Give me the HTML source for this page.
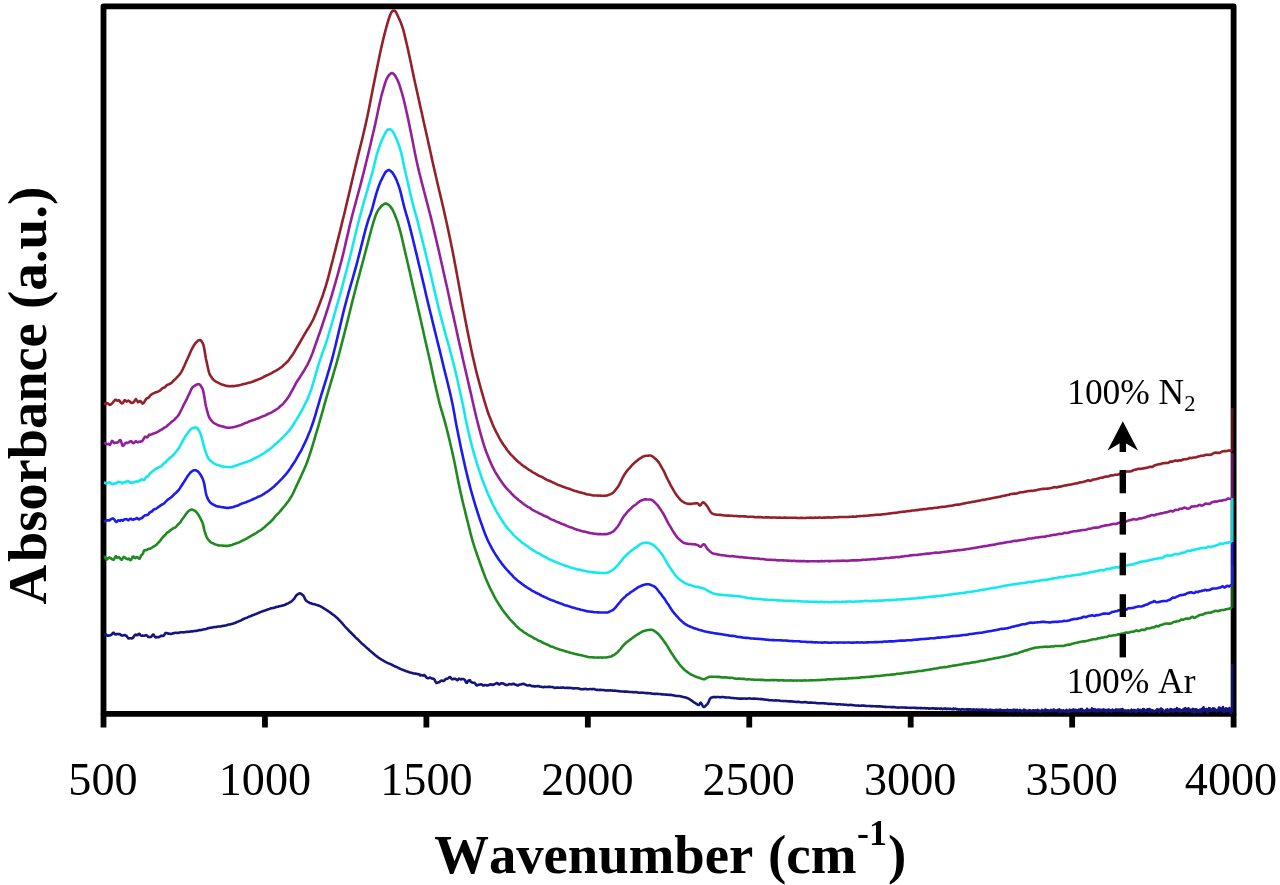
<!DOCTYPE html>
<html><head><meta charset="utf-8"><title>FTIR spectra</title>
<style>
html,body{margin:0;padding:0;background:#fff;}
body{width:1280px;height:885px;overflow:hidden;font-family:"Liberation Serif",serif;}
svg{display:block;will-change:transform;}
text{font-family:"Liberation Serif",serif;fill:#000;font-kerning:none;}
.tk{font-size:46.2px;}
.ax{font-size:55px;font-weight:bold;}
.an{font-size:35.4px;}
</style></head><body>
<svg width="1280" height="885" viewBox="0 0 1280 885">
<rect x="0" y="0" width="1280" height="885" fill="#fff"/>
<g id="frame">
<rect x="103.5" y="6.4" width="1130.10" height="707.40" fill="none" stroke="#000" stroke-width="5.8" stroke-linejoin="round"/>
<line x1="103.50" y1="713.80" x2="103.50" y2="727.5" stroke="#000" stroke-width="5.8"/>
<line x1="264.94" y1="713.80" x2="264.94" y2="727.5" stroke="#000" stroke-width="5.8"/>
<line x1="426.39" y1="713.80" x2="426.39" y2="727.5" stroke="#000" stroke-width="5.8"/>
<line x1="587.83" y1="713.80" x2="587.83" y2="727.5" stroke="#000" stroke-width="5.8"/>
<line x1="749.27" y1="713.80" x2="749.27" y2="727.5" stroke="#000" stroke-width="5.8"/>
<line x1="910.71" y1="713.80" x2="910.71" y2="727.5" stroke="#000" stroke-width="5.8"/>
<line x1="1072.16" y1="713.80" x2="1072.16" y2="727.5" stroke="#000" stroke-width="5.8"/>
<line x1="1233.60" y1="713.80" x2="1233.60" y2="727.5" stroke="#000" stroke-width="5.8"/>
</g>
<g id="curves">
<path d="M104.0,635.43 L104.5,635.24 L105.0,634.84 L105.5,634.53 L106.0,634.64 L106.5,634.81 L107.0,635.21 L107.5,635.62 L108.0,635.59 L108.5,635.65 L109.0,635.61 L109.5,635.44 L110.0,635.46 L110.5,635.19 L111.0,635.03 L111.5,634.69 L112.0,634.02 L112.5,633.49 L113.0,632.92 L113.5,632.70 L114.0,632.96 L114.5,633.57 L115.0,634.15 L115.5,634.48 L116.0,634.47 L116.5,634.17 L117.0,633.90 L117.5,633.94 L118.0,634.09 L118.5,634.15 L119.0,634.04 L119.5,634.15 L120.0,634.21 L120.5,634.52 L121.0,635.19 L121.5,635.29 L122.0,635.52 L122.5,635.64 L123.0,635.42 L123.5,635.33 L124.0,635.18 L124.5,635.17 L125.0,635.06 L125.5,635.39 L126.0,635.83 L126.5,635.90 L127.0,636.75 L127.5,637.32 L128.0,637.71 L128.5,638.44 L129.0,638.43 L129.5,638.21 L130.0,638.31 L130.5,638.19 L131.0,638.20 L131.5,638.51 L132.0,638.32 L132.5,638.16 L133.0,637.80 L133.5,637.02 L134.0,636.35 L134.5,635.54 L135.0,634.94 L135.5,634.66 L136.0,634.80 L136.5,634.99 L137.0,635.13 L137.5,635.19 L138.0,634.54 L138.5,634.13 L139.0,633.89 L139.5,633.78 L140.0,634.48 L140.5,635.08 L141.0,635.56 L141.5,635.74 L142.0,635.68 L142.5,635.59 L143.0,635.55 L143.5,635.81 L144.0,635.73 L144.5,635.69 L145.0,635.54 L145.5,635.25 L146.0,635.15 L146.5,635.21 L147.0,635.62 L147.5,636.08 L148.0,636.73 L148.5,636.99 L149.0,637.07 L149.5,637.14 L150.0,637.05 L150.5,637.04 L151.0,636.87 L151.5,636.46 L152.0,635.70 L152.5,635.21 L153.0,634.63 L153.5,634.54 L154.0,635.40 L154.5,636.04 L155.0,636.88 L155.5,637.47 L156.0,637.22 L156.5,637.14 L157.0,637.06 L157.5,637.04 L158.0,637.24 L158.5,637.22 L159.0,637.13 L159.5,636.87 L160.0,636.36 L160.5,636.14 L161.0,635.78 L161.5,635.62 L162.0,635.84 L162.5,635.85 L163.0,636.00 L163.5,635.86 L164.0,635.25 L164.5,634.49 L165.0,633.82 L165.5,633.03 L166.0,632.93 L166.5,633.00 L167.0,632.98 L167.5,633.37 L168.0,633.38 L168.5,633.67 L169.0,633.66 L169.5,633.73 L170.0,633.87 L170.5,633.81 L171.0,634.04 L171.5,633.96 L172.0,633.64 L172.5,633.50 L173.0,633.28 L173.5,633.15 L174.0,633.15 L174.5,633.01 L175.0,632.85 L175.5,632.75 L176.0,632.68 L176.5,632.78 L177.0,632.98 L177.5,633.02 L178.0,633.01 L178.5,632.85 L179.0,632.63 L179.5,632.53 L180.0,632.43 L180.5,632.37 L181.0,632.28 L181.5,632.26 L182.0,632.22 L182.5,632.24 L183.0,632.34 L183.5,632.34 L184.0,632.32 L184.5,632.32 L185.0,632.22 L185.5,632.00 L186.0,631.91 L186.5,631.79 L187.0,631.74 L187.5,631.86 L188.0,631.87 L188.5,631.86 L189.0,631.80 L189.5,631.68 L190.0,631.52 L190.5,631.44 L191.0,631.35 L191.5,631.33 L192.0,631.41 L192.5,631.35 L193.0,631.29 L193.5,631.20 L194.0,631.06 L194.5,630.99 L195.0,630.93 L195.5,630.88 L196.0,630.86 L196.5,630.85 L197.0,630.80 L197.5,630.65 L198.0,630.48 L198.5,630.31 L199.0,630.17 L199.5,630.16 L200.0,630.14 L200.5,630.10 L201.0,630.07 L201.5,629.95 L202.0,629.87 L202.5,629.72 L203.0,629.55 L203.5,629.43 L204.0,629.28 L204.5,629.26 L205.0,629.26 L205.5,629.18 L206.0,629.07 L206.5,628.85 L207.0,628.57 L207.5,628.36 L208.0,628.27 L208.5,628.15 L209.0,628.06 L209.5,627.95 L210.0,627.78 L210.5,627.69 L211.0,627.67 L211.5,627.62 L212.0,627.55 L212.5,627.46 L213.0,627.32 L213.5,627.19 L214.0,627.12 L214.5,627.06 L215.0,627.03 L215.5,627.02 L216.0,626.96 L216.5,626.88 L217.0,626.77 L217.5,626.66 L218.0,626.57 L218.5,626.51 L219.0,626.49 L219.5,626.47 L220.0,626.44 L220.5,626.41 L221.0,626.34 L221.5,626.23 L222.0,626.12 L222.5,625.98 L223.0,625.86 L223.5,625.77 L224.0,625.69 L224.5,625.64 L225.0,625.57 L225.5,625.51 L226.0,625.39 L226.5,625.26 L227.0,625.08 L227.5,624.85 L228.0,624.67 L228.5,624.52 L229.0,624.44 L229.5,624.43 L230.0,624.39 L230.5,624.31 L231.0,624.20 L231.5,624.06 L232.0,623.94 L232.5,623.80 L233.0,623.65 L233.5,623.49 L234.0,623.32 L234.5,623.14 L235.0,622.94 L235.5,622.71 L236.0,622.49 L236.5,622.27 L237.0,622.04 L237.5,621.84 L238.0,621.58 L238.5,621.37 L239.0,621.18 L239.5,620.98 L240.0,620.84 L240.5,620.63 L241.0,620.35 L241.5,620.08 L242.0,619.77 L242.5,619.48 L243.0,619.26 L243.5,619.02 L244.0,618.80 L244.5,618.59 L245.0,618.39 L245.5,618.19 L246.0,618.03 L246.5,617.82 L247.0,617.59 L247.5,617.34 L248.0,617.07 L248.5,616.84 L249.0,616.65 L249.5,616.52 L250.0,616.37 L250.5,616.20 L251.0,615.99 L251.5,615.73 L252.0,615.49 L252.5,615.29 L253.0,615.10 L253.5,614.94 L254.0,614.76 L254.5,614.54 L255.0,614.32 L255.5,614.11 L256.0,613.91 L256.5,613.75 L257.0,613.54 L257.5,613.31 L258.0,613.08 L258.5,612.85 L259.0,612.68 L259.5,612.50 L260.0,612.31 L260.5,612.10 L261.0,611.88 L261.5,611.66 L262.0,611.45 L262.5,611.28 L263.0,611.12 L263.5,611.00 L264.0,610.85 L264.5,610.70 L265.0,610.53 L265.5,610.32 L266.0,610.10 L266.5,609.91 L267.0,609.74 L267.5,609.60 L268.0,609.47 L268.5,609.32 L269.0,609.11 L269.5,608.90 L270.0,608.67 L270.5,608.49 L271.0,608.33 L271.5,608.22 L272.0,608.16 L272.5,608.05 L273.0,607.99 L273.5,607.92 L274.0,607.78 L274.5,607.65 L275.0,607.48 L275.5,607.27 L276.0,607.11 L276.5,606.98 L277.0,606.89 L277.5,606.81 L278.0,606.68 L278.5,606.52 L279.0,606.36 L279.5,606.22 L280.0,606.12 L280.5,606.02 L281.0,605.91 L281.5,605.79 L282.0,605.64 L282.5,605.50 L283.0,605.39 L283.5,605.28 L284.0,605.16 L284.5,605.00 L285.0,604.79 L285.5,604.53 L286.0,604.24 L286.5,604.01 L287.0,603.80 L287.5,603.63 L288.0,603.46 L288.5,603.20 L289.0,602.89 L289.5,602.55 L290.0,602.24 L290.5,601.94 L291.0,601.66 L291.5,601.34 L292.0,600.91 L292.5,600.45 L293.0,599.95 L293.5,599.45 L294.0,598.89 L294.5,598.19 L295.0,597.41 L295.5,596.60 L296.0,595.88 L296.5,595.27 L297.0,594.84 L297.5,594.48 L298.0,594.13 L298.5,593.80 L299.0,593.55 L299.5,593.41 L300.0,593.37 L300.5,593.50 L301.0,593.79 L301.5,594.10 L302.0,594.47 L302.5,594.87 L303.0,595.24 L303.5,595.80 L304.0,596.70 L304.5,597.77 L305.0,598.87 L305.5,599.84 L306.0,600.55 L306.5,600.94 L307.0,601.26 L307.5,601.60 L308.0,601.92 L308.5,602.22 L309.0,602.53 L309.5,602.77 L310.0,602.97 L310.5,603.15 L311.0,603.31 L311.5,603.50 L312.0,603.72 L312.5,603.87 L313.0,604.00 L313.5,604.07 L314.0,604.15 L314.5,604.24 L315.0,604.39 L315.5,604.58 L316.0,604.73 L316.5,604.91 L317.0,605.03 L317.5,605.16 L318.0,605.32 L318.5,605.49 L319.0,605.69 L319.5,605.90 L320.0,606.12 L320.5,606.36 L321.0,606.62 L321.5,606.89 L322.0,607.20 L322.5,607.49 L323.0,607.75 L323.5,608.06 L324.0,608.34 L324.5,608.67 L325.0,609.04 L325.5,609.37 L326.0,609.72 L326.5,610.01 L327.0,610.32 L327.5,610.64 L328.0,610.97 L328.5,611.35 L329.0,611.69 L329.5,612.04 L330.0,612.38 L330.5,612.73 L331.0,613.11 L331.5,613.49 L332.0,613.86 L332.5,614.22 L333.0,614.58 L333.5,614.91 L334.0,615.30 L334.5,615.70 L335.0,616.11 L335.5,616.55 L336.0,616.99 L336.5,617.39 L337.0,617.85 L337.5,618.31 L338.0,618.80 L338.5,619.34 L339.0,619.86 L339.5,620.40 L340.0,620.95 L340.5,621.45 L341.0,621.97 L341.5,622.49 L342.0,623.02 L342.5,623.61 L343.0,624.24 L343.5,624.83 L344.0,625.41 L344.5,626.00 L345.0,626.55 L345.5,627.10 L346.0,627.63 L346.5,628.08 L347.0,628.57 L347.5,629.11 L348.0,629.66 L348.5,630.25 L349.0,630.79 L349.5,631.30 L350.0,631.77 L350.5,632.26 L351.0,632.76 L351.5,633.24 L352.0,633.78 L352.5,634.27 L353.0,634.77 L353.5,635.24 L354.0,635.73 L354.5,636.23 L355.0,636.76 L355.5,637.32 L356.0,637.80 L356.5,638.24 L357.0,638.67 L357.5,639.11 L358.0,639.61 L358.5,640.12 L359.0,640.63 L359.5,641.12 L360.0,641.60 L360.5,642.13 L361.0,642.66 L361.5,643.18 L362.0,643.65 L362.5,644.05 L363.0,644.44 L363.5,644.84 L364.0,645.25 L364.5,645.70 L365.0,646.17 L365.5,646.63 L366.0,647.12 L366.5,647.58 L367.0,648.01 L367.5,648.44 L368.0,648.85 L368.5,649.29 L369.0,649.75 L369.5,650.20 L370.0,650.67 L370.5,651.10 L371.0,651.51 L371.5,651.94 L372.0,652.33 L372.5,652.76 L373.0,653.20 L373.5,653.63 L374.0,654.10 L374.5,654.54 L375.0,654.95 L375.5,655.35 L376.0,655.72 L376.5,656.09 L377.0,656.47 L377.5,656.84 L378.0,657.23 L378.5,657.59 L379.0,657.95 L379.5,658.30 L380.0,658.61 L380.5,658.92 L381.0,659.23 L381.5,659.52 L382.0,659.85 L382.5,660.16 L383.0,660.45 L383.5,660.74 L384.0,661.00 L384.5,661.28 L385.0,661.54 L385.5,661.80 L386.0,662.06 L386.5,662.32 L387.0,662.61 L387.5,662.88 L388.0,663.12 L388.5,663.34 L389.0,663.50 L389.5,663.70 L390.0,663.88 L390.5,664.05 L391.0,664.29 L391.5,664.51 L392.0,664.78 L392.5,665.08 L393.0,665.39 L393.5,665.69 L394.0,665.98 L394.5,666.25 L395.0,666.43 L395.5,666.59 L396.0,666.75 L396.5,666.92 L397.0,667.16 L397.5,667.45 L398.0,667.72 L398.5,667.97 L399.0,668.22 L399.5,668.43 L400.0,668.68 L400.5,668.95 L401.0,669.19 L401.5,669.43 L402.0,669.62 L402.5,669.76 L403.0,669.93 L403.5,670.10 L404.0,670.31 L404.5,670.54 L405.0,670.74 L405.5,670.93 L406.0,671.09 L406.5,671.23 L407.0,671.38 L407.5,671.55 L408.0,671.74 L408.5,671.96 L409.0,672.18 L409.5,672.37 L410.0,672.48 L410.5,672.58 L411.0,672.66 L411.5,672.75 L412.0,672.92 L412.5,673.11 L413.0,673.27 L413.5,673.43 L414.0,673.51 L414.5,673.55 L415.0,673.59 L415.5,673.64 L416.0,673.72 L416.5,673.84 L417.0,673.96 L417.5,674.06 L418.0,674.15 L418.5,674.24 L419.0,674.35 L419.5,674.47 L420.0,675.40 L420.5,675.36 L421.0,675.04 L421.5,675.17 L422.0,675.35 L422.5,675.46 L423.0,675.61 L423.5,675.26 L424.0,675.09 L424.5,675.28 L425.0,675.56 L425.5,676.23 L426.0,677.03 L426.5,677.55 L427.0,677.94 L427.5,678.23 L428.0,678.30 L428.5,678.11 L429.0,678.06 L429.5,677.68 L430.0,677.57 L430.5,677.87 L431.0,677.95 L431.5,678.39 L432.0,678.46 L432.5,678.49 L433.0,678.71 L433.5,678.77 L434.0,679.19 L434.5,679.72 L435.0,680.59 L435.5,681.66 L436.0,682.45 L436.5,683.02 L437.0,682.97 L437.5,682.70 L438.0,682.55 L438.5,682.30 L439.0,682.17 L439.5,682.00 L440.0,681.52 L440.5,681.09 L441.0,680.68 L441.5,680.50 L442.0,680.70 L442.5,680.82 L443.0,680.98 L443.5,681.01 L444.0,680.68 L444.5,680.26 L445.0,679.73 L445.5,679.23 L446.0,678.98 L446.5,678.82 L447.0,678.84 L447.5,678.59 L448.0,678.32 L448.5,678.00 L449.0,677.51 L449.5,677.19 L450.0,677.04 L450.5,677.39 L451.0,677.98 L451.5,678.77 L452.0,679.28 L452.5,679.30 L453.0,679.20 L453.5,679.03 L454.0,678.73 L454.5,678.73 L455.0,678.77 L455.5,678.84 L456.0,679.31 L456.5,679.66 L457.0,680.20 L457.5,680.11 L458.0,679.71 L458.5,679.23 L459.0,678.57 L459.5,678.82 L460.0,679.10 L460.5,679.27 L461.0,679.48 L461.5,679.13 L462.0,678.91 L462.5,679.05 L463.0,679.10 L463.5,679.13 L464.0,679.37 L464.5,679.57 L465.0,680.08 L465.5,681.38 L466.0,682.30 L466.5,682.82 L467.0,682.85 L467.5,681.85 L468.0,680.94 L468.5,680.55 L469.0,680.28 L469.5,680.65 L470.0,680.16 L470.5,681.64 L471.0,681.97 L471.5,682.12 L472.0,682.47 L472.5,682.73 L473.0,682.80 L473.5,682.81 L474.0,682.70 L474.5,682.86 L475.0,683.27 L475.5,684.04 L476.0,684.87 L476.5,685.29 L477.0,685.45 L477.5,685.25 L478.0,684.91 L478.5,684.82 L479.0,684.65 L479.5,684.56 L480.0,684.52 L480.5,684.39 L481.0,684.32 L481.5,684.50 L482.0,684.68 L482.5,684.98 L483.0,685.39 L483.5,685.44 L484.0,685.39 L484.5,685.26 L485.0,685.09 L485.5,685.00 L486.0,685.09 L486.5,685.32 L487.0,685.38 L487.5,685.47 L488.0,685.39 L488.5,685.16 L489.0,684.95 L489.5,684.69 L490.0,684.49 L490.5,684.22 L491.0,684.26 L491.5,684.54 L492.0,684.73 L492.5,684.99 L493.0,684.97 L493.5,684.61 L494.0,684.51 L494.5,684.27 L495.0,683.96 L495.5,683.84 L496.0,683.38 L496.5,683.08 L497.0,683.14 L497.5,683.23 L498.0,683.74 L498.5,684.28 L499.0,684.46 L499.5,684.50 L500.0,684.08 L500.5,683.54 L501.0,683.33 L501.5,683.21 L502.0,683.22 L502.5,683.47 L503.0,683.51 L503.5,683.63 L504.0,684.01 L504.5,684.22 L505.0,684.50 L505.5,684.76 L506.0,684.88 L506.5,684.99 L507.0,685.12 L507.5,684.95 L508.0,684.71 L508.5,684.44 L509.0,684.12 L509.5,684.03 L510.0,684.13 L510.5,684.33 L511.0,684.42 L511.5,684.47 L512.0,684.22 L512.5,683.93 L513.0,683.79 L513.5,683.83 L514.0,684.00 L514.5,684.24 L515.0,684.43 L515.5,684.47 L516.0,684.67 L516.5,684.99 L517.0,685.28 L517.5,685.55 L518.0,685.53 L518.5,685.20 L519.0,684.88 L519.5,684.59 L520.0,684.52 L520.5,684.46 L521.0,684.42 L521.5,684.38 L522.0,684.11 L522.5,683.95 L523.0,683.81 L523.5,683.73 L524.0,683.98 L524.5,684.24 L525.0,684.45 L525.5,684.66 L526.0,684.78 L526.5,685.06 L527.0,685.32 L527.5,685.51 L528.0,685.54 L528.5,685.35 L529.0,685.19 L529.5,685.12 L530.0,685.06 L530.5,685.63 L531.0,685.85 L531.5,686.01 L532.0,686.10 L532.5,686.05 L533.0,686.10 L533.5,686.16 L534.0,686.27 L534.5,686.43 L535.0,686.38 L535.5,686.36 L536.0,686.33 L536.5,686.23 L537.0,686.19 L537.5,686.09 L538.0,686.01 L538.5,686.12 L539.0,686.29 L539.5,686.53 L540.0,686.70 L540.5,686.73 L541.0,686.80 L541.5,686.84 L542.0,686.98 L542.5,687.11 L543.0,687.16 L543.5,687.13 L544.0,687.04 L544.5,686.98 L545.0,686.90 L545.5,686.90 L546.0,686.94 L546.5,686.93 L547.0,686.94 L547.5,686.94 L548.0,686.86 L548.5,686.83 L549.0,686.85 L549.5,686.82 L550.0,686.89 L550.5,686.98 L551.0,686.95 L551.5,687.01 L552.0,687.00 L552.5,686.98 L553.0,687.17 L553.5,687.40 L554.0,687.69 L554.5,687.95 L555.0,687.98 L555.5,687.85 L556.0,687.76 L556.5,687.60 L557.0,687.57 L557.5,687.62 L558.0,687.58 L558.5,687.69 L559.0,687.70 L559.5,687.72 L560.0,687.72 L560.5,687.65 L561.0,687.70 L561.5,687.71 L562.0,687.62 L562.5,687.58 L563.0,687.49 L563.5,687.47 L564.0,687.66 L564.5,687.81 L565.0,687.91 L565.5,687.95 L566.0,687.89 L566.5,687.83 L567.0,687.77 L567.5,687.84 L568.0,687.89 L568.5,687.84 L569.0,687.94 L569.5,687.91 L570.0,687.87 L570.5,687.96 L571.0,687.93 L571.5,688.00 L572.0,688.13 L572.5,688.26 L573.0,688.40 L573.5,688.42 L574.0,688.42 L574.5,688.38 L575.0,688.30 L575.5,688.29 L576.0,688.25 L576.5,688.22 L577.0,688.25 L577.5,688.27 L578.0,688.34 L578.5,688.42 L579.0,688.57 L579.5,688.77 L580.0,688.92 L580.5,689.14 L581.0,689.23 L581.5,689.23 L582.0,689.22 L582.5,689.11 L583.0,689.18 L583.5,689.14 L584.0,689.12 L584.5,689.06 L585.0,688.87 L585.5,688.89 L586.0,688.99 L586.5,689.12 L587.0,689.28 L587.5,689.30 L588.0,689.33 L588.5,689.26 L589.0,689.19 L589.5,689.11 L590.0,688.99 L590.5,689.06 L591.0,689.07 L591.5,689.18 L592.0,689.21 L592.5,689.13 L593.0,689.09 L593.5,688.97 L594.0,688.99 L594.5,689.12 L595.0,689.33 L595.5,689.60 L596.0,689.80 L596.5,689.87 L597.0,689.91 L597.5,689.91 L598.0,689.91 L598.5,689.95 L599.0,689.93 L599.5,689.88 L600.0,689.81 L600.5,689.85 L601.0,689.87 L601.5,689.92 L602.0,689.97 L602.5,690.00 L603.0,690.05 L603.5,690.07 L604.0,690.14 L604.5,690.21 L605.0,690.29 L605.5,690.40 L606.0,690.44 L606.5,690.47 L607.0,690.45 L607.5,690.41 L608.0,690.42 L608.5,690.43 L609.0,690.44 L609.5,690.45 L610.0,690.42 L610.5,690.40 L611.0,690.42 L611.5,690.45 L612.0,690.53 L612.5,690.60 L613.0,690.64 L613.5,690.68 L614.0,690.68 L614.5,690.65 L615.0,690.63 L615.5,690.68 L616.0,690.73 L616.5,690.86 L617.0,690.97 L617.5,691.02 L618.0,691.08 L618.5,691.09 L619.0,691.14 L619.5,691.22 L620.0,691.30 L620.5,691.39 L621.0,691.43 L621.5,691.44 L622.0,691.43 L622.5,691.43 L623.0,691.47 L623.5,691.54 L624.0,691.58 L624.5,691.61 L625.0,691.63 L625.5,691.61 L626.0,691.63 L626.5,691.66 L627.0,691.66 L627.5,691.68 L628.0,691.74 L628.5,691.81 L629.0,691.92 L629.5,692.01 L630.0,692.01 L630.5,691.99 L631.0,691.98 L631.5,691.98 L632.0,692.03 L632.5,692.09 L633.0,692.15 L633.5,692.20 L634.0,692.20 L634.5,692.18 L635.0,692.13 L635.5,692.11 L636.0,692.13 L636.5,692.20 L637.0,692.34 L637.5,692.47 L638.0,692.58 L638.5,692.67 L639.0,692.70 L639.5,692.70 L640.0,692.71 L640.5,692.70 L641.0,692.66 L641.5,692.68 L642.0,692.67 L642.5,692.67 L643.0,692.72 L643.5,692.72 L644.0,692.77 L644.5,692.86 L645.0,692.92 L645.5,693.04 L646.0,693.08 L646.5,693.10 L647.0,693.11 L647.5,693.09 L648.0,693.14 L648.5,693.17 L649.0,693.22 L649.5,693.28 L650.0,693.32 L650.5,693.37 L651.0,693.46 L651.5,693.56 L652.0,693.63 L652.5,693.71 L653.0,693.76 L653.5,693.77 L654.0,693.83 L654.5,693.87 L655.0,693.86 L655.5,693.86 L656.0,693.82 L656.5,693.81 L657.0,693.84 L657.5,693.88 L658.0,693.92 L658.5,693.93 L659.0,693.94 L659.5,693.96 L660.0,694.02 L660.5,694.09 L661.0,694.19 L661.5,694.29 L662.0,694.35 L662.5,694.40 L663.0,694.42 L663.5,694.43 L664.0,694.45 L664.5,694.49 L665.0,694.55 L665.5,694.58 L666.0,694.64 L666.5,694.65 L667.0,694.66 L667.5,694.69 L668.0,694.73 L668.5,694.80 L669.0,694.84 L669.5,694.87 L670.0,694.85 L670.5,694.83 L671.0,694.89 L671.5,694.97 L672.0,695.11 L672.5,695.23 L673.0,695.31 L673.5,695.37 L674.0,695.44 L674.5,695.54 L675.0,695.65 L675.5,695.78 L676.0,695.89 L676.5,695.97 L677.0,696.01 L677.5,696.02 L678.0,696.02 L678.5,696.02 L679.0,696.03 L679.5,696.08 L680.0,696.16 L680.5,696.28 L681.0,696.43 L681.5,696.58 L682.0,696.72 L682.5,696.80 L683.0,696.91 L683.5,697.03 L684.0,697.15 L684.5,697.27 L685.0,697.34 L685.5,697.45 L686.0,697.58 L686.5,697.75 L687.0,697.97 L687.5,698.17 L688.0,698.40 L688.5,698.65 L689.0,698.93 L689.5,699.21 L690.0,699.49 L690.5,699.81 L691.0,700.11 L691.5,700.47 L692.0,700.87 L692.5,701.22 L693.0,701.60 L693.5,701.97 L694.0,702.30 L694.5,702.64 L695.0,702.93 L695.5,703.23 L696.0,703.55 L696.5,703.87 L697.0,704.21 L697.5,704.53 L698.0,704.80 L698.5,704.99 L699.0,704.92 L699.5,704.11 L700.0,703.11 L700.5,702.66 L701.0,702.97 L701.5,703.70 L702.0,704.66 L702.5,705.61 L703.0,706.43 L703.5,706.92 L704.0,706.92 L704.5,706.72 L705.0,706.35 L705.5,705.88 L706.0,705.36 L706.5,704.83 L707.0,704.31 L707.5,703.79 L708.0,703.08 L708.5,702.10 L709.0,700.98 L709.5,699.86 L710.0,698.89 L710.5,698.12 L711.0,697.66 L711.5,697.53 L712.0,697.39 L712.5,697.24 L713.0,697.15 L713.5,697.09 L714.0,697.09 L714.5,697.13 L715.0,697.13 L715.5,697.12 L716.0,697.12 L716.5,697.09 L717.0,697.05 L717.5,697.03 L718.0,697.03 L718.5,697.07 L719.0,697.13 L719.5,697.20 L720.0,697.23 L720.5,697.21 L721.0,697.17 L721.5,697.10 L722.0,697.04 L722.5,697.05 L723.0,697.07 L723.5,697.10 L724.0,697.18 L724.5,697.22 L725.0,697.27 L725.5,697.37 L726.0,697.44 L726.5,697.51 L727.0,697.54 L727.5,697.52 L728.0,697.49 L728.5,697.45 L729.0,697.48 L729.5,697.56 L730.0,697.66 L730.5,697.77 L731.0,697.88 L731.5,697.93 L732.0,697.98 L732.5,698.04 L733.0,698.06 L733.5,698.09 L734.0,698.16 L734.5,698.20 L735.0,698.24 L735.5,698.29 L736.0,698.31 L736.5,698.34 L737.0,698.40 L737.5,698.43 L738.0,698.50 L738.5,698.56 L739.0,698.61 L739.5,698.66 L740.0,698.63 L740.5,698.63 L741.0,698.60 L741.5,698.59 L742.0,698.63 L742.5,698.63 L743.0,698.61 L743.5,698.57 L744.0,698.53 L744.5,698.53 L745.0,698.56 L745.5,698.61 L746.0,698.67 L746.5,698.69 L747.0,698.67 L747.5,698.61 L748.0,698.49 L748.5,698.42 L749.0,698.37 L749.5,698.39 L750.0,698.48 L750.5,698.56 L751.0,698.65 L751.5,698.69 L752.0,698.70 L752.5,698.69 L753.0,698.65 L753.5,698.61 L754.0,698.60 L754.5,698.63 L755.0,698.65 L755.5,698.69 L756.0,698.71 L756.5,698.70 L757.0,698.75 L757.5,698.79 L758.0,698.86 L758.5,698.94 L759.0,698.98 L759.5,699.02 L760.0,699.03 L760.5,699.10 L761.0,699.11 L761.5,699.13 L762.0,699.14 L762.5,699.16 L763.0,699.26 L763.5,699.38 L764.0,699.48 L764.5,699.56 L765.0,699.63 L765.5,699.67 L766.0,699.76 L766.5,699.81 L767.0,699.82 L767.5,699.87 L768.0,699.92 L768.5,700.05 L769.0,700.18 L769.5,700.23 L770.0,700.27 L770.5,700.24 L771.0,700.20 L771.5,700.23 L772.0,700.24 L772.5,700.31 L773.0,700.39 L773.5,700.44 L774.0,700.47 L774.5,700.47 L775.0,700.44 L775.5,700.41 L776.0,700.42 L776.5,700.42 L777.0,700.43 L777.5,700.44 L778.0,700.44 L778.5,700.46 L779.0,700.53 L779.5,700.64 L780.0,700.76 L780.5,700.86 L781.0,700.93 L781.5,700.93 L782.0,700.94 L782.5,701.00 L783.0,701.03 L783.5,701.08 L784.0,701.09 L784.5,701.06 L785.0,701.05 L785.5,701.06 L786.0,701.08 L786.5,701.12 L787.0,701.16 L787.5,701.21 L788.0,701.28 L788.5,701.34 L789.0,701.37 L789.5,701.39 L790.0,701.39 L790.5,701.37 L791.0,701.38 L791.5,701.39 L792.0,701.40 L792.5,701.46 L793.0,701.52 L793.5,701.62 L794.0,701.70 L794.5,701.73 L795.0,701.81 L795.5,701.83 L796.0,701.89 L796.5,701.93 L797.0,701.92 L797.5,701.91 L798.0,701.84 L798.5,701.85 L799.0,701.88 L799.5,701.96 L800.0,702.11 L800.5,702.18 L801.0,702.26 L801.5,702.30 L802.0,702.33 L802.5,702.34 L803.0,702.32 L803.5,702.25 L804.0,702.15 L804.5,702.10 L805.0,702.06 L805.5,702.10 L806.0,702.18 L806.5,702.28 L807.0,702.42 L807.5,702.53 L808.0,702.63 L808.5,702.68 L809.0,702.67 L809.5,702.67 L810.0,702.62 L810.5,702.61 L811.0,702.61 L811.5,702.59 L812.0,702.65 L812.5,702.68 L813.0,702.76 L813.5,702.83 L814.0,702.82 L814.5,702.81 L815.0,702.80 L815.5,702.85 L816.0,702.95 L816.5,703.08 L817.0,703.17 L817.5,703.18 L818.0,703.18 L818.5,703.18 L819.0,703.18 L819.5,703.24 L820.0,703.27 L820.5,703.28 L821.0,703.27 L821.5,703.22 L822.0,703.19 L822.5,703.17 L823.0,703.19 L823.5,703.23 L824.0,703.31 L824.5,703.36 L825.0,703.41 L825.5,703.44 L826.0,703.44 L826.5,703.51 L827.0,703.59 L827.5,703.70 L828.0,703.81 L828.5,703.84 L829.0,703.86 L829.5,703.86 L830.0,703.79 L830.5,703.82 L831.0,703.85 L831.5,703.88 L832.0,704.00 L832.5,704.03 L833.0,704.03 L833.5,704.04 L834.0,703.99 L834.5,704.00 L835.0,704.02 L835.5,704.09 L836.0,704.18 L836.5,704.28 L837.0,704.37 L837.5,704.41 L838.0,704.42 L838.5,704.35 L839.0,704.31 L839.5,704.28 L840.0,704.31 L840.5,704.40 L841.0,704.43 L841.5,704.48 L842.0,704.49 L842.5,704.48 L843.0,704.52 L843.5,704.57 L844.0,704.63 L844.5,704.69 L845.0,704.72 L845.5,704.72 L846.0,704.75 L846.5,704.84 L847.0,704.93 L847.5,705.04 L848.0,705.11 L848.5,705.08 L849.0,705.02 L849.5,704.95 L850.0,704.89 L850.5,704.88 L851.0,704.92 L851.5,704.98 L852.0,705.04 L852.5,705.09 L853.0,705.13 L853.5,705.18 L854.0,705.24 L854.5,705.35 L855.0,705.44 L855.5,705.51 L856.0,705.53 L856.5,705.56 L857.0,705.55 L857.5,705.57 L858.0,705.61 L858.5,705.60 L859.0,705.66 L859.5,705.69 L860.0,705.68 L860.5,705.70 L861.0,705.67 L861.5,705.62 L862.0,705.59 L862.5,705.56 L863.0,705.56 L863.5,705.61 L864.0,705.65 L864.5,705.72 L865.0,705.79 L865.5,705.85 L866.0,705.94 L866.5,705.97 L867.0,705.97 L867.5,705.97 L868.0,705.93 L868.5,705.94 L869.0,705.98 L869.5,706.00 L870.0,706.08 L870.5,706.14 L871.0,706.12 L871.5,706.18 L872.0,706.17 L872.5,706.16 L873.0,706.22 L873.5,706.21 L874.0,706.25 L874.5,706.28 L875.0,706.27 L875.5,706.30 L876.0,706.32 L876.5,706.34 L877.0,706.39 L877.5,706.39 L878.0,706.42 L878.5,706.38 L879.0,706.38 L879.5,706.36 L880.0,706.32 L880.5,706.40 L881.0,706.44 L881.5,706.50 L882.0,706.60 L882.5,706.62 L883.0,706.69 L883.5,706.78 L884.0,706.81 L884.5,706.86 L885.0,706.87 L885.5,706.86 L886.0,706.90 L886.5,706.95 L887.0,706.98 L887.5,706.98 L888.0,706.99 L888.5,707.01 L889.0,707.02 L889.5,707.06 L890.0,707.06 L890.5,707.06 L891.0,707.10 L891.5,707.12 L892.0,707.16 L892.5,707.15 L893.0,707.12 L893.5,707.10 L894.0,707.09 L894.5,707.14 L895.0,707.24 L895.5,707.32 L896.0,707.41 L896.5,707.50 L897.0,707.54 L897.5,707.57 L898.0,707.61 L898.5,707.59 L899.0,707.56 L899.5,707.55 L900.0,707.52 L900.5,707.47 L901.0,707.46 L901.5,707.43 L902.0,707.41 L902.5,707.46 L903.0,707.45 L903.5,707.48 L904.0,707.52 L904.5,707.56 L905.0,707.58 L905.5,707.64 L906.0,707.64 L906.5,707.67 L907.0,707.69 L907.5,707.68 L908.0,707.75 L908.5,707.78 L909.0,707.82 L909.5,707.82 L910.0,707.83 L910.5,707.88 L911.0,707.89 L911.5,707.83 L912.0,707.78 L912.5,707.69 L913.0,707.68 L913.5,707.73 L914.0,707.75 L914.5,707.79 L915.0,707.97 L915.5,707.90 L916.0,707.90 L916.5,708.04 L917.0,708.16 L917.5,708.10 L918.0,708.21 L918.5,708.07 L919.0,708.04 L919.5,708.02 L920.0,708.05 L920.5,708.24 L921.0,708.05 L921.5,708.28 L922.0,708.10 L922.5,708.17 L923.0,708.23 L923.5,708.21 L924.0,708.18 L924.5,708.02 L925.0,708.27 L925.5,708.19 L926.0,708.53 L926.5,708.26 L927.0,708.31 L927.5,708.21 L928.0,708.36 L928.5,708.35 L929.0,708.67 L929.5,708.54 L930.0,708.62 L930.5,708.43 L931.0,708.40 L931.5,708.56 L932.0,708.26 L932.5,708.16 L933.0,708.43 L933.5,708.25 L934.0,708.39 L934.5,708.58 L935.0,708.39 L935.5,708.64 L936.0,708.42 L936.5,708.73 L937.0,708.71 L937.5,708.48 L938.0,708.55 L938.5,708.47 L939.0,708.64 L939.5,708.80 L940.0,708.42 L940.5,708.84 L941.0,708.57 L941.5,708.67 L942.0,708.59 L942.5,709.19 L943.0,708.81 L943.5,708.79 L944.0,708.55 L944.5,708.81 L945.0,708.29 L945.5,708.70 L946.0,709.12 L946.5,708.71 L947.0,708.79 L947.5,708.89 L948.0,708.65 L948.5,708.79 L949.0,708.97 L949.5,708.84 L950.0,708.87 L950.5,708.77 L951.0,708.96 L951.5,708.99 L952.0,709.31 L952.5,709.18 L953.0,708.97 L953.5,708.50 L954.0,709.14 L954.5,709.18 L955.0,708.86 L955.5,708.69 L956.0,708.90 L956.5,709.38 L957.0,709.04 L957.5,709.21 L958.0,709.41 L958.5,709.68 L959.0,709.42 L959.5,709.44 L960.0,709.35 L960.5,709.83 L961.0,709.69 L961.5,709.38 L962.0,709.04 L962.5,709.15 L963.0,709.48 L963.5,709.20 L964.0,709.61 L964.5,709.51 L965.0,709.48 L965.5,709.56 L966.0,709.51 L966.5,709.19 L967.0,709.33 L967.5,710.01 L968.0,709.12 L968.5,709.30 L969.0,709.73 L969.5,709.45 L970.0,709.31 L970.5,709.20 L971.0,709.72 L971.5,709.87 L972.0,710.01 L972.5,709.67 L973.0,709.95 L973.5,709.41 L974.0,709.69 L974.5,709.46 L975.0,709.73 L975.5,709.91 L976.0,710.06 L976.5,709.50 L977.0,710.14 L977.5,709.65 L978.0,709.55 L978.5,709.83 L979.0,709.48 L979.5,709.89 L980.0,709.87 L980.5,709.68 L981.0,709.87 L981.5,709.65 L982.0,709.85 L982.5,709.46 L983.0,710.00 L983.5,709.74 L984.0,709.87 L984.5,710.01 L985.0,710.10 L985.5,709.50 L986.0,709.50 L986.5,709.90 L987.0,710.17 L987.5,710.12 L988.0,710.30 L988.5,710.44 L989.0,710.14 L989.5,709.95 L990.0,709.62 L990.5,709.68 L991.0,709.91 L991.5,710.20 L992.0,710.22 L992.5,710.15 L993.0,710.08 L993.5,710.40 L994.0,710.27 L994.5,710.31 L995.0,710.33 L995.5,709.97 L996.0,709.74 L996.5,710.28 L997.0,710.22 L997.5,709.99 L998.0,709.95 L998.5,710.92 L999.0,709.79 L999.5,709.97 L1000.0,710.15 L1000.5,709.58 L1001.0,710.12 L1001.5,710.80 L1002.0,710.46 L1002.5,710.40 L1003.0,710.39 L1003.5,710.22 L1004.0,710.64 L1004.5,710.21 L1005.0,710.14 L1005.5,710.41 L1006.0,710.74 L1006.5,710.55 L1007.0,710.74 L1007.5,709.66 L1008.0,710.97 L1008.5,711.43 L1009.0,710.98 L1009.5,710.32 L1010.0,710.11 L1010.5,710.61 L1011.0,710.18 L1011.5,710.92 L1012.0,710.42 L1012.5,711.06 L1013.0,711.14 L1013.5,709.64 L1014.0,710.64 L1014.5,710.19 L1015.0,709.92 L1015.5,710.27 L1016.0,710.40 L1016.5,710.91 L1017.0,709.77 L1017.5,710.86 L1018.0,711.26 L1018.5,710.62 L1019.0,710.54 L1019.5,710.32 L1020.0,709.83 L1020.5,710.63 L1021.0,710.61 L1021.5,710.76 L1022.0,711.61 L1022.5,710.72 L1023.0,710.54 L1023.5,711.04 L1024.0,709.68 L1024.5,709.85 L1025.0,710.29 L1025.5,710.28 L1026.0,711.02 L1026.5,710.55 L1027.0,711.54 L1027.5,711.37 L1028.0,710.97 L1028.5,710.44 L1029.0,710.96 L1029.5,711.12 L1030.0,710.23 L1030.5,710.94 L1031.0,711.12 L1031.5,710.85 L1032.0,711.50 L1032.5,711.30 L1033.0,710.25 L1033.5,710.74 L1034.0,710.28 L1034.5,711.00 L1035.0,710.30 L1035.5,711.17 L1036.0,710.91 L1036.5,711.20 L1037.0,710.58 L1037.5,709.89 L1038.0,711.46 L1038.5,710.42 L1039.0,711.26 L1039.5,710.83 L1040.0,711.06 L1040.5,711.68 L1041.0,710.89 L1041.5,711.43 L1042.0,709.89 L1042.5,711.19 L1043.0,710.62 L1043.5,710.62 L1044.0,710.66 L1044.5,710.77 L1045.0,711.37 L1045.5,709.43 L1046.0,710.44 L1046.5,710.01 L1047.0,711.11 L1047.5,710.28 L1048.0,710.80 L1048.5,710.39 L1049.0,711.09 L1049.5,711.32 L1050.0,710.59 L1050.5,710.84 L1051.0,709.92 L1051.5,710.87 L1052.0,711.12 L1052.5,710.30 L1053.0,711.29 L1053.5,709.46 L1054.0,709.61 L1054.5,709.86 L1055.0,710.34 L1055.5,710.58 L1056.0,710.48 L1056.5,710.44 L1057.0,710.90 L1057.5,710.20 L1058.0,709.76 L1058.5,709.87 L1059.0,711.98 L1059.5,709.41 L1060.0,710.79 L1060.5,711.78 L1061.0,711.18 L1061.5,710.36 L1062.0,710.80 L1062.5,711.30 L1063.0,711.51 L1063.5,710.24 L1064.0,711.30 L1064.5,710.99 L1065.0,711.49 L1065.5,711.60 L1066.0,710.49 L1066.5,709.76 L1067.0,710.95 L1067.5,711.85 L1068.0,711.16 L1068.5,710.88 L1069.0,712.17 L1069.5,709.88 L1070.0,711.06 L1070.5,710.06 L1071.0,710.47 L1071.5,710.52 L1072.0,711.43 L1072.5,709.85 L1073.0,710.16 L1073.5,709.49 L1074.0,710.90 L1074.5,710.28 L1075.0,710.80 L1075.5,709.80 L1076.0,710.25 L1076.5,711.16 L1077.0,710.36 L1077.5,710.91 L1078.0,710.86 L1078.5,710.33 L1079.0,709.56 L1079.5,711.24 L1080.0,710.68 L1080.5,711.19 L1081.0,709.13 L1081.5,709.45 L1082.0,709.19 L1082.5,710.10 L1083.0,711.45 L1083.5,711.10 L1084.0,710.65 L1084.5,710.78 L1085.0,711.24 L1085.5,710.45 L1086.0,710.84 L1086.5,710.53 L1087.0,708.80 L1087.5,710.01 L1088.0,711.22 L1088.5,710.04 L1089.0,710.22 L1089.5,709.95 L1090.0,710.15 L1090.5,711.36 L1091.0,710.44 L1091.5,709.95 L1092.0,708.41 L1092.5,710.25 L1093.0,709.25 L1093.5,709.33 L1094.0,711.28 L1094.5,711.21 L1095.0,709.25 L1095.5,711.34 L1096.0,711.13 L1096.5,710.29 L1097.0,711.48 L1097.5,709.63 L1098.0,709.79 L1098.5,709.51 L1099.0,709.73 L1099.5,711.32 L1100.0,709.72 L1100.5,709.88 L1101.0,709.92 L1101.5,710.61 L1102.0,710.11 L1102.5,710.96 L1103.0,709.77 L1103.5,709.40 L1104.0,710.04 L1104.5,710.52 L1105.0,709.80 L1105.5,710.73 L1106.0,711.91 L1106.5,709.96 L1107.0,710.42 L1107.5,711.39 L1108.0,709.81 L1108.5,709.73 L1109.0,709.55 L1109.5,710.82 L1110.0,710.95 L1110.5,710.43 L1111.0,710.66 L1111.5,711.66 L1112.0,711.38 L1112.5,709.52 L1113.0,710.55 L1113.5,710.60 L1114.0,711.12 L1114.5,710.51 L1115.0,710.28 L1115.5,710.45 L1116.0,709.34 L1116.5,710.64 L1117.0,710.06 L1117.5,710.91 L1118.0,709.70 L1118.5,710.18 L1119.0,709.76 L1119.5,709.66 L1120.0,711.01 L1120.5,709.95 L1121.0,710.66 L1121.5,709.32 L1122.0,710.36 L1122.5,709.04 L1123.0,710.16 L1123.5,710.22 L1124.0,711.23 L1124.5,710.77 L1125.0,710.35 L1125.5,711.14 L1126.0,710.49 L1126.5,710.79 L1127.0,711.08 L1127.5,710.45 L1128.0,710.39 L1128.5,711.07 L1129.0,710.47 L1129.5,711.21 L1130.0,711.82 L1130.5,711.60 L1131.0,710.52 L1131.5,709.66 L1132.0,710.63 L1132.5,710.38 L1133.0,711.35 L1133.5,710.03 L1134.0,710.23 L1134.5,711.18 L1135.0,710.17 L1135.5,710.39 L1136.0,711.95 L1136.5,711.65 L1137.0,710.77 L1137.5,710.42 L1138.0,709.33 L1138.5,710.70 L1139.0,710.31 L1139.5,710.44 L1140.0,709.79 L1140.5,710.25 L1141.0,710.16 L1141.5,710.78 L1142.0,711.84 L1142.5,710.94 L1143.0,709.08 L1143.5,709.66 L1144.0,709.10 L1144.5,709.85 L1145.0,711.13 L1145.5,710.96 L1146.0,710.10 L1146.5,710.94 L1147.0,710.01 L1147.5,709.41 L1148.0,709.35 L1148.5,709.79 L1149.0,711.79 L1149.5,709.15 L1150.0,711.45 L1150.5,711.50 L1151.0,710.18 L1151.5,710.37 L1152.0,710.00 L1152.5,710.62 L1153.0,711.30 L1153.5,710.73 L1154.0,711.70 L1154.5,711.86 L1155.0,711.03 L1155.5,710.93 L1156.0,710.42 L1156.5,710.79 L1157.0,709.31 L1157.5,710.76 L1158.0,710.66 L1158.5,709.63 L1159.0,712.63 L1159.5,709.58 L1160.0,709.60 L1160.5,710.71 L1161.0,708.53 L1161.5,709.73 L1162.0,709.07 L1162.5,709.64 L1163.0,710.39 L1163.5,710.72 L1164.0,711.44 L1164.5,711.08 L1165.0,711.54 L1165.5,711.03 L1166.0,709.94 L1166.5,711.52 L1167.0,709.75 L1167.5,709.47 L1168.0,711.74 L1168.5,711.07 L1169.0,710.70 L1169.5,711.40 L1170.0,711.44 L1170.5,709.14 L1171.0,710.39 L1171.5,709.27 L1172.0,710.68 L1172.5,709.87 L1173.0,711.88 L1173.5,711.04 L1174.0,709.63 L1174.5,710.45 L1175.0,709.23 L1175.5,710.41 L1176.0,710.82 L1176.5,710.48 L1177.0,708.16 L1177.5,709.87 L1178.0,710.85 L1178.5,710.65 L1179.0,711.63 L1179.5,709.16 L1180.0,711.12 L1180.5,709.98 L1181.0,710.91 L1181.5,711.15 L1182.0,711.39 L1182.5,709.99 L1183.0,710.72 L1183.5,709.11 L1184.0,708.80 L1184.5,710.73 L1185.0,709.92 L1185.5,708.15 L1186.0,708.89 L1186.5,709.87 L1187.0,711.63 L1187.5,711.23 L1188.0,711.04 L1188.5,708.33 L1189.0,710.12 L1189.5,710.62 L1190.0,710.42 L1190.5,710.33 L1191.0,709.60 L1191.5,711.81 L1192.0,711.54 L1192.5,709.80 L1193.0,708.80 L1193.5,712.25 L1194.0,709.49 L1194.5,711.59 L1195.0,712.48 L1195.5,709.19 L1196.0,710.33 L1196.5,709.39 L1197.0,710.23 L1197.5,710.04 L1198.0,712.01 L1198.5,710.58 L1199.0,710.04 L1199.5,711.38 L1200.0,709.84 L1200.5,709.76 L1201.0,712.64 L1201.5,709.11 L1202.0,709.39 L1202.5,709.92 L1203.0,708.52 L1203.5,707.23 L1204.0,710.93 L1204.5,708.93 L1205.0,709.48 L1205.5,709.89 L1206.0,709.14 L1206.5,709.00 L1207.0,710.26 L1207.5,712.67 L1208.0,710.80 L1208.5,710.78 L1209.0,708.19 L1209.5,710.02 L1210.0,708.57 L1210.5,710.89 L1211.0,709.75 L1211.5,710.05 L1212.0,710.02 L1212.5,709.50 L1213.0,708.33 L1213.5,710.80 L1214.0,708.50 L1214.5,708.75 L1215.0,710.03 L1215.5,709.62 L1216.0,710.69 L1216.5,711.43 L1217.0,710.21 L1217.5,710.02 L1218.0,709.74 L1218.5,710.76 L1219.0,707.55 L1219.5,710.11 L1220.0,708.51 L1220.5,708.06 L1221.0,709.56 L1221.5,709.20 L1222.0,710.42 L1222.5,711.10 L1223.0,706.94 L1223.5,709.59 L1224.0,712.14 L1224.5,710.94 L1225.0,711.80 L1225.5,710.26 L1226.0,708.32 L1226.5,708.55 L1227.0,710.74 L1227.5,711.10 L1228.0,709.08 L1228.5,709.81 L1229.0,710.52 L1229.5,708.02 L1230.0,709.74 L1230.5,712.14 L1231.0,712.80 L1231.5,709.83 L1232.0,712.22" fill="none" stroke="#15157e" stroke-width="2.6" stroke-linejoin="round" stroke-linecap="butt"/>
<path d="M104.0,557.07 L104.5,556.73 L105.0,557.04 L105.5,558.16 L106.0,559.00 L106.5,559.58 L107.0,559.50 L107.5,558.89 L108.0,558.34 L108.5,557.96 L109.0,557.63 L109.5,557.63 L110.0,557.62 L110.5,558.06 L111.0,558.50 L111.5,558.71 L112.0,559.12 L112.5,559.41 L113.0,559.69 L113.5,559.71 L114.0,559.52 L114.5,558.36 L115.0,557.21 L115.5,556.59 L116.0,556.18 L116.5,556.76 L117.0,557.62 L117.5,557.72 L118.0,557.60 L118.5,557.43 L119.0,557.12 L119.5,557.51 L120.0,558.19 L120.5,558.87 L121.0,559.31 L121.5,559.79 L122.0,559.67 L122.5,558.69 L123.0,558.06 L123.5,557.07 L124.0,556.78 L124.5,557.34 L125.0,557.58 L125.5,558.07 L126.0,558.51 L126.5,558.78 L127.0,558.98 L127.5,559.13 L128.0,558.84 L128.5,558.64 L129.0,558.96 L129.5,559.38 L130.0,559.89 L130.5,560.23 L131.0,559.93 L131.5,558.98 L132.0,557.98 L132.5,556.92 L133.0,556.56 L133.5,556.65 L134.0,557.26 L134.5,557.80 L135.0,557.83 L135.5,558.06 L136.0,557.39 L136.5,557.16 L137.0,557.24 L137.5,557.08 L138.0,557.91 L138.5,558.39 L139.0,558.62 L139.5,558.80 L140.0,557.86 L140.5,556.86 L141.0,555.79 L141.5,554.90 L142.0,554.77 L142.5,554.16 L143.0,553.31 L143.5,552.11 L144.0,550.68 L144.5,550.16 L145.0,550.02 L145.5,550.20 L146.0,550.22 L146.5,550.00 L147.0,549.81 L147.5,549.44 L148.0,549.16 L148.5,548.97 L149.0,548.74 L149.5,548.89 L150.0,548.72 L150.5,548.54 L151.0,548.34 L151.5,547.93 L152.0,547.58 L152.5,547.27 L153.0,546.89 L153.5,546.55 L154.0,546.27 L154.5,545.95 L155.0,545.80 L155.5,545.50 L156.0,545.06 L156.5,544.69 L157.0,544.05 L157.5,543.51 L158.0,543.08 L158.5,542.49 L159.0,541.96 L159.5,541.53 L160.0,540.90 L160.5,540.23 L161.0,539.63 L161.5,538.87 L162.0,538.20 L162.5,537.67 L163.0,537.04 L163.5,536.50 L164.0,536.01 L164.5,535.52 L165.0,535.10 L165.5,534.61 L166.0,534.03 L166.5,533.38 L167.0,532.80 L167.5,532.38 L168.0,532.06 L168.5,531.83 L169.0,531.45 L169.5,531.01 L170.0,530.57 L170.5,530.11 L171.0,529.82 L171.5,529.49 L172.0,529.19 L172.5,528.83 L173.0,528.39 L173.5,528.05 L174.0,527.80 L174.5,527.67 L175.0,527.55 L175.5,527.31 L176.0,526.83 L176.5,526.22 L177.0,525.57 L177.5,525.00 L178.0,524.44 L178.5,524.02 L179.0,523.65 L179.5,523.15 L180.0,522.67 L180.5,521.99 L181.0,521.15 L181.5,520.34 L182.0,519.53 L182.5,518.83 L183.0,518.23 L183.5,517.58 L184.0,516.91 L184.5,516.18 L185.0,515.44 L185.5,514.76 L186.0,514.07 L186.5,513.43 L187.0,512.80 L187.5,512.18 L188.0,511.63 L188.5,511.15 L189.0,510.79 L189.5,510.45 L190.0,510.12 L190.5,509.85 L191.0,509.66 L191.5,509.55 L192.0,509.56 L192.5,509.67 L193.0,509.83 L193.5,510.07 L194.0,510.31 L194.5,510.58 L195.0,510.86 L195.5,511.23 L196.0,511.71 L196.5,512.28 L197.0,512.92 L197.5,513.58 L198.0,514.28 L198.5,515.01 L199.0,515.79 L199.5,516.65 L200.0,517.56 L200.5,518.53 L201.0,519.54 L201.5,520.56 L202.0,521.65 L202.5,522.87 L203.0,524.41 L203.5,526.43 L204.0,528.65 L204.5,530.75 L205.0,532.51 L205.5,533.99 L206.0,535.38 L206.5,536.68 L207.0,537.78 L207.5,538.61 L208.0,539.28 L208.5,539.90 L209.0,540.49 L209.5,541.06 L210.0,541.53 L210.5,541.94 L211.0,542.31 L211.5,542.63 L212.0,542.92 L212.5,543.13 L213.0,543.35 L213.5,543.56 L214.0,543.79 L214.5,544.05 L215.0,544.27 L215.5,544.46 L216.0,544.63 L216.5,544.79 L217.0,544.94 L217.5,545.10 L218.0,545.26 L218.5,545.37 L219.0,545.47 L219.5,545.52 L220.0,545.50 L220.5,545.48 L221.0,545.48 L221.5,545.47 L222.0,545.52 L222.5,545.60 L223.0,545.64 L223.5,545.72 L224.0,545.77 L224.5,545.81 L225.0,545.85 L225.5,545.86 L226.0,545.86 L226.5,545.85 L227.0,545.86 L227.5,545.85 L228.0,545.84 L228.5,545.75 L229.0,545.62 L229.5,545.50 L230.0,545.39 L230.5,545.29 L231.0,545.20 L231.5,545.09 L232.0,544.89 L232.5,544.72 L233.0,544.51 L233.5,544.28 L234.0,544.12 L234.5,543.90 L235.0,543.73 L235.5,543.56 L236.0,543.37 L236.5,543.23 L237.0,543.07 L237.5,542.93 L238.0,542.78 L238.5,542.59 L239.0,542.36 L239.5,542.11 L240.0,541.85 L240.5,541.63 L241.0,541.40 L241.5,541.16 L242.0,540.92 L242.5,540.60 L243.0,540.32 L243.5,540.07 L244.0,539.82 L244.5,539.62 L245.0,539.42 L245.5,539.17 L246.0,538.90 L246.5,538.64 L247.0,538.34 L247.5,538.02 L248.0,537.70 L248.5,537.36 L249.0,537.04 L249.5,536.78 L250.0,536.54 L250.5,536.26 L251.0,535.97 L251.5,535.63 L252.0,535.29 L252.5,535.02 L253.0,534.76 L253.5,534.53 L254.0,534.27 L254.5,533.99 L255.0,533.72 L255.5,533.39 L256.0,533.10 L256.5,532.75 L257.0,532.38 L257.5,532.07 L258.0,531.71 L258.5,531.42 L259.0,531.15 L259.5,530.84 L260.0,530.58 L260.5,530.25 L261.0,529.91 L261.5,529.56 L262.0,529.14 L262.5,528.72 L263.0,528.31 L263.5,527.92 L264.0,527.55 L264.5,527.17 L265.0,526.73 L265.5,526.27 L266.0,525.80 L266.5,525.31 L267.0,524.86 L267.5,524.41 L268.0,523.93 L268.5,523.51 L269.0,523.06 L269.5,522.63 L270.0,522.22 L270.5,521.75 L271.0,521.27 L271.5,520.76 L272.0,520.26 L272.5,519.75 L273.0,519.23 L273.5,518.69 L274.0,518.03 L274.5,517.37 L275.0,516.70 L275.5,516.07 L276.0,515.54 L276.5,515.07 L277.0,514.61 L277.5,514.13 L278.0,513.63 L278.5,513.11 L279.0,512.55 L279.5,512.00 L280.0,511.42 L280.5,510.81 L281.0,510.19 L281.5,509.60 L282.0,508.97 L282.5,508.39 L283.0,507.82 L283.5,507.25 L284.0,506.72 L284.5,506.14 L285.0,505.52 L285.5,504.87 L286.0,504.18 L286.5,503.55 L287.0,502.93 L287.5,502.27 L288.0,501.64 L288.5,500.91 L289.0,500.16 L289.5,499.43 L290.0,498.64 L290.5,497.86 L291.0,497.07 L291.5,496.24 L292.0,495.38 L292.5,494.46 L293.0,493.50 L293.5,492.47 L294.0,491.39 L294.5,490.26 L295.0,489.10 L295.5,488.00 L296.0,486.93 L296.5,485.90 L297.0,484.88 L297.5,483.81 L298.0,482.73 L298.5,481.63 L299.0,480.54 L299.5,479.49 L300.0,478.41 L300.5,477.32 L301.0,476.23 L301.5,475.09 L302.0,473.96 L302.5,472.88 L303.0,471.79 L303.5,470.71 L304.0,469.64 L304.5,468.50 L305.0,467.33 L305.5,466.15 L306.0,464.91 L306.5,463.65 L307.0,462.35 L307.5,461.01 L308.0,459.62 L308.5,458.18 L309.0,456.73 L309.5,455.24 L310.0,453.75 L310.5,452.25 L311.0,450.69 L311.5,449.10 L312.0,447.48 L312.5,445.81 L313.0,444.16 L313.5,442.48 L314.0,440.80 L314.5,439.11 L315.0,437.38 L315.5,435.68 L316.0,433.95 L316.5,432.26 L317.0,430.62 L317.5,428.94 L318.0,427.27 L318.5,425.54 L319.0,423.77 L319.5,422.02 L320.0,420.26 L320.5,418.56 L321.0,416.85 L321.5,415.16 L322.0,413.45 L322.5,411.65 L323.0,409.83 L323.5,407.98 L324.0,406.15 L324.5,404.38 L325.0,402.66 L325.5,400.90 L326.0,399.17 L326.5,397.43 L327.0,395.71 L327.5,394.04 L328.0,392.32 L328.5,390.61 L329.0,388.85 L329.5,387.09 L330.0,385.43 L330.5,383.75 L331.0,382.12 L331.5,380.50 L332.0,378.79 L332.5,377.11 L333.0,375.37 L333.5,373.64 L334.0,371.97 L334.5,370.26 L335.0,368.59 L335.5,366.87 L336.0,365.10 L336.5,363.34 L337.0,361.52 L337.5,359.70 L338.0,357.87 L338.5,355.99 L339.0,354.12 L339.5,352.22 L340.0,350.32 L340.5,348.41 L341.0,346.48 L341.5,344.56 L342.0,342.64 L342.5,340.75 L343.0,338.84 L343.5,336.91 L344.0,334.97 L344.5,332.99 L345.0,331.00 L345.5,329.06 L346.0,327.11 L346.5,325.15 L347.0,323.18 L347.5,321.15 L348.0,319.09 L348.5,317.03 L349.0,314.98 L349.5,312.96 L350.0,310.96 L350.5,308.96 L351.0,306.96 L351.5,304.93 L352.0,302.91 L352.5,300.88 L353.0,298.87 L353.5,296.92 L354.0,294.98 L354.5,293.06 L355.0,291.17 L355.5,289.28 L356.0,287.36 L356.5,285.46 L357.0,283.53 L357.5,281.62 L358.0,279.74 L358.5,277.85 L359.0,276.01 L359.5,274.12 L360.0,272.23 L360.5,270.37 L361.0,268.50 L361.5,266.67 L362.0,264.86 L362.5,262.98 L363.0,261.12 L363.5,259.25 L364.0,257.36 L364.5,255.51 L365.0,253.63 L365.5,251.73 L366.0,249.80 L366.5,247.89 L367.0,245.99 L367.5,244.07 L368.0,242.19 L368.5,240.24 L369.0,238.31 L369.5,236.42 L370.0,234.54 L370.5,232.71 L371.0,230.87 L371.5,229.03 L372.0,227.18 L372.5,225.33 L373.0,223.60 L373.5,221.94 L374.0,220.36 L374.5,218.79 L375.0,217.24 L375.5,215.77 L376.0,214.51 L376.5,213.41 L377.0,212.36 L377.5,211.41 L378.0,210.53 L378.5,209.72 L379.0,209.02 L379.5,208.35 L380.0,207.68 L380.5,207.04 L381.0,206.43 L381.5,205.91 L382.0,205.48 L382.5,205.13 L383.0,204.81 L383.5,204.50 L384.0,204.16 L384.5,203.82 L385.0,203.60 L385.5,203.52 L386.0,203.56 L386.5,203.74 L387.0,203.98 L387.5,204.21 L388.0,204.49 L388.5,204.78 L389.0,205.15 L389.5,205.63 L390.0,206.19 L390.5,206.81 L391.0,207.43 L391.5,208.13 L392.0,208.82 L392.5,209.64 L393.0,210.63 L393.5,211.66 L394.0,212.81 L394.5,214.01 L395.0,215.17 L395.5,216.44 L396.0,217.69 L396.5,218.96 L397.0,220.33 L397.5,221.76 L398.0,223.34 L398.5,225.01 L399.0,226.77 L399.5,228.59 L400.0,230.41 L400.5,232.27 L401.0,234.21 L401.5,236.19 L402.0,238.30 L402.5,240.46 L403.0,242.67 L403.5,244.93 L404.0,247.14 L404.5,249.34 L405.0,251.50 L405.5,253.64 L406.0,255.78 L406.5,257.93 L407.0,260.08 L407.5,262.19 L408.0,264.35 L408.5,266.47 L409.0,268.62 L409.5,270.82 L410.0,273.03 L410.5,275.26 L411.0,277.50 L411.5,279.74 L412.0,281.99 L412.5,284.25 L413.0,286.45 L413.5,288.62 L414.0,290.75 L414.5,292.90 L415.0,295.05 L415.5,297.21 L416.0,299.36 L416.5,301.47 L417.0,303.61 L417.5,305.76 L418.0,307.93 L418.5,310.16 L419.0,312.39 L419.5,314.61 L420.0,316.85 L420.5,319.07 L421.0,321.27 L421.5,323.47 L422.0,325.69 L422.5,327.91 L423.0,330.16 L423.5,332.41 L424.0,334.66 L424.5,336.91 L425.0,339.13 L425.5,341.35 L426.0,343.54 L426.5,345.69 L427.0,347.86 L427.5,350.03 L428.0,352.19 L428.5,354.39 L429.0,356.55 L429.5,358.70 L430.0,360.86 L430.5,363.06 L431.0,365.36 L431.5,367.70 L432.0,370.12 L432.5,372.49 L433.0,374.82 L433.5,377.13 L434.0,379.41 L434.5,381.67 L435.0,383.92 L435.5,386.13 L436.0,388.28 L436.5,390.43 L437.0,392.57 L437.5,394.71 L438.0,396.84 L438.5,398.97 L439.0,401.07 L439.5,403.07 L440.0,405.02 L440.5,406.84 L441.0,408.58 L441.5,410.29 L442.0,411.95 L442.5,413.63 L443.0,415.26 L443.5,416.90 L444.0,418.61 L444.5,420.34 L445.0,422.20 L445.5,424.11 L446.0,426.06 L446.5,428.03 L447.0,429.97 L447.5,431.92 L448.0,433.90 L448.5,435.91 L449.0,438.01 L449.5,440.15 L450.0,442.32 L450.5,444.46 L451.0,446.57 L451.5,448.71 L452.0,450.89 L452.5,453.12 L453.0,455.39 L453.5,457.66 L454.0,459.97 L454.5,462.33 L455.0,464.78 L455.5,467.28 L456.0,469.82 L456.5,472.40 L457.0,475.00 L457.5,477.56 L458.0,480.13 L458.5,482.63 L459.0,485.05 L459.5,487.44 L460.0,489.74 L460.5,491.99 L461.0,494.23 L461.5,496.44 L462.0,498.67 L462.5,500.82 L463.0,502.93 L463.5,504.97 L464.0,506.96 L464.5,509.01 L465.0,511.04 L465.5,513.13 L466.0,515.18 L466.5,517.22 L467.0,519.24 L467.5,521.17 L468.0,523.15 L468.5,525.11 L469.0,527.08 L469.5,529.13 L470.0,531.17 L470.5,533.19 L471.0,535.17 L471.5,537.10 L472.0,538.90 L472.5,540.64 L473.0,542.34 L473.5,543.98 L474.0,545.62 L474.5,547.21 L475.0,548.72 L475.5,550.20 L476.0,551.62 L476.5,553.04 L477.0,554.48 L477.5,555.92 L478.0,557.36 L478.5,558.78 L479.0,560.19 L479.5,561.60 L480.0,563.02 L480.5,564.44 L481.0,565.80 L481.5,567.17 L482.0,568.52 L482.5,569.83 L483.0,571.20 L483.5,572.54 L484.0,573.89 L484.5,575.24 L485.0,576.53 L485.5,577.81 L486.0,579.01 L486.5,580.19 L487.0,581.35 L487.5,582.44 L488.0,583.57 L488.5,584.68 L489.0,585.76 L489.5,586.87 L490.0,587.94 L490.5,588.99 L491.0,590.01 L491.5,590.99 L492.0,591.96 L492.5,592.90 L493.0,593.84 L493.5,594.82 L494.0,595.81 L494.5,596.84 L495.0,597.81 L495.5,598.74 L496.0,599.60 L496.5,600.38 L497.0,601.22 L497.5,602.01 L498.0,602.85 L498.5,603.70 L499.0,604.48 L499.5,605.28 L500.0,606.05 L500.5,606.78 L501.0,607.55 L501.5,608.34 L502.0,609.09 L502.5,609.84 L503.0,610.55 L503.5,611.17 L504.0,611.81 L504.5,612.45 L505.0,613.09 L505.5,613.75 L506.0,614.40 L506.5,615.02 L507.0,615.63 L507.5,616.24 L508.0,616.88 L508.5,617.51 L509.0,618.14 L509.5,618.75 L510.0,619.31 L510.5,619.82 L511.0,620.34 L511.5,620.88 L512.0,621.43 L512.5,621.99 L513.0,622.49 L513.5,622.97 L514.0,623.43 L514.5,623.95 L515.0,624.49 L515.5,625.05 L516.0,625.59 L516.5,626.09 L517.0,626.60 L517.5,627.07 L518.0,627.54 L518.5,628.01 L519.0,628.46 L519.5,628.90 L520.0,629.30 L520.5,629.66 L521.0,630.00 L521.5,630.34 L522.0,630.69 L522.5,631.07 L523.0,631.46 L523.5,631.86 L524.0,632.23 L524.5,632.56 L525.0,632.88 L525.5,633.14 L526.0,633.43 L526.5,633.73 L527.0,634.06 L527.5,634.41 L528.0,634.74 L528.5,635.04 L529.0,635.30 L529.5,635.59 L530.0,635.87 L530.5,636.14 L531.0,636.43 L531.5,636.66 L532.0,636.91 L532.5,637.22 L533.0,637.56 L533.5,637.91 L534.0,638.23 L534.5,638.48 L535.0,638.67 L535.5,638.88 L536.0,639.10 L536.5,639.39 L537.0,639.70 L537.5,640.01 L538.0,640.32 L538.5,640.56 L539.0,640.79 L539.5,640.96 L540.0,641.10 L540.5,641.29 L541.0,641.51 L541.5,641.81 L542.0,642.16 L542.5,642.49 L543.0,642.77 L543.5,642.98 L544.0,643.18 L544.5,643.38 L545.0,643.62 L545.5,643.87 L546.0,644.09 L546.5,644.32 L547.0,644.52 L547.5,644.71 L548.0,644.95 L548.5,645.18 L549.0,645.44 L549.5,645.74 L550.0,646.01 L550.5,646.23 L551.0,646.41 L551.5,646.53 L552.0,646.65 L552.5,646.80 L553.0,646.96 L553.5,647.19 L554.0,647.43 L554.5,647.71 L555.0,647.94 L555.5,648.12 L556.0,648.28 L556.5,648.40 L557.0,648.57 L557.5,648.76 L558.0,648.92 L558.5,649.12 L559.0,649.28 L559.5,649.45 L560.0,649.65 L560.5,649.77 L561.0,649.91 L561.5,650.02 L562.0,650.14 L562.5,650.31 L563.0,650.44 L563.5,650.62 L564.0,650.77 L564.5,650.93 L565.0,651.13 L565.5,651.31 L566.0,651.48 L566.5,651.61 L567.0,651.74 L567.5,651.84 L568.0,652.00 L568.5,652.16 L569.0,652.33 L569.5,652.53 L570.0,652.66 L570.5,652.79 L571.0,652.88 L571.5,652.94 L572.0,653.06 L572.5,653.18 L573.0,653.32 L573.5,653.49 L574.0,653.63 L574.5,653.79 L575.0,653.92 L575.5,654.01 L576.0,654.11 L576.5,654.22 L577.0,654.35 L577.5,654.50 L578.0,654.65 L578.5,654.75 L579.0,654.82 L579.5,654.91 L580.0,654.94 L580.5,655.05 L581.0,655.17 L581.5,655.28 L582.0,655.44 L582.5,655.54 L583.0,655.66 L583.5,655.78 L584.0,655.91 L584.5,656.08 L585.0,656.22 L585.5,656.36 L586.0,656.50 L586.5,656.59 L587.0,656.70 L587.5,656.84 L588.0,656.95 L588.5,657.07 L589.0,657.16 L589.5,657.19 L590.0,657.26 L590.5,657.26 L591.0,657.23 L591.5,657.25 L592.0,657.22 L592.5,657.27 L593.0,657.35 L593.5,657.37 L594.0,657.47 L594.5,657.51 L595.0,657.52 L595.5,657.55 L596.0,657.50 L596.5,657.48 L597.0,657.49 L597.5,657.51 L598.0,657.59 L598.5,657.61 L599.0,657.58 L599.5,657.53 L600.0,657.44 L600.5,657.42 L601.0,657.48 L601.5,657.54 L602.0,657.60 L602.5,657.63 L603.0,657.57 L603.5,657.52 L604.0,657.49 L604.5,657.46 L605.0,657.48 L605.5,657.49 L606.0,657.46 L606.5,657.40 L607.0,657.30 L607.5,657.23 L608.0,657.15 L608.5,657.05 L609.0,656.95 L609.5,656.82 L610.0,656.68 L610.5,656.57 L611.0,656.44 L611.5,656.26 L612.0,656.02 L612.5,655.78 L613.0,655.49 L613.5,655.20 L614.0,654.94 L614.5,654.62 L615.0,654.28 L615.5,653.89 L616.0,653.47 L616.5,653.05 L617.0,652.64 L617.5,652.20 L618.0,651.71 L618.5,651.20 L619.0,650.65 L619.5,650.12 L620.0,649.61 L620.5,649.02 L621.0,648.39 L621.5,647.73 L622.0,647.04 L622.5,646.43 L623.0,645.85 L623.5,645.27 L624.0,644.75 L624.5,644.24 L625.0,643.74 L625.5,643.28 L626.0,642.84 L626.5,642.40 L627.0,642.02 L627.5,641.64 L628.0,641.24 L628.5,640.91 L629.0,640.52 L629.5,640.13 L630.0,639.79 L630.5,639.34 L631.0,638.96 L631.5,638.59 L632.0,638.18 L632.5,637.86 L633.0,637.51 L633.5,637.15 L634.0,636.80 L634.5,636.45 L635.0,636.09 L635.5,635.77 L636.0,635.46 L636.5,635.13 L637.0,634.83 L637.5,634.46 L638.0,634.14 L638.5,633.84 L639.0,633.53 L639.5,633.25 L640.0,632.94 L640.5,632.62 L641.0,632.32 L641.5,632.04 L642.0,631.76 L642.5,631.52 L643.0,631.29 L643.5,631.10 L644.0,630.99 L644.5,630.85 L645.0,630.72 L645.5,630.58 L646.0,630.41 L646.5,630.27 L647.0,630.16 L647.5,630.06 L648.0,629.99 L648.5,629.93 L649.0,629.90 L649.5,629.86 L650.0,629.81 L650.5,629.77 L651.0,629.71 L651.5,629.70 L652.0,629.77 L652.5,629.89 L653.0,630.10 L653.5,630.38 L654.0,630.70 L654.5,631.07 L655.0,631.41 L655.5,631.77 L656.0,632.12 L656.5,632.49 L657.0,632.90 L657.5,633.30 L658.0,633.74 L658.5,634.23 L659.0,634.77 L659.5,635.36 L660.0,635.97 L660.5,636.60 L661.0,637.24 L661.5,637.87 L662.0,638.51 L662.5,639.17 L663.0,639.84 L663.5,640.52 L664.0,641.21 L664.5,641.92 L665.0,642.62 L665.5,643.35 L666.0,644.09 L666.5,644.83 L667.0,645.63 L667.5,646.40 L668.0,647.20 L668.5,648.05 L669.0,648.90 L669.5,649.81 L670.0,650.68 L670.5,651.50 L671.0,652.29 L671.5,653.00 L672.0,653.71 L672.5,654.41 L673.0,655.15 L673.5,655.94 L674.0,656.72 L674.5,657.55 L675.0,658.34 L675.5,659.10 L676.0,659.82 L676.5,660.47 L677.0,661.10 L677.5,661.74 L678.0,662.40 L678.5,663.09 L679.0,663.76 L679.5,664.39 L680.0,664.98 L680.5,665.55 L681.0,666.12 L681.5,666.66 L682.0,667.22 L682.5,667.74 L683.0,668.24 L683.5,668.77 L684.0,669.25 L684.5,669.71 L685.0,670.15 L685.5,670.55 L686.0,670.96 L686.5,671.36 L687.0,671.73 L687.5,672.09 L688.0,672.44 L688.5,672.79 L689.0,673.19 L689.5,673.56 L690.0,673.93 L690.5,674.25 L691.0,674.49 L691.5,674.74 L692.0,674.92 L692.5,675.12 L693.0,675.35 L693.5,675.56 L694.0,675.82 L694.5,676.08 L695.0,676.33 L695.5,676.57 L696.0,676.77 L696.5,676.97 L697.0,677.13 L697.5,677.28 L698.0,677.47 L698.5,677.61 L699.0,677.77 L699.5,677.95 L700.0,678.07 L700.5,678.25 L701.0,678.45 L701.5,678.63 L702.0,678.83 L702.5,678.99 L703.0,679.11 L703.5,679.20 L704.0,679.23 L704.5,679.15 L705.0,678.98 L705.5,678.74 L706.0,678.44 L706.5,678.13 L707.0,677.86 L707.5,677.59 L708.0,677.33 L708.5,677.12 L709.0,676.88 L709.5,676.75 L710.0,676.71 L710.5,676.71 L711.0,676.76 L711.5,676.79 L712.0,676.78 L712.5,676.78 L713.0,676.74 L713.5,676.70 L714.0,676.72 L714.5,676.74 L715.0,676.78 L715.5,676.82 L716.0,676.84 L716.5,676.86 L717.0,676.86 L717.5,676.87 L718.0,676.87 L718.5,676.86 L719.0,676.88 L719.5,676.92 L720.0,677.00 L720.5,677.12 L721.0,677.24 L721.5,677.34 L722.0,677.41 L722.5,677.42 L723.0,677.43 L723.5,677.43 L724.0,677.41 L724.5,677.42 L725.0,677.41 L725.5,677.41 L726.0,677.42 L726.5,677.44 L727.0,677.48 L727.5,677.54 L728.0,677.63 L728.5,677.72 L729.0,677.79 L729.5,677.85 L730.0,677.87 L730.5,677.84 L731.0,677.80 L731.5,677.78 L732.0,677.79 L732.5,677.88 L733.0,678.03 L733.5,678.13 L734.0,678.29 L734.5,678.42 L735.0,678.50 L735.5,678.64 L736.0,678.72 L736.5,678.75 L737.0,678.77 L737.5,678.72 L738.0,678.66 L738.5,678.62 L739.0,678.61 L739.5,678.63 L740.0,678.70 L740.5,678.79 L741.0,678.81 L741.5,678.85 L742.0,678.86 L742.5,678.86 L743.0,678.86 L743.5,678.86 L744.0,678.86 L744.5,678.93 L745.0,679.04 L745.5,679.20 L746.0,679.35 L746.5,679.43 L747.0,679.44 L747.5,679.39 L748.0,679.30 L748.5,679.23 L749.0,679.24 L749.5,679.28 L750.0,679.40 L750.5,679.52 L751.0,679.56 L751.5,679.58 L752.0,679.53 L752.5,679.51 L753.0,679.58 L753.5,679.65 L754.0,679.74 L754.5,679.79 L755.0,679.76 L755.5,679.73 L756.0,679.71 L756.5,679.70 L757.0,679.74 L757.5,679.79 L758.0,679.83 L758.5,679.82 L759.0,679.82 L759.5,679.82 L760.0,679.81 L760.5,679.85 L761.0,679.87 L761.5,679.88 L762.0,679.86 L762.5,679.87 L763.0,679.90 L763.5,679.95 L764.0,680.07 L764.5,680.14 L765.0,680.20 L765.5,680.24 L766.0,680.22 L766.5,680.22 L767.0,680.22 L767.5,680.22 L768.0,680.22 L768.5,680.22 L769.0,680.19 L769.5,680.17 L770.0,680.15 L770.5,680.09 L771.0,680.08 L771.5,680.07 L772.0,680.07 L772.5,680.09 L773.0,680.12 L773.5,680.11 L774.0,680.12 L774.5,680.10 L775.0,680.05 L775.5,680.05 L776.0,680.06 L776.5,680.11 L777.0,680.18 L777.5,680.27 L778.0,680.35 L778.5,680.40 L779.0,680.42 L779.5,680.37 L780.0,680.31 L780.5,680.27 L781.0,680.24 L781.5,680.27 L782.0,680.32 L782.5,680.36 L783.0,680.41 L783.5,680.41 L784.0,680.42 L784.5,680.44 L785.0,680.47 L785.5,680.48 L786.0,680.46 L786.5,680.44 L787.0,680.41 L787.5,680.47 L788.0,680.51 L788.5,680.53 L789.0,680.51 L789.5,680.42 L790.0,680.37 L790.5,680.34 L791.0,680.36 L791.5,680.45 L792.0,680.51 L792.5,680.59 L793.0,680.61 L793.5,680.58 L794.0,680.55 L794.5,680.49 L795.0,680.48 L795.5,680.50 L796.0,680.54 L796.5,680.58 L797.0,680.59 L797.5,680.55 L798.0,680.51 L798.5,680.49 L799.0,680.47 L799.5,680.52 L800.0,680.54 L800.5,680.55 L801.0,680.59 L801.5,680.60 L802.0,680.61 L802.5,680.56 L803.0,680.49 L803.5,680.42 L804.0,680.36 L804.5,680.36 L805.0,680.40 L805.5,680.44 L806.0,680.48 L806.5,680.51 L807.0,680.51 L807.5,680.50 L808.0,680.49 L808.5,680.43 L809.0,680.39 L809.5,680.35 L810.0,680.30 L810.5,680.31 L811.0,680.31 L811.5,680.34 L812.0,680.33 L812.5,680.32 L813.0,680.30 L813.5,680.26 L814.0,680.26 L814.5,680.24 L815.0,680.24 L815.5,680.24 L816.0,680.21 L816.5,680.16 L817.0,680.09 L817.5,680.03 L818.0,680.03 L818.5,680.05 L819.0,680.09 L819.5,680.09 L820.0,680.05 L820.5,680.01 L821.0,679.92 L821.5,679.87 L822.0,679.84 L822.5,679.79 L823.0,679.78 L823.5,679.75 L824.0,679.73 L824.5,679.70 L825.0,679.68 L825.5,679.66 L826.0,679.59 L826.5,679.51 L827.0,679.43 L827.5,679.33 L828.0,679.29 L828.5,679.30 L829.0,679.31 L829.5,679.34 L830.0,679.35 L830.5,679.34 L831.0,679.32 L831.5,679.31 L832.0,679.32 L832.5,679.35 L833.0,679.32 L833.5,679.25 L834.0,679.14 L834.5,679.01 L835.0,678.96 L835.5,678.96 L836.0,678.99 L836.5,679.02 L837.0,679.05 L837.5,679.02 L838.0,678.97 L838.5,678.94 L839.0,678.88 L839.5,678.84 L840.0,678.80 L840.5,678.74 L841.0,678.69 L841.5,678.68 L842.0,678.66 L842.5,678.68 L843.0,678.74 L843.5,678.72 L844.0,678.73 L844.5,678.71 L845.0,678.64 L845.5,678.60 L846.0,678.54 L846.5,678.50 L847.0,678.46 L847.5,678.44 L848.0,678.43 L848.5,678.37 L849.0,678.35 L849.5,678.28 L850.0,678.24 L850.5,678.23 L851.0,678.20 L851.5,678.21 L852.0,678.17 L852.5,678.12 L853.0,678.09 L853.5,678.04 L854.0,678.04 L854.5,678.04 L855.0,678.02 L855.5,678.01 L856.0,677.97 L856.5,677.94 L857.0,677.91 L857.5,677.88 L858.0,677.85 L858.5,677.78 L859.0,677.72 L859.5,677.65 L860.0,677.55 L860.5,677.45 L861.0,677.37 L861.5,677.28 L862.0,677.24 L862.5,677.25 L863.0,677.23 L863.5,677.26 L864.0,677.24 L864.5,677.20 L865.0,677.16 L865.5,677.09 L866.0,677.05 L866.5,677.02 L867.0,677.03 L867.5,677.04 L868.0,677.03 L868.5,676.96 L869.0,676.86 L869.5,676.76 L870.0,676.68 L870.5,676.66 L871.0,676.67 L871.5,676.65 L872.0,676.66 L872.5,676.63 L873.0,676.55 L873.5,676.47 L874.0,676.35 L874.5,676.24 L875.0,676.18 L875.5,676.13 L876.0,676.09 L876.5,676.04 L877.0,675.99 L877.5,675.97 L878.0,675.97 L878.5,675.98 L879.0,675.98 L879.5,675.95 L880.0,675.89 L880.5,675.84 L881.0,675.75 L881.5,675.67 L882.0,675.60 L882.5,675.50 L883.0,675.46 L883.5,675.44 L884.0,675.41 L884.5,675.37 L885.0,675.30 L885.5,675.22 L886.0,675.09 L886.5,675.00 L887.0,674.94 L887.5,674.92 L888.0,674.94 L888.5,674.93 L889.0,674.91 L889.5,674.82 L890.0,674.71 L890.5,674.66 L891.0,674.60 L891.5,674.61 L892.0,674.60 L892.5,674.54 L893.0,674.51 L893.5,674.42 L894.0,674.38 L894.5,674.36 L895.0,674.26 L895.5,674.18 L896.0,674.05 L896.5,673.90 L897.0,673.83 L897.5,673.77 L898.0,673.77 L898.5,673.76 L899.0,673.74 L899.5,673.69 L900.0,673.63 L900.5,673.57 L901.0,673.52 L901.5,673.48 L902.0,673.39 L902.5,673.35 L903.0,673.26 L903.5,673.15 L904.0,673.08 L904.5,672.97 L905.0,672.85 L905.5,672.80 L906.0,672.71 L906.5,672.68 L907.0,672.67 L907.5,672.63 L908.0,672.63 L908.5,672.57 L909.0,672.50 L909.5,672.38 L910.0,672.25 L910.5,672.16 L911.0,672.10 L911.5,672.10 L912.0,672.09 L912.5,672.07 L913.0,672.01 L913.5,671.94 L914.0,671.87 L914.5,671.81 L915.0,671.75 L915.5,671.67 L916.0,671.55 L916.5,671.42 L917.0,671.27 L917.5,671.16 L918.0,671.09 L918.5,671.02 L919.0,670.99 L919.5,670.97 L920.0,670.95 L920.5,670.95 L921.0,670.96 L921.5,670.93 L922.0,670.85 L922.5,670.82 L923.0,670.71 L923.5,670.59 L924.0,670.51 L924.5,670.34 L925.0,670.21 L925.5,670.10 L926.0,670.01 L926.5,669.97 L927.0,669.94 L927.5,669.93 L928.0,669.87 L928.5,669.81 L929.0,669.74 L929.5,669.63 L930.0,669.55 L930.5,669.46 L931.0,669.37 L931.5,669.28 L932.0,669.17 L932.5,669.08 L933.0,668.98 L933.5,668.90 L934.0,668.81 L934.5,668.71 L935.0,668.61 L935.5,668.53 L936.0,668.47 L936.5,668.42 L937.0,668.37 L937.5,668.28 L938.0,668.14 L938.5,668.01 L939.0,667.85 L939.5,667.72 L940.0,667.65 L940.5,667.59 L941.0,667.55 L941.5,667.53 L942.0,667.49 L942.5,667.42 L943.0,667.33 L943.5,667.23 L944.0,667.13 L944.5,667.09 L945.0,667.10 L945.5,667.10 L946.0,667.09 L946.5,667.04 L947.0,666.92 L947.5,666.79 L948.0,666.65 L948.5,666.55 L949.0,666.44 L949.5,666.36 L950.0,666.31 L950.5,666.20 L951.0,666.13 L951.5,666.05 L952.0,665.94 L952.5,665.83 L953.0,665.73 L953.5,665.63 L954.0,665.54 L954.5,665.49 L955.0,665.41 L955.5,665.35 L956.0,665.29 L956.5,665.20 L957.0,665.14 L957.5,665.06 L958.0,664.99 L958.5,664.89 L959.0,664.77 L959.5,664.66 L960.0,664.57 L960.5,664.52 L961.0,664.49 L961.5,664.46 L962.0,664.37 L962.5,664.21 L963.0,664.04 L963.5,663.87 L964.0,663.72 L964.5,663.63 L965.0,663.56 L965.5,663.50 L966.0,663.44 L966.5,663.42 L967.0,663.38 L967.5,663.36 L968.0,663.36 L968.5,663.27 L969.0,663.20 L969.5,663.10 L970.0,662.95 L970.5,662.84 L971.0,662.69 L971.5,662.59 L972.0,662.52 L972.5,662.43 L973.0,662.38 L973.5,662.28 L974.0,662.22 L974.5,662.19 L975.0,662.16 L975.5,662.14 L976.0,662.06 L976.5,661.98 L977.0,661.84 L977.5,661.71 L978.0,661.59 L978.5,661.44 L979.0,661.31 L979.5,661.18 L980.0,661.03 L980.5,660.93 L981.0,660.82 L981.5,660.76 L982.0,660.76 L982.5,660.75 L983.0,660.77 L983.5,660.71 L984.0,660.60 L984.5,660.47 L985.0,660.33 L985.5,660.23 L986.0,660.13 L986.5,660.03 L987.0,659.91 L987.5,659.78 L988.0,659.63 L988.5,659.51 L989.0,659.38 L989.5,659.29 L990.0,659.24 L990.5,659.17 L991.0,659.13 L991.5,659.04 L992.0,658.93 L992.5,658.83 L993.0,658.67 L993.5,658.56 L994.0,658.45 L994.5,658.31 L995.0,658.22 L995.5,658.15 L996.0,658.05 L996.5,657.99 L997.0,657.92 L997.5,657.81 L998.0,657.75 L998.5,657.66 L999.0,657.55 L999.5,657.45 L1000.0,657.32 L1000.5,657.16 L1001.0,657.08 L1001.5,656.96 L1002.0,656.88 L1002.5,656.83 L1003.0,656.73 L1003.5,656.69 L1004.0,656.56 L1004.5,656.45 L1005.0,656.30 L1005.5,656.14 L1006.0,656.07 L1006.5,655.98 L1007.0,655.91 L1007.5,655.83 L1008.0,655.68 L1008.5,655.55 L1009.0,655.39 L1009.5,655.22 L1010.0,655.10 L1010.5,654.98 L1011.0,654.87 L1011.5,654.77 L1012.0,654.60 L1012.5,654.45 L1013.0,654.31 L1013.5,654.10 L1014.0,653.96 L1014.5,653.79 L1015.0,653.66 L1015.5,653.66 L1016.0,653.62 L1016.5,653.61 L1017.0,653.55 L1017.5,653.35 L1018.0,653.15 L1018.5,652.92 L1019.0,652.68 L1019.5,652.50 L1020.0,652.34 L1020.5,652.14 L1021.0,651.96 L1021.5,651.79 L1022.0,651.63 L1022.5,651.51 L1023.0,651.38 L1023.5,651.21 L1024.0,650.96 L1024.5,650.70 L1025.0,650.52 L1025.5,650.40 L1026.0,650.39 L1026.5,650.37 L1027.0,650.29 L1027.5,650.06 L1028.0,649.77 L1028.5,649.54 L1029.0,649.33 L1029.5,649.24 L1030.0,649.15 L1030.5,649.00 L1031.0,648.83 L1031.5,648.66 L1032.0,648.56 L1032.5,648.45 L1033.0,648.32 L1033.5,648.21 L1034.0,648.02 L1034.5,647.87 L1035.0,647.77 L1035.5,647.64 L1036.0,647.53 L1036.5,647.47 L1037.0,647.43 L1037.5,647.43 L1038.0,647.45 L1038.5,647.41 L1039.0,647.30 L1039.5,647.12 L1040.0,646.97 L1040.5,646.95 L1041.0,646.98 L1041.5,647.08 L1042.0,647.14 L1042.5,647.05 L1043.0,646.95 L1043.5,646.88 L1044.0,646.78 L1044.5,646.72 L1045.0,646.68 L1045.5,646.66 L1046.0,646.73 L1046.5,646.83 L1047.0,646.87 L1047.5,646.86 L1048.0,646.82 L1048.5,646.78 L1049.0,646.74 L1049.5,646.72 L1050.0,646.64 L1050.5,646.56 L1051.0,646.49 L1051.5,646.41 L1052.0,646.40 L1052.5,646.45 L1053.0,646.46 L1053.5,646.47 L1054.0,646.37 L1054.5,646.20 L1055.0,646.07 L1055.5,645.95 L1056.0,645.95 L1056.5,645.97 L1057.0,646.00 L1057.5,646.03 L1058.0,646.01 L1058.5,646.03 L1059.0,646.03 L1059.5,646.07 L1060.0,646.06 L1060.5,645.98 L1061.0,645.96 L1061.5,645.89 L1062.0,645.91 L1062.5,646.00 L1063.0,646.00 L1063.5,645.99 L1064.0,645.84 L1064.5,645.63 L1065.0,645.41 L1065.5,645.23 L1066.0,645.16 L1066.5,645.05 L1067.0,644.93 L1067.5,644.80 L1068.0,644.67 L1068.5,644.59 L1069.0,644.58 L1069.5,644.60 L1070.0,644.51 L1070.5,644.40 L1071.0,644.20 L1071.5,643.97 L1072.0,643.84 L1072.5,643.70 L1073.0,643.59 L1073.5,643.45 L1074.0,643.30 L1074.5,643.15 L1075.0,643.06 L1075.5,643.04 L1076.0,642.92 L1076.5,642.81 L1077.0,642.69 L1077.5,642.50 L1078.0,642.40 L1078.5,642.29 L1079.0,642.12 L1079.5,642.02 L1080.0,641.95 L1080.5,641.86 L1081.0,641.77 L1081.5,641.65 L1082.0,641.51 L1082.5,641.40 L1083.0,641.39 L1083.5,641.40 L1084.0,641.42 L1084.5,641.40 L1085.0,641.26 L1085.5,641.17 L1086.0,641.05 L1086.5,640.97 L1087.0,640.91 L1087.5,640.81 L1088.0,640.69 L1088.5,640.46 L1089.0,640.34 L1089.5,640.22 L1090.0,640.11 L1090.5,640.06 L1091.0,639.91 L1091.5,639.66 L1092.0,639.52 L1092.5,639.38 L1093.0,639.28 L1093.5,639.31 L1094.0,639.32 L1094.5,639.32 L1095.0,639.31 L1095.5,639.28 L1096.0,639.14 L1096.5,638.97 L1097.0,638.78 L1097.5,638.52 L1098.0,638.37 L1098.5,638.27 L1099.0,638.27 L1099.5,638.25 L1100.0,638.17 L1100.5,638.00 L1101.0,637.78 L1101.5,637.61 L1102.0,637.58 L1102.5,637.59 L1103.0,637.56 L1103.5,637.48 L1104.0,637.30 L1104.5,637.10 L1105.0,636.97 L1105.5,636.99 L1106.0,636.96 L1106.5,637.02 L1107.0,636.93 L1107.5,636.66 L1108.0,636.40 L1108.5,636.04 L1109.0,635.87 L1109.5,635.76 L1110.0,635.81 L1110.5,635.89 L1111.0,635.87 L1111.5,635.87 L1112.0,635.67 L1112.5,635.45 L1113.0,635.35 L1113.5,635.23 L1114.0,635.29 L1114.5,635.35 L1115.0,635.26 L1115.5,635.22 L1116.0,635.07 L1116.5,634.90 L1117.0,634.72 L1117.5,634.52 L1118.0,634.35 L1118.5,634.33 L1119.0,634.37 L1119.5,634.25 L1120.0,634.15 L1120.5,633.95 L1121.0,633.74 L1121.5,633.71 L1122.0,633.66 L1122.5,633.57 L1123.0,633.53 L1123.5,633.44 L1124.0,633.24 L1124.5,633.10 L1125.0,632.87 L1125.5,632.62 L1126.0,632.59 L1126.5,632.52 L1127.0,632.55 L1127.5,632.68 L1128.0,632.69 L1128.5,632.67 L1129.0,632.54 L1129.5,632.32 L1130.0,632.10 L1130.5,631.95 L1131.0,631.88 L1131.5,631.81 L1132.0,631.77 L1132.5,631.76 L1133.0,631.70 L1133.5,631.61 L1134.0,631.49 L1134.5,631.26 L1135.0,631.02 L1135.5,630.81 L1136.0,630.57 L1136.5,630.42 L1137.0,630.49 L1137.5,630.65 L1138.0,630.95 L1138.5,631.11 L1139.0,631.07 L1139.5,630.87 L1140.0,630.56 L1140.5,630.31 L1141.0,630.02 L1141.5,629.84 L1142.0,629.73 L1142.5,629.67 L1143.0,629.81 L1143.5,630.03 L1144.0,630.06 L1144.5,630.05 L1145.0,629.76 L1145.5,629.22 L1146.0,628.86 L1146.5,628.50 L1147.0,628.37 L1147.5,628.43 L1148.0,628.50 L1148.5,628.56 L1149.0,628.50 L1149.5,628.35 L1150.0,628.18 L1150.5,628.00 L1151.0,627.88 L1151.5,627.73 L1152.0,627.58 L1152.5,627.51 L1153.0,627.40 L1153.5,627.36 L1154.0,627.33 L1154.5,627.12 L1155.0,626.78 L1155.5,626.49 L1156.0,626.14 L1156.5,625.92 L1157.0,626.07 L1157.5,626.19 L1158.0,626.34 L1158.5,626.33 L1159.0,625.99 L1159.5,625.60 L1160.0,625.25 L1160.5,625.07 L1161.0,625.02 L1161.5,625.01 L1162.0,624.85 L1162.5,624.59 L1163.0,624.33 L1163.5,624.04 L1164.0,623.94 L1164.5,623.88 L1165.0,623.81 L1165.5,623.67 L1166.0,623.52 L1166.5,623.50 L1167.0,623.47 L1167.5,623.62 L1168.0,623.66 L1168.5,623.64 L1169.0,623.65 L1169.5,623.55 L1170.0,623.60 L1170.5,623.53 L1171.0,623.39 L1171.5,623.26 L1172.0,622.92 L1172.5,622.67 L1173.0,622.37 L1173.5,622.03 L1174.0,621.87 L1174.5,621.73 L1175.0,621.69 L1175.5,621.72 L1176.0,621.62 L1176.5,621.40 L1177.0,621.25 L1177.5,621.10 L1178.0,621.14 L1178.5,621.19 L1179.0,621.06 L1179.5,620.83 L1180.0,620.41 L1180.5,619.98 L1181.0,619.77 L1181.5,619.56 L1182.0,619.62 L1182.5,619.71 L1183.0,619.67 L1183.5,619.65 L1184.0,619.38 L1184.5,619.15 L1185.0,618.91 L1185.5,618.75 L1186.0,618.64 L1186.5,618.60 L1187.0,618.65 L1187.5,618.63 L1188.0,618.71 L1188.5,618.69 L1189.0,618.50 L1189.5,618.49 L1190.0,618.23 L1190.5,617.95 L1191.0,617.66 L1191.5,617.07 L1192.0,616.76 L1192.5,616.75 L1193.0,616.96 L1193.5,617.42 L1194.0,617.87 L1194.5,617.83 L1195.0,617.67 L1195.5,617.38 L1196.0,616.94 L1196.5,616.78 L1197.0,616.62 L1197.5,616.27 L1198.0,615.94 L1198.5,615.58 L1199.0,615.21 L1199.5,615.07 L1200.0,615.01 L1200.5,614.91 L1201.0,614.78 L1201.5,614.70 L1202.0,614.62 L1202.5,614.58 L1203.0,614.52 L1203.5,614.25 L1204.0,613.98 L1204.5,613.58 L1205.0,613.36 L1205.5,613.26 L1206.0,613.09 L1206.5,613.15 L1207.0,613.06 L1207.5,612.93 L1208.0,612.88 L1208.5,612.67 L1209.0,612.71 L1209.5,612.69 L1210.0,612.71 L1210.5,612.74 L1211.0,612.46 L1211.5,612.36 L1212.0,612.08 L1212.5,611.90 L1213.0,611.72 L1213.5,611.44 L1214.0,611.38 L1214.5,611.08 L1215.0,610.94 L1215.5,610.84 L1216.0,610.81 L1216.5,610.95 L1217.0,611.12 L1217.5,611.16 L1218.0,611.02 L1218.5,610.90 L1219.0,610.72 L1219.5,610.61 L1220.0,610.52 L1220.5,610.39 L1221.0,610.23 L1221.5,610.06 L1222.0,610.03 L1222.5,609.95 L1223.0,609.95 L1223.5,610.02 L1224.0,609.95 L1224.5,609.81 L1225.0,609.71 L1225.5,609.52 L1226.0,609.21 L1226.5,609.15 L1227.0,609.03 L1227.5,608.98 L1228.0,609.08 L1228.5,609.00 L1229.0,608.85 L1229.5,608.53 L1230.0,608.28 L1230.5,608.08 L1231.0,607.85 L1231.5,607.84 L1232.0,607.77" fill="none" stroke="#1f8a1f" stroke-width="2.6" stroke-linejoin="round" stroke-linecap="butt"/>
<path d="M104.0,522.05 L104.5,521.60 L105.0,521.42 L105.5,520.92 L106.0,520.35 L106.5,520.51 L107.0,520.40 L107.5,520.20 L108.0,520.49 L108.5,520.48 L109.0,520.34 L109.5,520.41 L110.0,520.02 L110.5,519.60 L111.0,519.22 L111.5,518.92 L112.0,518.64 L112.5,518.50 L113.0,518.71 L113.5,518.66 L114.0,519.13 L114.5,519.85 L115.0,520.59 L115.5,521.44 L116.0,521.98 L116.5,521.93 L117.0,521.42 L117.5,521.10 L118.0,520.49 L118.5,520.35 L119.0,520.54 L119.5,520.64 L120.0,520.83 L120.5,520.53 L121.0,520.15 L121.5,520.11 L122.0,520.11 L122.5,520.47 L123.0,520.67 L123.5,520.07 L124.0,519.77 L124.5,519.49 L125.0,519.20 L125.5,519.29 L126.0,519.27 L126.5,519.12 L127.0,519.45 L127.5,519.92 L128.0,519.99 L128.5,520.12 L129.0,519.77 L129.5,519.23 L130.0,519.00 L130.5,518.82 L131.0,518.71 L131.5,519.06 L132.0,519.46 L132.5,519.49 L133.0,519.78 L133.5,519.53 L134.0,519.15 L134.5,519.30 L135.0,519.07 L135.5,518.80 L136.0,518.61 L136.5,518.07 L137.0,518.02 L137.5,518.46 L138.0,518.91 L138.5,519.24 L139.0,519.39 L139.5,519.07 L140.0,518.53 L140.5,518.63 L141.0,518.20 L141.5,518.16 L142.0,518.09 L142.5,517.33 L143.0,517.17 L143.5,516.53 L144.0,515.90 L144.5,515.70 L145.0,515.36 L145.5,515.28 L146.0,515.18 L146.5,515.13 L147.0,514.98 L147.5,514.84 L148.0,514.77 L148.5,514.19 L149.0,513.54 L149.5,512.73 L150.0,512.30 L150.5,512.03 L151.0,511.81 L151.5,511.66 L152.0,511.24 L152.5,510.74 L153.0,510.22 L153.5,509.76 L154.0,509.45 L154.5,509.25 L155.0,509.05 L155.5,508.89 L156.0,508.70 L156.5,508.40 L157.0,508.08 L157.5,507.68 L158.0,507.25 L158.5,506.94 L159.0,506.62 L159.5,506.25 L160.0,505.93 L160.5,505.53 L161.0,505.14 L161.5,504.82 L162.0,504.49 L162.5,504.27 L163.0,504.09 L163.5,503.82 L164.0,503.45 L164.5,503.01 L165.0,502.43 L165.5,501.92 L166.0,501.41 L166.5,500.84 L167.0,500.38 L167.5,499.85 L168.0,499.48 L168.5,499.14 L169.0,498.79 L169.5,498.50 L170.0,498.08 L170.5,497.73 L171.0,497.36 L171.5,496.97 L172.0,496.59 L172.5,496.07 L173.0,495.55 L173.5,494.99 L174.0,494.46 L174.5,494.01 L175.0,493.60 L175.5,493.19 L176.0,492.75 L176.5,492.26 L177.0,491.73 L177.5,491.23 L178.0,490.71 L178.5,490.23 L179.0,489.61 L179.5,488.88 L180.0,488.12 L180.5,487.30 L181.0,486.55 L181.5,485.83 L182.0,485.08 L182.5,484.32 L183.0,483.50 L183.5,482.69 L184.0,481.88 L184.5,481.04 L185.0,480.28 L185.5,479.48 L186.0,478.67 L186.5,477.89 L187.0,477.07 L187.5,476.34 L188.0,475.66 L188.5,474.98 L189.0,474.32 L189.5,473.68 L190.0,473.02 L190.5,472.46 L191.0,471.99 L191.5,471.59 L192.0,471.29 L192.5,470.94 L193.0,470.65 L193.5,470.47 L194.0,470.32 L194.5,470.23 L195.0,470.19 L195.5,470.20 L196.0,470.34 L196.5,470.59 L197.0,470.89 L197.5,471.24 L198.0,471.59 L198.5,472.00 L199.0,472.56 L199.5,473.25 L200.0,474.01 L200.5,474.76 L201.0,475.55 L201.5,476.35 L202.0,477.27 L202.5,478.36 L203.0,479.62 L203.5,481.08 L204.0,482.84 L204.5,485.33 L205.0,488.22 L205.5,491.14 L206.0,493.61 L206.5,495.37 L207.0,496.85 L207.5,498.11 L208.0,499.18 L208.5,500.03 L209.0,500.76 L209.5,501.46 L210.0,502.10 L210.5,502.69 L211.0,503.17 L211.5,503.53 L212.0,503.80 L212.5,504.04 L213.0,504.33 L213.5,504.63 L214.0,504.95 L214.5,505.22 L215.0,505.48 L215.5,505.73 L216.0,505.91 L216.5,506.11 L217.0,506.26 L217.5,506.36 L218.0,506.47 L218.5,506.52 L219.0,506.60 L219.5,506.70 L220.0,506.81 L220.5,506.95 L221.0,507.06 L221.5,507.17 L222.0,507.22 L222.5,507.25 L223.0,507.30 L223.5,507.35 L224.0,507.42 L224.5,507.52 L225.0,507.61 L225.5,507.70 L226.0,507.78 L226.5,507.84 L227.0,507.91 L227.5,507.92 L228.0,507.95 L228.5,507.91 L229.0,507.83 L229.5,507.76 L230.0,507.60 L230.5,507.51 L231.0,507.41 L231.5,507.33 L232.0,507.31 L232.5,507.23 L233.0,507.13 L233.5,506.97 L234.0,506.75 L234.5,506.54 L235.0,506.34 L235.5,506.17 L236.0,506.03 L236.5,505.87 L237.0,505.73 L237.5,505.62 L238.0,505.46 L238.5,505.29 L239.0,505.03 L239.5,504.70 L240.0,504.41 L240.5,504.13 L241.0,503.90 L241.5,503.73 L242.0,503.54 L242.5,503.37 L243.0,503.20 L243.5,503.04 L244.0,502.88 L244.5,502.72 L245.0,502.57 L245.5,502.39 L246.0,502.20 L246.5,501.99 L247.0,501.76 L247.5,501.57 L248.0,501.38 L248.5,501.22 L249.0,501.03 L249.5,500.81 L250.0,500.63 L250.5,500.39 L251.0,500.18 L251.5,499.94 L252.0,499.68 L252.5,499.45 L253.0,499.23 L253.5,499.02 L254.0,498.81 L254.5,498.61 L255.0,498.34 L255.5,498.11 L256.0,497.86 L256.5,497.57 L257.0,497.32 L257.5,497.03 L258.0,496.79 L258.5,496.61 L259.0,496.43 L259.5,496.28 L260.0,496.10 L260.5,495.91 L261.0,495.68 L261.5,495.39 L262.0,495.09 L262.5,494.75 L263.0,494.43 L263.5,494.13 L264.0,493.80 L264.5,493.47 L265.0,493.13 L265.5,492.78 L266.0,492.46 L266.5,492.15 L267.0,491.81 L267.5,491.52 L268.0,491.20 L268.5,490.84 L269.0,490.48 L269.5,490.08 L270.0,489.67 L270.5,489.32 L271.0,488.94 L271.5,488.55 L272.0,488.15 L272.5,487.70 L273.0,487.31 L273.5,486.92 L274.0,486.50 L274.5,486.05 L275.0,485.53 L275.5,485.01 L276.0,484.52 L276.5,484.09 L277.0,483.65 L277.5,483.20 L278.0,482.70 L278.5,482.16 L279.0,481.60 L279.5,481.06 L280.0,480.56 L280.5,480.05 L281.0,479.59 L281.5,479.10 L282.0,478.59 L282.5,478.06 L283.0,477.50 L283.5,476.93 L284.0,476.37 L284.5,475.82 L285.0,475.26 L285.5,474.68 L286.0,474.09 L286.5,473.47 L287.0,472.88 L287.5,472.26 L288.0,471.66 L288.5,471.01 L289.0,470.33 L289.5,469.62 L290.0,468.87 L290.5,468.10 L291.0,467.33 L291.5,466.55 L292.0,465.76 L292.5,465.00 L293.0,464.21 L293.5,463.44 L294.0,462.68 L294.5,461.93 L295.0,461.19 L295.5,460.38 L296.0,459.55 L296.5,458.63 L297.0,457.70 L297.5,456.81 L298.0,455.91 L298.5,455.07 L299.0,454.21 L299.5,453.36 L300.0,452.54 L300.5,451.65 L301.0,450.77 L301.5,449.79 L302.0,448.77 L302.5,447.76 L303.0,446.69 L303.5,445.69 L304.0,444.66 L304.5,443.63 L305.0,442.60 L305.5,441.50 L306.0,440.42 L306.5,439.30 L307.0,438.15 L307.5,437.02 L308.0,435.79 L308.5,434.56 L309.0,433.36 L309.5,432.11 L310.0,430.90 L310.5,429.65 L311.0,428.29 L311.5,426.89 L312.0,425.44 L312.5,423.97 L313.0,422.53 L313.5,421.05 L314.0,419.52 L314.5,417.93 L315.0,416.26 L315.5,414.56 L316.0,412.85 L316.5,411.12 L317.0,409.42 L317.5,407.72 L318.0,406.00 L318.5,404.29 L319.0,402.58 L319.5,400.86 L320.0,399.17 L320.5,397.51 L321.0,395.86 L321.5,394.23 L322.0,392.63 L322.5,391.00 L323.0,389.35 L323.5,387.74 L324.0,386.12 L324.5,384.54 L325.0,382.99 L325.5,381.39 L326.0,379.79 L326.5,378.18 L327.0,376.51 L327.5,374.87 L328.0,373.18 L328.5,371.49 L329.0,369.81 L329.5,368.08 L330.0,366.40 L330.5,364.69 L331.0,362.96 L331.5,361.20 L332.0,359.35 L332.5,357.43 L333.0,355.47 L333.5,353.48 L334.0,351.49 L334.5,349.48 L335.0,347.47 L335.5,345.44 L336.0,343.38 L336.5,341.31 L337.0,339.22 L337.5,337.10 L338.0,334.98 L338.5,332.88 L339.0,330.72 L339.5,328.61 L340.0,326.48 L340.5,324.31 L341.0,322.21 L341.5,320.09 L342.0,317.97 L342.5,315.88 L343.0,313.82 L343.5,311.78 L344.0,309.80 L344.5,307.85 L345.0,305.90 L345.5,304.00 L346.0,302.12 L346.5,300.28 L347.0,298.44 L347.5,296.58 L348.0,294.72 L348.5,292.89 L349.0,291.09 L349.5,289.36 L350.0,287.63 L350.5,285.88 L351.0,284.16 L351.5,282.45 L352.0,280.74 L352.5,279.02 L353.0,277.27 L353.5,275.47 L354.0,273.69 L354.5,271.91 L355.0,270.14 L355.5,268.38 L356.0,266.58 L356.5,264.75 L357.0,262.89 L357.5,260.99 L358.0,259.03 L358.5,257.08 L359.0,255.09 L359.5,253.15 L360.0,251.21 L360.5,249.24 L361.0,247.29 L361.5,245.29 L362.0,243.32 L362.5,241.34 L363.0,239.36 L363.5,237.40 L364.0,235.41 L364.5,233.45 L365.0,231.52 L365.5,229.62 L366.0,227.80 L366.5,226.04 L367.0,224.32 L367.5,222.66 L368.0,221.03 L368.5,219.46 L369.0,218.02 L369.5,216.62 L370.0,215.27 L370.5,213.94 L371.0,212.51 L371.5,210.99 L372.0,209.35 L372.5,207.57 L373.0,205.75 L373.5,203.86 L374.0,201.94 L374.5,200.07 L375.0,198.20 L375.5,196.41 L376.0,194.70 L376.5,192.99 L377.0,191.36 L377.5,189.77 L378.0,188.23 L378.5,186.82 L379.0,185.47 L379.5,184.18 L380.0,182.99 L380.5,181.82 L381.0,180.76 L381.5,179.74 L382.0,178.69 L382.5,177.70 L383.0,176.71 L383.5,175.75 L384.0,174.78 L384.5,173.85 L385.0,172.97 L385.5,172.21 L386.0,171.64 L386.5,171.21 L387.0,170.84 L387.5,170.51 L388.0,170.23 L388.5,170.09 L389.0,170.09 L389.5,170.27 L390.0,170.59 L390.5,170.98 L391.0,171.37 L391.5,171.77 L392.0,172.22 L392.5,172.80 L393.0,173.50 L393.5,174.28 L394.0,175.14 L394.5,176.02 L395.0,176.93 L395.5,177.91 L396.0,178.96 L396.5,180.10 L397.0,181.33 L397.5,182.61 L398.0,183.96 L398.5,185.31 L399.0,186.71 L399.5,188.27 L400.0,189.96 L400.5,191.82 L401.0,193.77 L401.5,195.79 L402.0,197.86 L402.5,199.94 L403.0,202.02 L403.5,204.09 L404.0,206.11 L404.5,208.04 L405.0,209.88 L405.5,211.63 L406.0,213.31 L406.5,215.02 L407.0,216.73 L407.5,218.42 L408.0,220.15 L408.5,221.92 L409.0,223.75 L409.5,225.64 L410.0,227.62 L410.5,229.62 L411.0,231.62 L411.5,233.64 L412.0,235.64 L412.5,237.67 L413.0,239.71 L413.5,241.76 L414.0,243.83 L414.5,245.90 L415.0,247.97 L415.5,250.05 L416.0,252.09 L416.5,254.16 L417.0,256.29 L417.5,258.40 L418.0,260.56 L418.5,262.67 L419.0,264.72 L419.5,266.77 L420.0,268.80 L420.5,270.90 L421.0,273.02 L421.5,275.16 L422.0,277.30 L422.5,279.40 L423.0,281.48 L423.5,283.54 L424.0,285.62 L424.5,287.78 L425.0,289.97 L425.5,292.19 L426.0,294.40 L426.5,296.55 L427.0,298.66 L427.5,300.75 L428.0,302.83 L428.5,304.87 L429.0,306.93 L429.5,308.96 L430.0,310.98 L430.5,313.01 L431.0,315.05 L431.5,317.11 L432.0,319.19 L432.5,321.29 L433.0,323.35 L433.5,325.42 L434.0,327.44 L434.5,329.44 L435.0,331.48 L435.5,333.49 L436.0,335.54 L436.5,337.56 L437.0,339.55 L437.5,341.57 L438.0,343.56 L438.5,345.59 L439.0,347.61 L439.5,349.63 L440.0,351.65 L440.5,353.67 L441.0,355.72 L441.5,357.79 L442.0,359.88 L442.5,362.01 L443.0,364.11 L443.5,366.20 L444.0,368.25 L444.5,370.23 L445.0,372.22 L445.5,374.21 L446.0,376.20 L446.5,378.20 L447.0,380.22 L447.5,382.23 L448.0,384.27 L448.5,386.33 L449.0,388.43 L449.5,390.53 L450.0,392.64 L450.5,394.83 L451.0,397.02 L451.5,399.31 L452.0,401.66 L452.5,404.03 L453.0,406.58 L453.5,409.24 L454.0,412.00 L454.5,414.84 L455.0,417.67 L455.5,420.47 L456.0,423.20 L456.5,425.80 L457.0,428.33 L457.5,430.81 L458.0,433.28 L458.5,435.76 L459.0,438.25 L459.5,440.76 L460.0,443.23 L460.5,445.65 L461.0,448.01 L461.5,450.33 L462.0,452.62 L462.5,454.90 L463.0,457.17 L463.5,459.38 L464.0,461.64 L464.5,463.90 L465.0,466.13 L465.5,468.35 L466.0,470.48 L466.5,472.55 L467.0,474.58 L467.5,476.61 L468.0,478.63 L468.5,480.65 L469.0,482.68 L469.5,484.66 L470.0,486.63 L470.5,488.52 L471.0,490.34 L471.5,492.12 L472.0,493.87 L472.5,495.65 L473.0,497.41 L473.5,499.12 L474.0,500.84 L474.5,502.50 L475.0,504.14 L475.5,505.78 L476.0,507.37 L476.5,508.95 L477.0,510.56 L477.5,512.12 L478.0,513.72 L478.5,515.27 L479.0,516.79 L479.5,518.33 L480.0,519.80 L480.5,521.26 L481.0,522.66 L481.5,524.03 L482.0,525.40 L482.5,526.78 L483.0,528.21 L483.5,529.62 L484.0,531.04 L484.5,532.39 L485.0,533.67 L485.5,534.94 L486.0,536.17 L486.5,537.37 L487.0,538.55 L487.5,539.67 L488.0,540.73 L488.5,541.77 L489.0,542.79 L489.5,543.77 L490.0,544.76 L490.5,545.72 L491.0,546.66 L491.5,547.61 L492.0,548.54 L492.5,549.45 L493.0,550.33 L493.5,551.18 L494.0,552.04 L494.5,552.86 L495.0,553.67 L495.5,554.46 L496.0,555.17 L496.5,555.94 L497.0,556.71 L497.5,557.48 L498.0,558.27 L498.5,558.99 L499.0,559.69 L499.5,560.42 L500.0,561.11 L500.5,561.83 L501.0,562.53 L501.5,563.20 L502.0,563.86 L502.5,564.51 L503.0,565.15 L503.5,565.76 L504.0,566.37 L504.5,566.97 L505.0,567.55 L505.5,568.15 L506.0,568.73 L506.5,569.29 L507.0,569.85 L507.5,570.38 L508.0,570.93 L508.5,571.49 L509.0,572.06 L509.5,572.61 L510.0,573.14 L510.5,573.66 L511.0,574.15 L511.5,574.68 L512.0,575.19 L512.5,575.73 L513.0,576.29 L513.5,576.84 L514.0,577.36 L514.5,577.83 L515.0,578.26 L515.5,578.69 L516.0,579.15 L516.5,579.61 L517.0,580.08 L517.5,580.50 L518.0,580.90 L518.5,581.29 L519.0,581.65 L519.5,582.00 L520.0,582.36 L520.5,582.72 L521.0,583.12 L521.5,583.53 L522.0,583.89 L522.5,584.25 L523.0,584.63 L523.5,584.98 L524.0,585.41 L524.5,585.76 L525.0,586.09 L525.5,586.45 L526.0,586.74 L526.5,587.08 L527.0,587.39 L527.5,587.70 L528.0,588.04 L528.5,588.34 L529.0,588.66 L529.5,588.96 L530.0,589.25 L530.5,589.56 L531.0,589.92 L531.5,590.26 L532.0,590.55 L532.5,590.85 L533.0,591.09 L533.5,591.35 L534.0,591.64 L534.5,591.89 L535.0,592.19 L535.5,592.47 L536.0,592.72 L536.5,593.01 L537.0,593.23 L537.5,593.45 L538.0,593.70 L538.5,593.93 L539.0,594.20 L539.5,594.48 L540.0,594.73 L540.5,594.98 L541.0,595.25 L541.5,595.53 L542.0,595.81 L542.5,596.09 L543.0,596.29 L543.5,596.51 L544.0,596.73 L544.5,596.93 L545.0,597.18 L545.5,597.39 L546.0,597.58 L546.5,597.82 L547.0,598.07 L547.5,598.30 L548.0,598.57 L548.5,598.82 L549.0,599.06 L549.5,599.32 L550.0,599.54 L550.5,599.76 L551.0,599.96 L551.5,600.15 L552.0,600.30 L552.5,600.43 L553.0,600.56 L553.5,600.72 L554.0,600.91 L554.5,601.12 L555.0,601.38 L555.5,601.60 L556.0,601.82 L556.5,602.03 L557.0,602.17 L557.5,602.34 L558.0,602.52 L558.5,602.70 L559.0,602.92 L559.5,603.12 L560.0,603.31 L560.5,603.47 L561.0,603.60 L561.5,603.74 L562.0,603.89 L562.5,604.10 L563.0,604.33 L563.5,604.59 L564.0,604.83 L564.5,605.05 L565.0,605.24 L565.5,605.36 L566.0,605.45 L566.5,605.53 L567.0,605.63 L567.5,605.78 L568.0,605.93 L568.5,606.11 L569.0,606.29 L569.5,606.44 L570.0,606.65 L570.5,606.78 L571.0,606.95 L571.5,607.15 L572.0,607.30 L572.5,607.49 L573.0,607.64 L573.5,607.73 L574.0,607.85 L574.5,607.98 L575.0,608.12 L575.5,608.30 L576.0,608.45 L576.5,608.61 L577.0,608.75 L577.5,608.89 L578.0,609.00 L578.5,609.08 L579.0,609.18 L579.5,609.32 L580.0,609.50 L580.5,609.68 L581.0,609.82 L581.5,609.92 L582.0,609.97 L582.5,610.06 L583.0,610.17 L583.5,610.28 L584.0,610.42 L584.5,610.54 L585.0,610.67 L585.5,610.82 L586.0,610.98 L586.5,611.14 L587.0,611.25 L587.5,611.35 L588.0,611.41 L588.5,611.43 L589.0,611.49 L589.5,611.53 L590.0,611.61 L590.5,611.68 L591.0,611.73 L591.5,611.76 L592.0,611.80 L592.5,611.87 L593.0,611.95 L593.5,612.06 L594.0,612.14 L594.5,612.20 L595.0,612.24 L595.5,612.26 L596.0,612.28 L596.5,612.29 L597.0,612.32 L597.5,612.34 L598.0,612.36 L598.5,612.39 L599.0,612.42 L599.5,612.45 L600.0,612.45 L600.5,612.48 L601.0,612.50 L601.5,612.48 L602.0,612.53 L602.5,612.53 L603.0,612.50 L603.5,612.50 L604.0,612.45 L604.5,612.45 L605.0,612.49 L605.5,612.53 L606.0,612.56 L606.5,612.56 L607.0,612.55 L607.5,612.48 L608.0,612.35 L608.5,612.16 L609.0,611.87 L609.5,611.57 L610.0,611.33 L610.5,611.09 L611.0,610.89 L611.5,610.68 L612.0,610.42 L612.5,610.15 L613.0,609.85 L613.5,609.48 L614.0,609.04 L614.5,608.59 L615.0,608.04 L615.5,607.45 L616.0,606.84 L616.5,606.20 L617.0,605.59 L617.5,605.00 L618.0,604.40 L618.5,603.83 L619.0,603.25 L619.5,602.67 L620.0,602.08 L620.5,601.46 L621.0,600.80 L621.5,600.17 L622.0,599.60 L622.5,599.06 L623.0,598.59 L623.5,598.14 L624.0,597.68 L624.5,597.24 L625.0,596.80 L625.5,596.32 L626.0,595.80 L626.5,595.32 L627.0,594.88 L627.5,594.55 L628.0,594.28 L628.5,594.00 L629.0,593.66 L629.5,593.28 L630.0,592.86 L630.5,592.43 L631.0,592.06 L631.5,591.69 L632.0,591.38 L632.5,591.11 L633.0,590.81 L633.5,590.50 L634.0,590.14 L634.5,589.77 L635.0,589.40 L635.5,589.05 L636.0,588.72 L636.5,588.36 L637.0,587.98 L637.5,587.63 L638.0,587.29 L638.5,587.03 L639.0,586.81 L639.5,586.62 L640.0,586.43 L640.5,586.21 L641.0,585.98 L641.5,585.74 L642.0,585.51 L642.5,585.32 L643.0,585.17 L643.5,584.99 L644.0,584.82 L644.5,584.65 L645.0,584.52 L645.5,584.46 L646.0,584.42 L646.5,584.37 L647.0,584.30 L647.5,584.24 L648.0,584.22 L648.5,584.25 L649.0,584.33 L649.5,584.48 L650.0,584.63 L650.5,584.83 L651.0,585.01 L651.5,585.18 L652.0,585.40 L652.5,585.60 L653.0,585.82 L653.5,586.06 L654.0,586.29 L654.5,586.61 L655.0,587.01 L655.5,587.45 L656.0,587.93 L656.5,588.43 L657.0,589.01 L657.5,589.64 L658.0,590.33 L658.5,591.07 L659.0,591.72 L659.5,592.35 L660.0,592.92 L660.5,593.47 L661.0,594.11 L661.5,594.78 L662.0,595.51 L662.5,596.23 L663.0,596.88 L663.5,597.52 L664.0,598.15 L664.5,598.82 L665.0,599.58 L665.5,600.35 L666.0,601.15 L666.5,601.93 L667.0,602.69 L667.5,603.41 L668.0,604.11 L668.5,604.83 L669.0,605.58 L669.5,606.39 L670.0,607.18 L670.5,607.97 L671.0,608.74 L671.5,609.47 L672.0,610.19 L672.5,610.94 L673.0,611.65 L673.5,612.32 L674.0,612.96 L674.5,613.55 L675.0,614.12 L675.5,614.68 L676.0,615.26 L676.5,615.81 L677.0,616.37 L677.5,616.91 L678.0,617.46 L678.5,618.01 L679.0,618.55 L679.5,619.07 L680.0,619.56 L680.5,620.04 L681.0,620.49 L681.5,620.98 L682.0,621.43 L682.5,621.87 L683.0,622.30 L683.5,622.72 L684.0,623.13 L684.5,623.55 L685.0,623.93 L685.5,624.24 L686.0,624.53 L686.5,624.78 L687.0,625.02 L687.5,625.31 L688.0,625.59 L688.5,625.83 L689.0,626.07 L689.5,626.28 L690.0,626.48 L690.5,626.72 L691.0,626.94 L691.5,627.14 L692.0,627.37 L692.5,627.57 L693.0,627.80 L693.5,628.02 L694.0,628.20 L694.5,628.37 L695.0,628.50 L695.5,628.61 L696.0,628.77 L696.5,628.89 L697.0,629.04 L697.5,629.25 L698.0,629.41 L698.5,629.63 L699.0,629.83 L699.5,629.98 L700.0,630.12 L700.5,630.23 L701.0,630.33 L701.5,630.45 L702.0,630.60 L702.5,630.75 L703.0,630.91 L703.5,631.06 L704.0,631.21 L704.5,631.34 L705.0,631.48 L705.5,631.60 L706.0,631.70 L706.5,631.79 L707.0,631.87 L707.5,631.97 L708.0,632.07 L708.5,632.20 L709.0,632.32 L709.5,632.39 L710.0,632.48 L710.5,632.56 L711.0,632.62 L711.5,632.71 L712.0,632.78 L712.5,632.82 L713.0,632.91 L713.5,633.02 L714.0,633.14 L714.5,633.27 L715.0,633.36 L715.5,633.41 L716.0,633.45 L716.5,633.49 L717.0,633.54 L717.5,633.63 L718.0,633.72 L718.5,633.81 L719.0,633.91 L719.5,633.94 L720.0,634.02 L720.5,634.07 L721.0,634.15 L721.5,634.26 L722.0,634.31 L722.5,634.45 L723.0,634.52 L723.5,634.58 L724.0,634.68 L724.5,634.70 L725.0,634.78 L725.5,634.88 L726.0,634.94 L726.5,635.02 L727.0,635.11 L727.5,635.18 L728.0,635.29 L728.5,635.42 L729.0,635.53 L729.5,635.64 L730.0,635.74 L730.5,635.80 L731.0,635.82 L731.5,635.84 L732.0,635.84 L732.5,635.86 L733.0,635.89 L733.5,635.92 L734.0,635.97 L734.5,636.07 L735.0,636.21 L735.5,636.36 L736.0,636.51 L736.5,636.61 L737.0,636.70 L737.5,636.78 L738.0,636.87 L738.5,636.95 L739.0,637.02 L739.5,637.07 L740.0,637.08 L740.5,637.10 L741.0,637.16 L741.5,637.26 L742.0,637.38 L742.5,637.52 L743.0,637.62 L743.5,637.69 L744.0,637.76 L744.5,637.80 L745.0,637.82 L745.5,637.87 L746.0,637.88 L746.5,637.89 L747.0,637.90 L747.5,637.90 L748.0,637.94 L748.5,637.97 L749.0,638.06 L749.5,638.16 L750.0,638.26 L750.5,638.37 L751.0,638.47 L751.5,638.51 L752.0,638.54 L752.5,638.55 L753.0,638.52 L753.5,638.55 L754.0,638.59 L754.5,638.64 L755.0,638.71 L755.5,638.75 L756.0,638.77 L756.5,638.79 L757.0,638.81 L757.5,638.83 L758.0,638.87 L758.5,638.88 L759.0,638.91 L759.5,638.97 L760.0,639.00 L760.5,639.05 L761.0,639.08 L761.5,639.09 L762.0,639.14 L762.5,639.18 L763.0,639.23 L763.5,639.30 L764.0,639.37 L764.5,639.43 L765.0,639.52 L765.5,639.58 L766.0,639.61 L766.5,639.64 L767.0,639.67 L767.5,639.71 L768.0,639.80 L768.5,639.87 L769.0,639.89 L769.5,639.93 L770.0,639.93 L770.5,639.96 L771.0,640.03 L771.5,640.06 L772.0,640.11 L772.5,640.13 L773.0,640.14 L773.5,640.14 L774.0,640.15 L774.5,640.16 L775.0,640.19 L775.5,640.25 L776.0,640.26 L776.5,640.27 L777.0,640.27 L777.5,640.22 L778.0,640.21 L778.5,640.22 L779.0,640.25 L779.5,640.28 L780.0,640.32 L780.5,640.34 L781.0,640.35 L781.5,640.38 L782.0,640.43 L782.5,640.49 L783.0,640.55 L783.5,640.58 L784.0,640.57 L784.5,640.55 L785.0,640.57 L785.5,640.57 L786.0,640.61 L786.5,640.63 L787.0,640.66 L787.5,640.72 L788.0,640.77 L788.5,640.86 L789.0,640.90 L789.5,640.96 L790.0,640.99 L790.5,640.97 L791.0,641.02 L791.5,641.03 L792.0,641.07 L792.5,641.15 L793.0,641.17 L793.5,641.18 L794.0,641.19 L794.5,641.18 L795.0,641.20 L795.5,641.25 L796.0,641.28 L796.5,641.30 L797.0,641.29 L797.5,641.27 L798.0,641.25 L798.5,641.24 L799.0,641.33 L799.5,641.39 L800.0,641.49 L800.5,641.59 L801.0,641.62 L801.5,641.67 L802.0,641.68 L802.5,641.71 L803.0,641.74 L803.5,641.75 L804.0,641.77 L804.5,641.76 L805.0,641.75 L805.5,641.79 L806.0,641.84 L806.5,641.92 L807.0,642.02 L807.5,642.08 L808.0,642.10 L808.5,642.07 L809.0,642.04 L809.5,642.00 L810.0,642.02 L810.5,642.08 L811.0,642.12 L811.5,642.14 L812.0,642.16 L812.5,642.17 L813.0,642.21 L813.5,642.28 L814.0,642.36 L814.5,642.39 L815.0,642.40 L815.5,642.36 L816.0,642.29 L816.5,642.29 L817.0,642.33 L817.5,642.37 L818.0,642.45 L818.5,642.49 L819.0,642.51 L819.5,642.51 L820.0,642.52 L820.5,642.51 L821.0,642.54 L821.5,642.58 L822.0,642.61 L822.5,642.63 L823.0,642.60 L823.5,642.55 L824.0,642.46 L824.5,642.39 L825.0,642.38 L825.5,642.38 L826.0,642.45 L826.5,642.51 L827.0,642.54 L827.5,642.58 L828.0,642.62 L828.5,642.65 L829.0,642.70 L829.5,642.73 L830.0,642.71 L830.5,642.68 L831.0,642.63 L831.5,642.60 L832.0,642.57 L832.5,642.53 L833.0,642.51 L833.5,642.46 L834.0,642.46 L834.5,642.46 L835.0,642.44 L835.5,642.48 L836.0,642.51 L836.5,642.57 L837.0,642.61 L837.5,642.62 L838.0,642.60 L838.5,642.58 L839.0,642.55 L839.5,642.54 L840.0,642.50 L840.5,642.44 L841.0,642.44 L841.5,642.43 L842.0,642.50 L842.5,642.56 L843.0,642.58 L843.5,642.60 L844.0,642.58 L844.5,642.56 L845.0,642.57 L845.5,642.55 L846.0,642.53 L846.5,642.51 L847.0,642.48 L847.5,642.47 L848.0,642.44 L848.5,642.42 L849.0,642.43 L849.5,642.45 L850.0,642.53 L850.5,642.62 L851.0,642.66 L851.5,642.68 L852.0,642.67 L852.5,642.65 L853.0,642.65 L853.5,642.63 L854.0,642.60 L854.5,642.52 L855.0,642.45 L855.5,642.43 L856.0,642.41 L856.5,642.40 L857.0,642.39 L857.5,642.36 L858.0,642.36 L858.5,642.43 L859.0,642.49 L859.5,642.55 L860.0,642.58 L860.5,642.52 L861.0,642.46 L861.5,642.41 L862.0,642.41 L862.5,642.48 L863.0,642.57 L863.5,642.60 L864.0,642.61 L864.5,642.56 L865.0,642.50 L865.5,642.47 L866.0,642.43 L866.5,642.40 L867.0,642.38 L867.5,642.38 L868.0,642.37 L868.5,642.33 L869.0,642.30 L869.5,642.25 L870.0,642.22 L870.5,642.22 L871.0,642.21 L871.5,642.21 L872.0,642.20 L872.5,642.18 L873.0,642.20 L873.5,642.19 L874.0,642.17 L874.5,642.14 L875.0,642.11 L875.5,642.11 L876.0,642.11 L876.5,642.10 L877.0,642.08 L877.5,642.07 L878.0,642.04 L878.5,642.04 L879.0,642.03 L879.5,641.99 L880.0,641.97 L880.5,641.94 L881.0,641.93 L881.5,641.94 L882.0,641.90 L882.5,641.86 L883.0,641.79 L883.5,641.71 L884.0,641.64 L884.5,641.57 L885.0,641.56 L885.5,641.57 L886.0,641.59 L886.5,641.64 L887.0,641.61 L887.5,641.57 L888.0,641.51 L888.5,641.42 L889.0,641.38 L889.5,641.34 L890.0,641.33 L890.5,641.34 L891.0,641.36 L891.5,641.37 L892.0,641.37 L892.5,641.36 L893.0,641.35 L893.5,641.34 L894.0,641.32 L894.5,641.27 L895.0,641.18 L895.5,641.10 L896.0,641.03 L896.5,640.98 L897.0,640.92 L897.5,640.89 L898.0,640.82 L898.5,640.78 L899.0,640.73 L899.5,640.68 L900.0,640.65 L900.5,640.62 L901.0,640.64 L901.5,640.64 L902.0,640.63 L902.5,640.65 L903.0,640.61 L903.5,640.60 L904.0,640.63 L904.5,640.59 L905.0,640.58 L905.5,640.53 L906.0,640.43 L906.5,640.38 L907.0,640.30 L907.5,640.27 L908.0,640.25 L908.5,640.22 L909.0,640.23 L909.5,640.20 L910.0,640.20 L910.5,640.24 L911.0,640.22 L911.5,640.21 L912.0,640.13 L912.5,640.00 L913.0,639.90 L913.5,639.81 L914.0,639.79 L914.5,639.76 L915.0,639.72 L915.5,639.67 L916.0,639.62 L916.5,639.61 L917.0,639.62 L917.5,639.60 L918.0,639.55 L918.5,639.47 L919.0,639.39 L919.5,639.32 L920.0,639.27 L920.5,639.22 L921.0,639.16 L921.5,639.13 L922.0,639.06 L922.5,639.06 L923.0,639.07 L923.5,639.02 L924.0,639.02 L924.5,638.96 L925.0,638.89 L925.5,638.86 L926.0,638.85 L926.5,638.81 L927.0,638.79 L927.5,638.72 L928.0,638.66 L928.5,638.60 L929.0,638.52 L929.5,638.45 L930.0,638.37 L930.5,638.30 L931.0,638.25 L931.5,638.23 L932.0,638.20 L932.5,638.22 L933.0,638.28 L933.5,638.31 L934.0,638.36 L934.5,638.30 L935.0,638.18 L935.5,638.03 L936.0,637.88 L936.5,637.78 L937.0,637.71 L937.5,637.65 L938.0,637.62 L938.5,637.61 L939.0,637.60 L939.5,637.61 L940.0,637.59 L940.5,637.53 L941.0,637.47 L941.5,637.38 L942.0,637.30 L942.5,637.26 L943.0,637.23 L943.5,637.25 L944.0,637.25 L944.5,637.25 L945.0,637.24 L945.5,637.17 L946.0,637.09 L946.5,636.98 L947.0,636.88 L947.5,636.83 L948.0,636.83 L948.5,636.83 L949.0,636.79 L949.5,636.71 L950.0,636.56 L950.5,636.41 L951.0,636.30 L951.5,636.21 L952.0,636.19 L952.5,636.15 L953.0,636.13 L953.5,636.11 L954.0,636.06 L954.5,636.05 L955.0,636.02 L955.5,635.96 L956.0,635.95 L956.5,635.91 L957.0,635.87 L957.5,635.86 L958.0,635.80 L958.5,635.74 L959.0,635.68 L959.5,635.61 L960.0,635.55 L960.5,635.46 L961.0,635.37 L961.5,635.26 L962.0,635.17 L962.5,635.10 L963.0,635.06 L963.5,635.03 L964.0,634.99 L964.5,634.96 L965.0,634.94 L965.5,634.91 L966.0,634.88 L966.5,634.80 L967.0,634.69 L967.5,634.60 L968.0,634.48 L968.5,634.38 L969.0,634.26 L969.5,634.14 L970.0,634.06 L970.5,634.00 L971.0,634.01 L971.5,634.00 L972.0,633.96 L972.5,633.92 L973.0,633.82 L973.5,633.74 L974.0,633.63 L974.5,633.53 L975.0,633.45 L975.5,633.33 L976.0,633.28 L976.5,633.22 L977.0,633.15 L977.5,633.16 L978.0,633.11 L978.5,633.05 L979.0,632.98 L979.5,632.85 L980.0,632.78 L980.5,632.76 L981.0,632.74 L981.5,632.74 L982.0,632.67 L982.5,632.55 L983.0,632.42 L983.5,632.29 L984.0,632.20 L984.5,632.13 L985.0,632.06 L985.5,631.98 L986.0,631.85 L986.5,631.69 L987.0,631.58 L987.5,631.49 L988.0,631.43 L988.5,631.38 L989.0,631.30 L989.5,631.20 L990.0,631.14 L990.5,631.07 L991.0,631.00 L991.5,630.90 L992.0,630.80 L992.5,630.67 L993.0,630.56 L993.5,630.49 L994.0,630.39 L994.5,630.34 L995.0,630.28 L995.5,630.16 L996.0,630.07 L996.5,629.98 L997.0,629.84 L997.5,629.77 L998.0,629.67 L998.5,629.52 L999.0,629.40 L999.5,629.24 L1000.0,629.10 L1000.5,628.94 L1001.0,628.88 L1001.5,628.88 L1002.0,628.90 L1002.5,628.92 L1003.0,628.90 L1003.5,628.83 L1004.0,628.70 L1004.5,628.61 L1005.0,628.54 L1005.5,628.52 L1006.0,628.55 L1006.5,628.49 L1007.0,628.36 L1007.5,628.22 L1008.0,628.04 L1008.5,627.88 L1009.0,627.81 L1009.5,627.65 L1010.0,627.53 L1010.5,627.39 L1011.0,627.15 L1011.5,627.01 L1012.0,626.85 L1012.5,626.74 L1013.0,626.69 L1013.5,626.60 L1014.0,626.50 L1014.5,626.35 L1015.0,626.19 L1015.5,626.05 L1016.0,625.91 L1016.5,625.81 L1017.0,625.74 L1017.5,625.63 L1018.0,625.58 L1018.5,625.49 L1019.0,625.35 L1019.5,625.25 L1020.0,625.02 L1020.5,624.80 L1021.0,624.64 L1021.5,624.42 L1022.0,624.36 L1022.5,624.27 L1023.0,624.21 L1023.5,624.22 L1024.0,624.20 L1024.5,624.23 L1025.0,624.16 L1025.5,624.06 L1026.0,623.91 L1026.5,623.70 L1027.0,623.56 L1027.5,623.44 L1028.0,623.29 L1028.5,623.16 L1029.0,623.00 L1029.5,622.80 L1030.0,622.68 L1030.5,622.62 L1031.0,622.65 L1031.5,622.74 L1032.0,622.83 L1032.5,622.85 L1033.0,622.81 L1033.5,622.75 L1034.0,622.67 L1034.5,622.61 L1035.0,622.55 L1035.5,622.54 L1036.0,622.54 L1036.5,622.53 L1037.0,622.51 L1037.5,622.38 L1038.0,622.26 L1038.5,622.27 L1039.0,622.27 L1039.5,622.31 L1040.0,622.27 L1040.5,622.13 L1041.0,621.97 L1041.5,621.88 L1042.0,621.86 L1042.5,621.87 L1043.0,621.90 L1043.5,621.87 L1044.0,621.85 L1044.5,621.86 L1045.0,621.95 L1045.5,622.06 L1046.0,622.15 L1046.5,622.24 L1047.0,622.24 L1047.5,622.25 L1048.0,622.31 L1048.5,622.32 L1049.0,622.38 L1049.5,622.42 L1050.0,622.42 L1050.5,622.37 L1051.0,622.27 L1051.5,622.13 L1052.0,621.98 L1052.5,621.91 L1053.0,621.90 L1053.5,621.93 L1054.0,621.95 L1054.5,621.91 L1055.0,621.85 L1055.5,621.81 L1056.0,621.76 L1056.5,621.83 L1057.0,621.86 L1057.5,621.86 L1058.0,621.85 L1058.5,621.73 L1059.0,621.58 L1059.5,621.50 L1060.0,621.47 L1060.5,621.51 L1061.0,621.56 L1061.5,621.50 L1062.0,621.44 L1062.5,621.29 L1063.0,621.11 L1063.5,621.01 L1064.0,620.87 L1064.5,620.81 L1065.0,620.92 L1065.5,621.00 L1066.0,621.02 L1066.5,621.01 L1067.0,620.88 L1067.5,620.69 L1068.0,620.61 L1068.5,620.55 L1069.0,620.44 L1069.5,620.37 L1070.0,620.22 L1070.5,619.97 L1071.0,619.78 L1071.5,619.59 L1072.0,619.46 L1072.5,619.40 L1073.0,619.29 L1073.5,619.20 L1074.0,619.02 L1074.5,618.93 L1075.0,618.89 L1075.5,618.94 L1076.0,619.03 L1076.5,619.01 L1077.0,618.93 L1077.5,618.73 L1078.0,618.52 L1078.5,618.37 L1079.0,618.26 L1079.5,618.18 L1080.0,618.15 L1080.5,618.07 L1081.0,617.96 L1081.5,617.77 L1082.0,617.51 L1082.5,617.22 L1083.0,616.99 L1083.5,616.86 L1084.0,616.79 L1084.5,616.88 L1085.0,616.96 L1085.5,617.01 L1086.0,617.14 L1086.5,616.95 L1087.0,616.76 L1087.5,616.56 L1088.0,616.16 L1088.5,616.07 L1089.0,615.97 L1089.5,615.79 L1090.0,615.83 L1090.5,615.66 L1091.0,615.56 L1091.5,615.51 L1092.0,615.34 L1092.5,615.35 L1093.0,615.45 L1093.5,615.58 L1094.0,615.81 L1094.5,615.91 L1095.0,615.74 L1095.5,615.53 L1096.0,615.30 L1096.5,615.12 L1097.0,615.14 L1097.5,615.16 L1098.0,615.17 L1098.5,615.11 L1099.0,614.97 L1099.5,614.89 L1100.0,614.68 L1100.5,614.55 L1101.0,614.38 L1101.5,614.14 L1102.0,613.98 L1102.5,613.80 L1103.0,613.68 L1103.5,613.63 L1104.0,613.61 L1104.5,613.62 L1105.0,613.65 L1105.5,613.59 L1106.0,613.55 L1106.5,613.53 L1107.0,613.52 L1107.5,613.62 L1108.0,613.66 L1108.5,613.68 L1109.0,613.63 L1109.5,613.46 L1110.0,613.19 L1110.5,612.84 L1111.0,612.54 L1111.5,612.27 L1112.0,612.07 L1112.5,611.97 L1113.0,611.90 L1113.5,611.80 L1114.0,611.71 L1114.5,611.55 L1115.0,611.37 L1115.5,611.30 L1116.0,611.32 L1116.5,611.26 L1117.0,611.13 L1117.5,610.87 L1118.0,610.52 L1118.5,610.38 L1119.0,610.29 L1119.5,610.25 L1120.0,610.35 L1120.5,610.44 L1121.0,610.55 L1121.5,610.67 L1122.0,610.55 L1122.5,610.32 L1123.0,610.08 L1123.5,609.81 L1124.0,609.71 L1124.5,609.65 L1125.0,609.64 L1125.5,609.69 L1126.0,609.65 L1126.5,609.50 L1127.0,609.24 L1127.5,608.83 L1128.0,608.45 L1128.5,608.20 L1129.0,608.16 L1129.5,608.22 L1130.0,608.26 L1130.5,608.26 L1131.0,608.14 L1131.5,608.02 L1132.0,607.98 L1132.5,607.96 L1133.0,607.89 L1133.5,607.85 L1134.0,607.64 L1134.5,607.41 L1135.0,607.22 L1135.5,607.04 L1136.0,607.04 L1136.5,606.93 L1137.0,606.78 L1137.5,606.61 L1138.0,606.44 L1138.5,606.39 L1139.0,606.45 L1139.5,606.53 L1140.0,606.54 L1140.5,606.56 L1141.0,606.46 L1141.5,606.40 L1142.0,606.29 L1142.5,606.13 L1143.0,606.00 L1143.5,605.77 L1144.0,605.51 L1144.5,605.28 L1145.0,605.09 L1145.5,604.86 L1146.0,604.78 L1146.5,604.71 L1147.0,604.51 L1147.5,604.37 L1148.0,604.10 L1148.5,603.72 L1149.0,603.47 L1149.5,603.24 L1150.0,602.87 L1150.5,602.65 L1151.0,602.46 L1151.5,602.36 L1152.0,602.37 L1152.5,602.15 L1153.0,601.80 L1153.5,601.41 L1154.0,601.13 L1154.5,601.11 L1155.0,601.45 L1155.5,601.82 L1156.0,602.12 L1156.5,602.29 L1157.0,602.25 L1157.5,602.18 L1158.0,602.16 L1158.5,602.11 L1159.0,601.96 L1159.5,601.91 L1160.0,601.74 L1160.5,601.56 L1161.0,601.51 L1161.5,601.33 L1162.0,601.24 L1162.5,601.23 L1163.0,601.15 L1163.5,601.09 L1164.0,601.05 L1164.5,600.99 L1165.0,600.97 L1165.5,601.06 L1166.0,601.09 L1166.5,601.05 L1167.0,600.90 L1167.5,600.55 L1168.0,600.30 L1168.5,600.08 L1169.0,599.94 L1169.5,600.00 L1170.0,599.74 L1170.5,599.44 L1171.0,599.07 L1171.5,598.46 L1172.0,598.08 L1172.5,597.75 L1173.0,597.55 L1173.5,597.57 L1174.0,597.65 L1174.5,597.75 L1175.0,597.60 L1175.5,597.35 L1176.0,597.06 L1176.5,596.68 L1177.0,596.56 L1177.5,596.39 L1178.0,596.16 L1178.5,595.99 L1179.0,595.67 L1179.5,595.37 L1180.0,595.17 L1180.5,595.04 L1181.0,595.02 L1181.5,595.09 L1182.0,595.06 L1182.5,595.05 L1183.0,594.87 L1183.5,594.74 L1184.0,594.69 L1184.5,594.46 L1185.0,594.42 L1185.5,594.23 L1186.0,593.92 L1186.5,593.64 L1187.0,593.30 L1187.5,592.96 L1188.0,592.83 L1188.5,592.91 L1189.0,592.79 L1189.5,592.75 L1190.0,592.58 L1190.5,592.21 L1191.0,592.23 L1191.5,592.35 L1192.0,592.54 L1192.5,592.82 L1193.0,592.99 L1193.5,593.03 L1194.0,593.05 L1194.5,592.89 L1195.0,592.53 L1195.5,592.12 L1196.0,591.73 L1196.5,591.71 L1197.0,591.84 L1197.5,592.05 L1198.0,592.13 L1198.5,591.85 L1199.0,591.52 L1199.5,591.32 L1200.0,591.28 L1200.5,591.21 L1201.0,591.24 L1201.5,591.03 L1202.0,590.67 L1202.5,590.71 L1203.0,590.58 L1203.5,590.49 L1204.0,590.45 L1204.5,590.08 L1205.0,589.89 L1205.5,589.91 L1206.0,590.05 L1206.5,590.24 L1207.0,590.40 L1207.5,590.27 L1208.0,590.18 L1208.5,590.15 L1209.0,590.00 L1209.5,589.98 L1210.0,589.79 L1210.5,589.51 L1211.0,589.27 L1211.5,589.01 L1212.0,588.77 L1212.5,588.62 L1213.0,588.57 L1213.5,588.50 L1214.0,588.53 L1214.5,588.47 L1215.0,588.47 L1215.5,588.49 L1216.0,588.46 L1216.5,588.46 L1217.0,588.29 L1217.5,588.09 L1218.0,587.94 L1218.5,587.80 L1219.0,587.70 L1219.5,587.65 L1220.0,587.60 L1220.5,587.47 L1221.0,587.29 L1221.5,586.89 L1222.0,586.47 L1222.5,586.30 L1223.0,586.37 L1223.5,586.80 L1224.0,587.23 L1224.5,587.42 L1225.0,587.37 L1225.5,587.03 L1226.0,586.55 L1226.5,586.11 L1227.0,585.82 L1227.5,585.85 L1228.0,586.01 L1228.5,586.28 L1229.0,586.44 L1229.5,586.24 L1230.0,585.94 L1230.5,585.50 L1231.0,585.09 L1231.5,584.88 L1232.0,584.87" fill="none" stroke="#1c1cf0" stroke-width="2.6" stroke-linejoin="round" stroke-linecap="butt"/>
<path d="M104.0,482.53 L104.5,482.61 L105.0,482.87 L105.5,483.03 L106.0,483.40 L106.5,483.31 L107.0,483.02 L107.5,483.07 L108.0,482.67 L108.5,482.53 L109.0,482.56 L109.5,482.19 L110.0,482.36 L110.5,482.90 L111.0,483.24 L111.5,483.87 L112.0,484.27 L112.5,484.21 L113.0,484.11 L113.5,483.92 L114.0,483.63 L114.5,483.38 L115.0,483.46 L115.5,483.46 L116.0,483.42 L116.5,483.22 L117.0,482.57 L117.5,482.18 L118.0,481.82 L118.5,481.83 L119.0,482.10 L119.5,482.00 L120.0,481.95 L120.5,482.16 L121.0,482.47 L121.5,482.74 L122.0,483.34 L122.5,483.19 L123.0,482.78 L123.5,482.75 L124.0,482.42 L124.5,482.01 L125.0,482.23 L125.5,482.12 L126.0,481.72 L126.5,481.84 L127.0,481.33 L127.5,480.80 L128.0,481.10 L128.5,481.25 L129.0,481.54 L129.5,482.34 L130.0,482.23 L130.5,482.43 L131.0,482.75 L131.5,482.62 L132.0,482.90 L132.5,482.69 L133.0,482.41 L133.5,482.13 L134.0,482.09 L134.5,482.09 L135.0,482.03 L135.5,482.00 L136.0,481.53 L136.5,481.37 L137.0,481.51 L137.5,481.51 L138.0,481.65 L138.5,481.51 L139.0,480.92 L139.5,480.74 L140.0,480.24 L140.5,479.91 L141.0,479.84 L141.5,479.26 L142.0,479.34 L142.5,479.56 L143.0,479.56 L143.5,480.08 L144.0,480.19 L144.5,479.64 L145.0,479.04 L145.5,477.98 L146.0,477.16 L146.5,476.87 L147.0,476.63 L147.5,476.63 L148.0,476.25 L148.5,475.54 L149.0,474.96 L149.5,474.13 L150.0,473.51 L150.5,473.09 L151.0,472.50 L151.5,472.09 L152.0,471.78 L152.5,471.29 L153.0,471.01 L153.5,470.62 L154.0,470.19 L154.5,469.83 L155.0,469.39 L155.5,468.99 L156.0,468.73 L156.5,468.52 L157.0,468.28 L157.5,468.10 L158.0,467.78 L158.5,467.37 L159.0,467.05 L159.5,466.78 L160.0,466.65 L160.5,466.54 L161.0,466.39 L161.5,465.98 L162.0,465.49 L162.5,464.95 L163.0,464.28 L163.5,463.85 L164.0,463.37 L164.5,463.00 L165.0,462.66 L165.5,462.21 L166.0,461.75 L166.5,461.16 L167.0,460.59 L167.5,460.07 L168.0,459.61 L168.5,459.18 L169.0,458.78 L169.5,458.28 L170.0,457.80 L170.5,457.36 L171.0,456.94 L171.5,456.61 L172.0,456.19 L172.5,455.73 L173.0,455.27 L173.5,454.74 L174.0,454.28 L174.5,453.74 L175.0,453.14 L175.5,452.50 L176.0,451.81 L176.5,451.18 L177.0,450.53 L177.5,449.89 L178.0,449.26 L178.5,448.51 L179.0,447.71 L179.5,446.89 L180.0,446.01 L180.5,445.11 L181.0,444.25 L181.5,443.31 L182.0,442.33 L182.5,441.37 L183.0,440.41 L183.5,439.52 L184.0,438.68 L184.5,437.78 L185.0,436.89 L185.5,436.04 L186.0,435.27 L186.5,434.69 L187.0,434.10 L187.5,433.49 L188.0,432.81 L188.5,432.04 L189.0,431.31 L189.5,430.61 L190.0,430.04 L190.5,429.52 L191.0,429.08 L191.5,428.68 L192.0,428.35 L192.5,428.16 L193.0,427.99 L193.5,427.86 L194.0,427.74 L194.5,427.60 L195.0,427.54 L195.5,427.53 L196.0,427.52 L196.5,427.58 L197.0,427.86 L197.5,428.31 L198.0,428.97 L198.5,429.75 L199.0,430.60 L199.5,431.56 L200.0,432.50 L200.5,433.67 L201.0,435.17 L201.5,436.86 L202.0,438.76 L202.5,440.72 L203.0,442.71 L203.5,444.71 L204.0,446.62 L204.5,448.40 L205.0,449.99 L205.5,451.44 L206.0,452.85 L206.5,454.22 L207.0,455.50 L207.5,456.65 L208.0,457.71 L208.5,458.55 L209.0,459.16 L209.5,459.77 L210.0,460.25 L210.5,460.69 L211.0,461.12 L211.5,461.46 L212.0,461.85 L212.5,462.28 L213.0,462.68 L213.5,463.07 L214.0,463.42 L214.5,463.69 L215.0,463.96 L215.5,464.21 L216.0,464.45 L216.5,464.67 L217.0,464.79 L217.5,464.93 L218.0,465.03 L218.5,465.13 L219.0,465.33 L219.5,465.50 L220.0,465.73 L220.5,465.97 L221.0,466.15 L221.5,466.31 L222.0,466.41 L222.5,466.48 L223.0,466.56 L223.5,466.60 L224.0,466.67 L224.5,466.76 L225.0,466.85 L225.5,466.95 L226.0,467.02 L226.5,467.05 L227.0,467.04 L227.5,467.02 L228.0,467.01 L228.5,466.99 L229.0,466.97 L229.5,467.00 L230.0,467.00 L230.5,467.00 L231.0,467.00 L231.5,466.95 L232.0,466.87 L232.5,466.76 L233.0,466.62 L233.5,466.44 L234.0,466.23 L234.5,466.04 L235.0,465.86 L235.5,465.70 L236.0,465.57 L236.5,465.43 L237.0,465.25 L237.5,465.09 L238.0,464.93 L238.5,464.75 L239.0,464.58 L239.5,464.41 L240.0,464.20 L240.5,463.99 L241.0,463.83 L241.5,463.62 L242.0,463.46 L242.5,463.29 L243.0,463.07 L243.5,462.89 L244.0,462.70 L244.5,462.57 L245.0,462.46 L245.5,462.34 L246.0,462.19 L246.5,461.99 L247.0,461.81 L247.5,461.60 L248.0,461.43 L248.5,461.28 L249.0,461.09 L249.5,460.91 L250.0,460.70 L250.5,460.47 L251.0,460.23 L251.5,459.98 L252.0,459.73 L252.5,459.47 L253.0,459.22 L253.5,458.96 L254.0,458.72 L254.5,458.47 L255.0,458.21 L255.5,457.94 L256.0,457.64 L256.5,457.39 L257.0,457.15 L257.5,456.93 L258.0,456.72 L258.5,456.44 L259.0,456.16 L259.5,455.84 L260.0,455.52 L260.5,455.23 L261.0,454.91 L261.5,454.63 L262.0,454.32 L262.5,454.00 L263.0,453.69 L263.5,453.34 L264.0,453.04 L264.5,452.72 L265.0,452.39 L265.5,452.11 L266.0,451.76 L266.5,451.37 L267.0,451.01 L267.5,450.61 L268.0,450.25 L268.5,449.99 L269.0,449.69 L269.5,449.38 L270.0,449.04 L270.5,448.59 L271.0,448.16 L271.5,447.72 L272.0,447.32 L272.5,446.90 L273.0,446.43 L273.5,445.93 L274.0,445.42 L274.5,444.95 L275.0,444.51 L275.5,444.10 L276.0,443.69 L276.5,443.26 L277.0,442.81 L277.5,442.40 L278.0,441.95 L278.5,441.51 L279.0,441.08 L279.5,440.58 L280.0,440.11 L280.5,439.62 L281.0,439.11 L281.5,438.58 L282.0,438.06 L282.5,437.57 L283.0,437.07 L283.5,436.65 L284.0,436.18 L284.5,435.67 L285.0,435.18 L285.5,434.64 L286.0,434.08 L286.5,433.55 L287.0,432.99 L287.5,432.45 L288.0,431.95 L288.5,431.38 L289.0,430.79 L289.5,430.17 L290.0,429.50 L290.5,428.88 L291.0,428.23 L291.5,427.53 L292.0,426.82 L292.5,426.02 L293.0,425.21 L293.5,424.37 L294.0,423.51 L294.5,422.70 L295.0,421.91 L295.5,421.14 L296.0,420.37 L296.5,419.56 L297.0,418.73 L297.5,417.89 L298.0,417.04 L298.5,416.20 L299.0,415.32 L299.5,414.44 L300.0,413.54 L300.5,412.66 L301.0,411.79 L301.5,410.91 L302.0,410.02 L302.5,409.08 L303.0,408.13 L303.5,407.16 L304.0,406.19 L304.5,405.22 L305.0,404.22 L305.5,403.21 L306.0,402.19 L306.5,401.19 L307.0,400.16 L307.5,399.08 L308.0,397.93 L308.5,396.68 L309.0,395.39 L309.5,394.13 L310.0,392.82 L310.5,391.49 L311.0,390.11 L311.5,388.61 L312.0,387.02 L312.5,385.37 L313.0,383.68 L313.5,382.00 L314.0,380.33 L314.5,378.63 L315.0,376.91 L315.5,375.15 L316.0,373.37 L316.5,371.59 L317.0,369.84 L317.5,368.09 L318.0,366.37 L318.5,364.69 L319.0,363.06 L319.5,361.54 L320.0,360.07 L320.5,358.63 L321.0,357.20 L321.5,355.73 L322.0,354.25 L322.5,352.87 L323.0,351.49 L323.5,350.15 L324.0,348.80 L324.5,347.36 L325.0,345.92 L325.5,344.45 L326.0,342.96 L326.5,341.48 L327.0,339.92 L327.5,338.31 L328.0,336.65 L328.5,334.93 L329.0,333.25 L329.5,331.57 L330.0,329.91 L330.5,328.25 L331.0,326.52 L331.5,324.73 L332.0,322.92 L332.5,321.14 L333.0,319.36 L333.5,317.60 L334.0,315.85 L334.5,314.02 L335.0,312.25 L335.5,310.50 L336.0,308.72 L336.5,307.01 L337.0,305.27 L337.5,303.54 L338.0,301.81 L338.5,300.04 L339.0,298.29 L339.5,296.50 L340.0,294.71 L340.5,292.90 L341.0,291.03 L341.5,289.14 L342.0,287.25 L342.5,285.38 L343.0,283.55 L343.5,281.72 L344.0,279.89 L344.5,278.05 L345.0,276.19 L345.5,274.31 L346.0,272.42 L346.5,270.53 L347.0,268.62 L347.5,266.75 L348.0,264.85 L348.5,262.93 L349.0,261.01 L349.5,259.04 L350.0,257.03 L350.5,254.96 L351.0,252.87 L351.5,250.76 L352.0,248.72 L352.5,246.64 L353.0,244.56 L353.5,242.50 L354.0,240.36 L354.5,238.29 L355.0,236.20 L355.5,234.07 L356.0,231.97 L356.5,229.83 L357.0,227.76 L357.5,225.76 L358.0,223.80 L358.5,221.90 L359.0,219.97 L359.5,218.07 L360.0,216.20 L360.5,214.33 L361.0,212.49 L361.5,210.66 L362.0,208.85 L362.5,207.03 L363.0,205.24 L363.5,203.45 L364.0,201.69 L364.5,199.97 L365.0,198.22 L365.5,196.50 L366.0,194.76 L366.5,193.04 L367.0,191.34 L367.5,189.59 L368.0,187.87 L368.5,186.08 L369.0,184.31 L369.5,182.57 L370.0,180.79 L370.5,179.03 L371.0,177.25 L371.5,175.46 L372.0,173.65 L372.5,171.79 L373.0,169.85 L373.5,167.84 L374.0,165.83 L374.5,163.79 L375.0,161.77 L375.5,159.78 L376.0,157.81 L376.5,155.93 L377.0,154.11 L377.5,152.40 L378.0,150.76 L378.5,149.16 L379.0,147.65 L379.5,146.22 L380.0,144.83 L380.5,143.52 L381.0,142.31 L381.5,141.12 L382.0,139.96 L382.5,138.84 L383.0,137.70 L383.5,136.63 L384.0,135.64 L384.5,134.66 L385.0,133.66 L385.5,132.65 L386.0,131.69 L386.5,130.94 L387.0,130.42 L387.5,130.01 L388.0,129.72 L388.5,129.48 L389.0,129.36 L389.5,129.33 L390.0,129.35 L390.5,129.51 L391.0,129.78 L391.5,130.17 L392.0,130.62 L392.5,131.21 L393.0,131.94 L393.5,132.77 L394.0,133.72 L394.5,134.70 L395.0,135.72 L395.5,136.76 L396.0,137.80 L396.5,138.94 L397.0,140.14 L397.5,141.43 L398.0,142.77 L398.5,144.12 L399.0,145.53 L399.5,147.00 L400.0,148.56 L400.5,150.32 L401.0,152.17 L401.5,154.18 L402.0,156.34 L402.5,158.58 L403.0,160.95 L403.5,163.39 L404.0,165.78 L404.5,168.17 L405.0,170.44 L405.5,172.57 L406.0,174.64 L406.5,176.73 L407.0,178.87 L407.5,181.06 L408.0,183.29 L408.5,185.52 L409.0,187.77 L409.5,190.01 L410.0,192.22 L410.5,194.42 L411.0,196.56 L411.5,198.62 L412.0,200.66 L412.5,202.68 L413.0,204.61 L413.5,206.50 L414.0,208.34 L414.5,210.13 L415.0,211.95 L415.5,213.77 L416.0,215.57 L416.5,217.36 L417.0,219.17 L417.5,221.00 L418.0,222.88 L418.5,224.81 L419.0,226.74 L419.5,228.71 L420.0,230.70 L420.5,232.70 L421.0,234.74 L421.5,236.77 L422.0,238.81 L422.5,240.86 L423.0,242.87 L423.5,244.87 L424.0,246.85 L424.5,248.82 L425.0,250.83 L425.5,252.83 L426.0,254.88 L426.5,256.94 L427.0,258.99 L427.5,261.05 L428.0,263.09 L428.5,265.18 L429.0,267.27 L429.5,269.38 L430.0,271.48 L430.5,273.56 L431.0,275.63 L431.5,277.69 L432.0,279.80 L432.5,281.98 L433.0,284.16 L433.5,286.34 L434.0,288.50 L434.5,290.61 L435.0,292.77 L435.5,294.95 L436.0,297.13 L436.5,299.29 L437.0,301.42 L437.5,303.52 L438.0,305.57 L438.5,307.61 L439.0,309.58 L439.5,311.52 L440.0,313.47 L440.5,315.40 L441.0,317.32 L441.5,319.25 L442.0,321.15 L442.5,323.02 L443.0,324.89 L443.5,326.71 L444.0,328.55 L444.5,330.41 L445.0,332.29 L445.5,334.18 L446.0,335.97 L446.5,337.74 L447.0,339.45 L447.5,341.13 L448.0,342.88 L448.5,344.66 L449.0,346.47 L449.5,348.33 L450.0,350.22 L450.5,352.08 L451.0,353.98 L451.5,355.88 L452.0,357.76 L452.5,359.66 L453.0,361.62 L453.5,363.60 L454.0,365.63 L454.5,367.73 L455.0,369.78 L455.5,371.86 L456.0,373.97 L456.5,376.04 L457.0,378.18 L457.5,380.33 L458.0,382.48 L458.5,384.69 L459.0,386.93 L459.5,389.23 L460.0,391.56 L460.5,393.89 L461.0,396.21 L461.5,398.51 L462.0,400.80 L462.5,403.13 L463.0,405.48 L463.5,407.94 L464.0,410.50 L464.5,413.09 L465.0,415.72 L465.5,418.31 L466.0,420.85 L466.5,423.29 L467.0,425.54 L467.5,427.71 L468.0,429.88 L468.5,432.03 L469.0,434.18 L469.5,436.30 L470.0,438.36 L470.5,440.38 L471.0,442.39 L471.5,444.35 L472.0,446.30 L472.5,448.21 L473.0,450.04 L473.5,451.84 L474.0,453.60 L474.5,455.33 L475.0,457.08 L475.5,458.78 L476.0,460.43 L476.5,462.08 L477.0,463.67 L477.5,465.27 L478.0,466.85 L478.5,468.38 L479.0,469.87 L479.5,471.35 L480.0,472.84 L480.5,474.29 L481.0,475.80 L481.5,477.28 L482.0,478.74 L482.5,480.18 L483.0,481.52 L483.5,482.80 L484.0,484.03 L484.5,485.30 L485.0,486.55 L485.5,487.81 L486.0,489.07 L486.5,490.25 L487.0,491.50 L487.5,492.70 L488.0,493.88 L488.5,495.08 L489.0,496.17 L489.5,497.25 L490.0,498.31 L490.5,499.35 L491.0,500.47 L491.5,501.60 L492.0,502.74 L492.5,503.81 L493.0,504.81 L493.5,505.75 L494.0,506.66 L494.5,507.64 L495.0,508.65 L495.5,509.68 L496.0,510.68 L496.5,511.59 L497.0,512.43 L497.5,513.22 L498.0,514.01 L498.5,514.81 L499.0,515.63 L499.5,516.47 L500.0,517.28 L500.5,518.10 L501.0,518.91 L501.5,519.72 L502.0,520.52 L502.5,521.30 L503.0,522.06 L503.5,522.81 L504.0,523.60 L504.5,524.30 L505.0,524.99 L505.5,525.63 L506.0,526.20 L506.5,526.83 L507.0,527.47 L507.5,528.10 L508.0,528.73 L508.5,529.31 L509.0,529.88 L509.5,530.41 L510.0,530.90 L510.5,531.44 L511.0,531.95 L511.5,532.52 L512.0,533.17 L512.5,533.76 L513.0,534.37 L513.5,534.94 L514.0,535.43 L514.5,535.91 L515.0,536.34 L515.5,536.76 L516.0,537.19 L516.5,537.63 L517.0,538.14 L517.5,538.62 L518.0,539.09 L518.5,539.54 L519.0,539.92 L519.5,540.32 L520.0,540.73 L520.5,541.15 L521.0,541.57 L521.5,542.01 L522.0,542.44 L522.5,542.83 L523.0,543.20 L523.5,543.53 L524.0,543.85 L524.5,544.19 L525.0,544.57 L525.5,544.93 L526.0,545.29 L526.5,545.60 L527.0,545.89 L527.5,546.21 L528.0,546.57 L528.5,546.99 L529.0,547.42 L529.5,547.85 L530.0,548.23 L530.5,548.54 L531.0,548.85 L531.5,549.13 L532.0,549.45 L532.5,549.80 L533.0,550.11 L533.5,550.45 L534.0,550.76 L534.5,551.05 L535.0,551.43 L535.5,551.78 L536.0,552.11 L536.5,552.45 L537.0,552.66 L537.5,552.86 L538.0,553.06 L538.5,553.22 L539.0,553.46 L539.5,553.71 L540.0,554.00 L540.5,554.36 L541.0,554.66 L541.5,554.98 L542.0,555.28 L542.5,555.52 L543.0,555.80 L543.5,556.06 L544.0,556.31 L544.5,556.56 L545.0,556.79 L545.5,557.01 L546.0,557.28 L546.5,557.60 L547.0,557.95 L547.5,558.30 L548.0,558.60 L548.5,558.86 L549.0,559.09 L549.5,559.31 L550.0,559.53 L550.5,559.74 L551.0,559.97 L551.5,560.19 L552.0,560.42 L552.5,560.65 L553.0,560.84 L553.5,561.09 L554.0,561.33 L554.5,561.55 L555.0,561.77 L555.5,561.93 L556.0,562.07 L556.5,562.28 L557.0,562.47 L557.5,562.64 L558.0,562.86 L558.5,563.06 L559.0,563.26 L559.5,563.52 L560.0,563.72 L560.5,563.89 L561.0,564.07 L561.5,564.22 L562.0,564.43 L562.5,564.66 L563.0,564.86 L563.5,565.08 L564.0,565.26 L564.5,565.41 L565.0,565.63 L565.5,565.75 L566.0,565.90 L566.5,566.03 L567.0,566.11 L567.5,566.28 L568.0,566.47 L568.5,566.71 L569.0,566.97 L569.5,567.17 L570.0,567.34 L570.5,567.48 L571.0,567.64 L571.5,567.78 L572.0,567.95 L572.5,568.07 L573.0,568.18 L573.5,568.31 L574.0,568.41 L574.5,568.55 L575.0,568.67 L575.5,568.83 L576.0,569.02 L576.5,569.21 L577.0,569.39 L577.5,569.53 L578.0,569.62 L578.5,569.65 L579.0,569.64 L579.5,569.64 L580.0,569.70 L580.5,569.82 L581.0,570.02 L581.5,570.21 L582.0,570.37 L582.5,570.48 L583.0,570.52 L583.5,570.58 L584.0,570.68 L584.5,570.80 L585.0,570.98 L585.5,571.12 L586.0,571.24 L586.5,571.36 L587.0,571.47 L587.5,571.60 L588.0,571.67 L588.5,571.72 L589.0,571.76 L589.5,571.76 L590.0,571.86 L590.5,571.98 L591.0,572.11 L591.5,572.25 L592.0,572.32 L592.5,572.36 L593.0,572.38 L593.5,572.41 L594.0,572.42 L594.5,572.41 L595.0,572.44 L595.5,572.47 L596.0,572.57 L596.5,572.69 L597.0,572.77 L597.5,572.80 L598.0,572.82 L598.5,572.81 L599.0,572.82 L599.5,572.87 L600.0,572.90 L600.5,572.93 L601.0,572.98 L601.5,573.00 L602.0,573.02 L602.5,573.04 L603.0,573.05 L603.5,573.07 L604.0,573.09 L604.5,573.05 L605.0,573.01 L605.5,572.95 L606.0,572.87 L606.5,572.81 L607.0,572.73 L607.5,572.65 L608.0,572.52 L608.5,572.34 L609.0,572.11 L609.5,571.79 L610.0,571.49 L610.5,571.18 L611.0,570.88 L611.5,570.61 L612.0,570.30 L612.5,569.99 L613.0,569.64 L613.5,569.26 L614.0,568.88 L614.5,568.45 L615.0,568.01 L615.5,567.50 L616.0,566.96 L616.5,566.44 L617.0,565.91 L617.5,565.41 L618.0,564.88 L618.5,564.32 L619.0,563.71 L619.5,563.07 L620.0,562.48 L620.5,561.87 L621.0,561.26 L621.5,560.66 L622.0,559.98 L622.5,559.30 L623.0,558.62 L623.5,557.97 L624.0,557.40 L624.5,556.89 L625.0,556.44 L625.5,555.99 L626.0,555.53 L626.5,555.04 L627.0,554.54 L627.5,554.04 L628.0,553.55 L628.5,553.10 L629.0,552.65 L629.5,552.22 L630.0,551.80 L630.5,551.37 L631.0,550.97 L631.5,550.58 L632.0,550.18 L632.5,549.82 L633.0,549.45 L633.5,549.07 L634.0,548.69 L634.5,548.32 L635.0,547.99 L635.5,547.66 L636.0,547.37 L636.5,547.04 L637.0,546.66 L637.5,546.31 L638.0,545.90 L638.5,545.50 L639.0,545.14 L639.5,544.77 L640.0,544.45 L640.5,544.12 L641.0,543.83 L641.5,543.56 L642.0,543.34 L642.5,543.19 L643.0,543.06 L643.5,542.98 L644.0,542.92 L644.5,542.85 L645.0,542.80 L645.5,542.78 L646.0,542.71 L646.5,542.67 L647.0,542.68 L647.5,542.69 L648.0,542.82 L648.5,542.98 L649.0,543.12 L649.5,543.29 L650.0,543.40 L650.5,543.50 L651.0,543.65 L651.5,543.87 L652.0,544.13 L652.5,544.48 L653.0,544.87 L653.5,545.24 L654.0,545.65 L654.5,546.02 L655.0,546.40 L655.5,546.87 L656.0,547.37 L656.5,547.85 L657.0,548.37 L657.5,548.84 L658.0,549.32 L658.5,549.88 L659.0,550.48 L659.5,551.16 L660.0,551.85 L660.5,552.51 L661.0,553.13 L661.5,553.76 L662.0,554.40 L662.5,555.08 L663.0,555.85 L663.5,556.67 L664.0,557.56 L664.5,558.45 L665.0,559.32 L665.5,560.18 L666.0,561.02 L666.5,561.88 L667.0,562.75 L667.5,563.59 L668.0,564.43 L668.5,565.23 L669.0,566.02 L669.5,566.79 L670.0,567.53 L670.5,568.27 L671.0,569.00 L671.5,569.78 L672.0,570.53 L672.5,571.29 L673.0,572.00 L673.5,572.65 L674.0,573.32 L674.5,574.00 L675.0,574.69 L675.5,575.39 L676.0,576.03 L676.5,576.56 L677.0,577.09 L677.5,577.56 L678.0,578.03 L678.5,578.52 L679.0,578.95 L679.5,579.37 L680.0,579.78 L680.5,580.16 L681.0,580.53 L681.5,580.87 L682.0,581.16 L682.5,581.45 L683.0,581.76 L683.5,582.12 L684.0,582.52 L684.5,582.89 L685.0,583.20 L685.5,583.40 L686.0,583.55 L686.5,583.73 L687.0,583.92 L687.5,584.19 L688.0,584.44 L688.5,584.62 L689.0,584.74 L689.5,584.81 L690.0,584.90 L690.5,585.07 L691.0,585.29 L691.5,585.53 L692.0,585.75 L692.5,585.91 L693.0,586.05 L693.5,586.17 L694.0,586.31 L694.5,586.43 L695.0,586.55 L695.5,586.68 L696.0,586.77 L696.5,586.84 L697.0,586.85 L697.5,586.88 L698.0,586.91 L698.5,587.01 L699.0,587.18 L699.5,587.35 L700.0,587.56 L700.5,587.73 L701.0,587.84 L701.5,587.95 L702.0,588.02 L702.5,588.11 L703.0,588.24 L703.5,588.44 L704.0,588.66 L704.5,588.91 L705.0,589.18 L705.5,589.42 L706.0,589.73 L706.5,590.01 L707.0,590.30 L707.5,590.56 L708.0,590.79 L708.5,591.02 L709.0,591.26 L709.5,591.52 L710.0,591.79 L710.5,592.06 L711.0,592.32 L711.5,592.60 L712.0,592.84 L712.5,593.08 L713.0,593.29 L713.5,593.47 L714.0,593.66 L714.5,593.82 L715.0,593.96 L715.5,594.11 L716.0,594.21 L716.5,594.30 L717.0,594.38 L717.5,594.39 L718.0,594.44 L718.5,594.45 L719.0,594.49 L719.5,594.59 L720.0,594.66 L720.5,594.76 L721.0,594.78 L721.5,594.79 L722.0,594.80 L722.5,594.82 L723.0,594.93 L723.5,595.03 L724.0,595.13 L724.5,595.19 L725.0,595.18 L725.5,595.19 L726.0,595.23 L726.5,595.27 L727.0,595.32 L727.5,595.34 L728.0,595.37 L728.5,595.42 L729.0,595.47 L729.5,595.56 L730.0,595.57 L730.5,595.57 L731.0,595.59 L731.5,595.59 L732.0,595.64 L732.5,595.72 L733.0,595.79 L733.5,595.86 L734.0,595.91 L734.5,595.94 L735.0,595.94 L735.5,595.97 L736.0,596.01 L736.5,596.06 L737.0,596.13 L737.5,596.18 L738.0,596.21 L738.5,596.25 L739.0,596.27 L739.5,596.33 L740.0,596.41 L740.5,596.49 L741.0,596.62 L741.5,596.70 L742.0,596.78 L742.5,596.88 L743.0,596.93 L743.5,597.01 L744.0,597.07 L744.5,597.15 L745.0,597.26 L745.5,597.38 L746.0,597.52 L746.5,597.63 L747.0,597.77 L747.5,597.90 L748.0,598.02 L748.5,598.15 L749.0,598.19 L749.5,598.25 L750.0,598.27 L750.5,598.29 L751.0,598.36 L751.5,598.38 L752.0,598.47 L752.5,598.54 L753.0,598.62 L753.5,598.72 L754.0,598.75 L754.5,598.76 L755.0,598.75 L755.5,598.78 L756.0,598.81 L756.5,598.87 L757.0,598.93 L757.5,598.94 L758.0,599.00 L758.5,599.04 L759.0,599.08 L759.5,599.10 L760.0,599.08 L760.5,599.10 L761.0,599.12 L761.5,599.18 L762.0,599.24 L762.5,599.31 L763.0,599.41 L763.5,599.50 L764.0,599.60 L764.5,599.61 L765.0,599.56 L765.5,599.49 L766.0,599.47 L766.5,599.56 L767.0,599.68 L767.5,599.83 L768.0,599.93 L768.5,599.95 L769.0,599.99 L769.5,600.00 L770.0,600.00 L770.5,600.00 L771.0,599.96 L771.5,599.93 L772.0,599.92 L772.5,599.93 L773.0,599.96 L773.5,599.93 L774.0,599.95 L774.5,600.00 L775.0,600.03 L775.5,600.19 L776.0,600.25 L776.5,600.29 L777.0,600.35 L777.5,600.31 L778.0,600.33 L778.5,600.39 L779.0,600.40 L779.5,600.47 L780.0,600.52 L780.5,600.55 L781.0,600.57 L781.5,600.56 L782.0,600.56 L782.5,600.58 L783.0,600.64 L783.5,600.70 L784.0,600.72 L784.5,600.77 L785.0,600.78 L785.5,600.82 L786.0,600.86 L786.5,600.83 L787.0,600.80 L787.5,600.75 L788.0,600.72 L788.5,600.72 L789.0,600.73 L789.5,600.75 L790.0,600.77 L790.5,600.81 L791.0,600.85 L791.5,600.87 L792.0,600.84 L792.5,600.89 L793.0,600.94 L793.5,601.04 L794.0,601.16 L794.5,601.14 L795.0,601.08 L795.5,601.02 L796.0,600.95 L796.5,601.00 L797.0,601.07 L797.5,601.14 L798.0,601.24 L798.5,601.24 L799.0,601.28 L799.5,601.28 L800.0,601.25 L800.5,601.31 L801.0,601.33 L801.5,601.41 L802.0,601.48 L802.5,601.48 L803.0,601.51 L803.5,601.51 L804.0,601.53 L804.5,601.57 L805.0,601.59 L805.5,601.59 L806.0,601.59 L806.5,601.57 L807.0,601.55 L807.5,601.59 L808.0,601.63 L808.5,601.72 L809.0,601.78 L809.5,601.79 L810.0,601.77 L810.5,601.71 L811.0,601.69 L811.5,601.69 L812.0,601.70 L812.5,601.73 L813.0,601.74 L813.5,601.75 L814.0,601.78 L814.5,601.82 L815.0,601.89 L815.5,601.91 L816.0,601.91 L816.5,601.86 L817.0,601.81 L817.5,601.85 L818.0,601.88 L818.5,601.97 L819.0,602.02 L819.5,601.97 L820.0,601.91 L820.5,601.81 L821.0,601.75 L821.5,601.77 L822.0,601.81 L822.5,601.87 L823.0,601.97 L823.5,602.05 L824.0,602.11 L824.5,602.15 L825.0,602.13 L825.5,602.07 L826.0,602.05 L826.5,602.04 L827.0,602.04 L827.5,602.07 L828.0,602.10 L828.5,602.13 L829.0,602.18 L829.5,602.26 L830.0,602.27 L830.5,602.27 L831.0,602.25 L831.5,602.15 L832.0,602.09 L832.5,602.02 L833.0,601.94 L833.5,601.92 L834.0,601.88 L834.5,601.90 L835.0,601.91 L835.5,601.91 L836.0,601.95 L836.5,601.92 L837.0,601.91 L837.5,601.92 L838.0,601.94 L838.5,602.00 L839.0,602.08 L839.5,602.11 L840.0,602.10 L840.5,602.04 L841.0,601.97 L841.5,601.90 L842.0,601.85 L842.5,601.81 L843.0,601.76 L843.5,601.72 L844.0,601.68 L844.5,601.68 L845.0,601.70 L845.5,601.69 L846.0,601.67 L846.5,601.62 L847.0,601.56 L847.5,601.53 L848.0,601.54 L848.5,601.56 L849.0,601.56 L849.5,601.56 L850.0,601.51 L850.5,601.47 L851.0,601.53 L851.5,601.58 L852.0,601.67 L852.5,601.76 L853.0,601.76 L853.5,601.73 L854.0,601.68 L854.5,601.58 L855.0,601.51 L855.5,601.46 L856.0,601.45 L856.5,601.47 L857.0,601.52 L857.5,601.53 L858.0,601.51 L858.5,601.49 L859.0,601.45 L859.5,601.43 L860.0,601.40 L860.5,601.37 L861.0,601.33 L861.5,601.28 L862.0,601.24 L862.5,601.22 L863.0,601.20 L863.5,601.17 L864.0,601.14 L864.5,601.02 L865.0,600.91 L865.5,600.86 L866.0,600.83 L866.5,600.90 L867.0,600.96 L867.5,600.96 L868.0,600.99 L868.5,600.99 L869.0,601.05 L869.5,601.12 L870.0,601.17 L870.5,601.20 L871.0,601.15 L871.5,601.05 L872.0,600.91 L872.5,600.81 L873.0,600.76 L873.5,600.77 L874.0,600.84 L874.5,600.88 L875.0,600.90 L875.5,600.92 L876.0,600.92 L876.5,600.88 L877.0,600.82 L877.5,600.75 L878.0,600.66 L878.5,600.59 L879.0,600.58 L879.5,600.55 L880.0,600.57 L880.5,600.59 L881.0,600.58 L881.5,600.58 L882.0,600.54 L882.5,600.52 L883.0,600.49 L883.5,600.48 L884.0,600.47 L884.5,600.41 L885.0,600.36 L885.5,600.30 L886.0,600.25 L886.5,600.24 L887.0,600.23 L887.5,600.19 L888.0,600.17 L888.5,600.14 L889.0,600.10 L889.5,600.09 L890.0,600.08 L890.5,600.05 L891.0,600.08 L891.5,600.07 L892.0,600.07 L892.5,600.08 L893.0,600.05 L893.5,600.02 L894.0,599.94 L894.5,599.89 L895.0,599.80 L895.5,599.71 L896.0,599.69 L896.5,599.60 L897.0,599.56 L897.5,599.54 L898.0,599.49 L898.5,599.53 L899.0,599.55 L899.5,599.56 L900.0,599.55 L900.5,599.47 L901.0,599.42 L901.5,599.37 L902.0,599.33 L902.5,599.33 L903.0,599.29 L903.5,599.27 L904.0,599.28 L904.5,599.25 L905.0,599.24 L905.5,599.20 L906.0,599.07 L906.5,599.00 L907.0,598.95 L907.5,598.92 L908.0,598.94 L908.5,598.94 L909.0,598.91 L909.5,598.92 L910.0,598.91 L910.5,598.87 L911.0,598.85 L911.5,598.72 L912.0,598.62 L912.5,598.58 L913.0,598.51 L913.5,598.54 L914.0,598.53 L914.5,598.51 L915.0,598.49 L915.5,598.42 L916.0,598.32 L916.5,598.17 L917.0,598.02 L917.5,597.91 L918.0,597.87 L918.5,597.85 L919.0,597.86 L919.5,597.88 L920.0,597.85 L920.5,597.83 L921.0,597.82 L921.5,597.77 L922.0,597.71 L922.5,597.67 L923.0,597.59 L923.5,597.55 L924.0,597.53 L924.5,597.44 L925.0,597.34 L925.5,597.25 L926.0,597.15 L926.5,597.11 L927.0,597.10 L927.5,597.07 L928.0,597.01 L928.5,596.95 L929.0,596.86 L929.5,596.82 L930.0,596.84 L930.5,596.80 L931.0,596.80 L931.5,596.73 L932.0,596.62 L932.5,596.59 L933.0,596.56 L933.5,596.58 L934.0,596.61 L934.5,596.58 L935.0,596.52 L935.5,596.40 L936.0,596.26 L936.5,596.14 L937.0,596.03 L937.5,595.98 L938.0,595.97 L938.5,595.96 L939.0,595.95 L939.5,595.93 L940.0,595.87 L940.5,595.78 L941.0,595.72 L941.5,595.67 L942.0,595.64 L942.5,595.61 L943.0,595.53 L943.5,595.42 L944.0,595.32 L944.5,595.25 L945.0,595.23 L945.5,595.20 L946.0,595.16 L946.5,595.09 L947.0,594.98 L947.5,594.88 L948.0,594.78 L948.5,594.72 L949.0,594.67 L949.5,594.65 L950.0,594.60 L950.5,594.55 L951.0,594.50 L951.5,594.41 L952.0,594.30 L952.5,594.18 L953.0,594.05 L953.5,593.98 L954.0,593.93 L954.5,593.88 L955.0,593.87 L955.5,593.82 L956.0,593.78 L956.5,593.76 L957.0,593.69 L957.5,593.63 L958.0,593.52 L958.5,593.40 L959.0,593.33 L959.5,593.29 L960.0,593.30 L960.5,593.28 L961.0,593.23 L961.5,593.18 L962.0,593.06 L962.5,592.98 L963.0,592.92 L963.5,592.86 L964.0,592.84 L964.5,592.77 L965.0,592.67 L965.5,592.54 L966.0,592.39 L966.5,592.27 L967.0,592.18 L967.5,592.11 L968.0,592.09 L968.5,592.05 L969.0,591.98 L969.5,591.92 L970.0,591.87 L970.5,591.81 L971.0,591.76 L971.5,591.71 L972.0,591.61 L972.5,591.53 L973.0,591.42 L973.5,591.29 L974.0,591.20 L974.5,591.12 L975.0,591.06 L975.5,591.04 L976.0,591.00 L976.5,590.94 L977.0,590.88 L977.5,590.80 L978.0,590.73 L978.5,590.64 L979.0,590.53 L979.5,590.39 L980.0,590.21 L980.5,590.05 L981.0,589.88 L981.5,589.77 L982.0,589.74 L982.5,589.72 L983.0,589.73 L983.5,589.70 L984.0,589.61 L984.5,589.53 L985.0,589.42 L985.5,589.33 L986.0,589.24 L986.5,589.14 L987.0,589.04 L987.5,588.94 L988.0,588.88 L988.5,588.83 L989.0,588.78 L989.5,588.73 L990.0,588.61 L990.5,588.49 L991.0,588.36 L991.5,588.25 L992.0,588.21 L992.5,588.15 L993.0,588.11 L993.5,588.04 L994.0,587.93 L994.5,587.84 L995.0,587.75 L995.5,587.65 L996.0,587.54 L996.5,587.39 L997.0,587.25 L997.5,587.16 L998.0,587.07 L998.5,587.01 L999.0,586.96 L999.5,586.86 L1000.0,586.78 L1000.5,586.68 L1001.0,586.54 L1001.5,586.38 L1002.0,586.24 L1002.5,586.15 L1003.0,586.07 L1003.5,586.03 L1004.0,585.94 L1004.5,585.76 L1005.0,585.64 L1005.5,585.52 L1006.0,585.43 L1006.5,585.45 L1007.0,585.41 L1007.5,585.32 L1008.0,585.25 L1008.5,585.14 L1009.0,585.03 L1009.5,584.95 L1010.0,584.88 L1010.5,584.81 L1011.0,584.75 L1011.5,584.69 L1012.0,584.58 L1012.5,584.50 L1013.0,584.41 L1013.5,584.31 L1014.0,584.28 L1014.5,584.20 L1015.0,584.17 L1015.5,584.18 L1016.0,584.12 L1016.5,584.07 L1017.0,583.98 L1017.5,583.83 L1018.0,583.72 L1018.5,583.64 L1019.0,583.55 L1019.5,583.49 L1020.0,583.44 L1020.5,583.32 L1021.0,583.24 L1021.5,583.16 L1022.0,583.09 L1022.5,583.06 L1023.0,583.02 L1023.5,583.01 L1024.0,582.96 L1024.5,582.93 L1025.0,582.88 L1025.5,582.78 L1026.0,582.73 L1026.5,582.60 L1027.0,582.45 L1027.5,582.35 L1028.0,582.20 L1028.5,582.08 L1029.0,582.07 L1029.5,581.99 L1030.0,582.01 L1030.5,582.08 L1031.0,582.09 L1031.5,582.13 L1032.0,582.09 L1032.5,581.92 L1033.0,581.74 L1033.5,581.56 L1034.0,581.37 L1034.5,581.29 L1035.0,581.18 L1035.5,581.10 L1036.0,581.08 L1036.5,581.00 L1037.0,580.99 L1037.5,580.97 L1038.0,580.90 L1038.5,580.87 L1039.0,580.77 L1039.5,580.64 L1040.0,580.56 L1040.5,580.48 L1041.0,580.45 L1041.5,580.39 L1042.0,580.25 L1042.5,580.14 L1043.0,580.01 L1043.5,579.92 L1044.0,579.94 L1044.5,579.92 L1045.0,579.89 L1045.5,579.91 L1046.0,579.81 L1046.5,579.73 L1047.0,579.68 L1047.5,579.52 L1048.0,579.44 L1048.5,579.39 L1049.0,579.30 L1049.5,579.29 L1050.0,579.25 L1050.5,579.09 L1051.0,578.93 L1051.5,578.75 L1052.0,578.61 L1052.5,578.60 L1053.0,578.60 L1053.5,578.56 L1054.0,578.48 L1054.5,578.33 L1055.0,578.24 L1055.5,578.21 L1056.0,578.19 L1056.5,578.16 L1057.0,578.03 L1057.5,577.88 L1058.0,577.69 L1058.5,577.47 L1059.0,577.27 L1059.5,577.09 L1060.0,577.03 L1060.5,577.06 L1061.0,577.18 L1061.5,577.23 L1062.0,577.26 L1062.5,577.25 L1063.0,577.11 L1063.5,577.09 L1064.0,576.96 L1064.5,576.78 L1065.0,576.67 L1065.5,576.44 L1066.0,576.34 L1066.5,576.24 L1067.0,576.13 L1067.5,576.04 L1068.0,575.99 L1068.5,576.08 L1069.0,576.19 L1069.5,576.28 L1070.0,576.22 L1070.5,575.97 L1071.0,575.71 L1071.5,575.53 L1072.0,575.39 L1072.5,575.38 L1073.0,575.34 L1073.5,575.24 L1074.0,575.21 L1074.5,575.15 L1075.0,575.11 L1075.5,575.09 L1076.0,574.97 L1076.5,574.84 L1077.0,574.74 L1077.5,574.72 L1078.0,574.76 L1078.5,574.74 L1079.0,574.72 L1079.5,574.62 L1080.0,574.52 L1080.5,574.56 L1081.0,574.44 L1081.5,574.28 L1082.0,574.06 L1082.5,573.76 L1083.0,573.58 L1083.5,573.46 L1084.0,573.45 L1084.5,573.42 L1085.0,573.41 L1085.5,573.48 L1086.0,573.38 L1086.5,573.29 L1087.0,573.18 L1087.5,572.95 L1088.0,572.85 L1088.5,572.71 L1089.0,572.58 L1089.5,572.44 L1090.0,572.28 L1090.5,572.19 L1091.0,572.11 L1091.5,572.12 L1092.0,572.06 L1092.5,572.01 L1093.0,571.95 L1093.5,571.79 L1094.0,571.71 L1094.5,571.61 L1095.0,571.40 L1095.5,571.30 L1096.0,571.18 L1096.5,571.00 L1097.0,570.95 L1097.5,570.94 L1098.0,570.87 L1098.5,570.84 L1099.0,570.72 L1099.5,570.40 L1100.0,570.13 L1100.5,569.96 L1101.0,569.97 L1101.5,570.09 L1102.0,570.34 L1102.5,570.45 L1103.0,570.39 L1103.5,570.40 L1104.0,570.24 L1104.5,570.06 L1105.0,569.86 L1105.5,569.53 L1106.0,569.23 L1106.5,569.01 L1107.0,568.89 L1107.5,568.90 L1108.0,568.90 L1108.5,568.92 L1109.0,568.91 L1109.5,568.80 L1110.0,568.73 L1110.5,568.57 L1111.0,568.39 L1111.5,568.17 L1112.0,567.99 L1112.5,567.85 L1113.0,567.78 L1113.5,567.87 L1114.0,567.87 L1114.5,567.86 L1115.0,567.64 L1115.5,567.29 L1116.0,567.07 L1116.5,566.96 L1117.0,567.11 L1117.5,567.38 L1118.0,567.52 L1118.5,567.54 L1119.0,567.33 L1119.5,567.00 L1120.0,566.73 L1120.5,566.53 L1121.0,566.51 L1121.5,566.57 L1122.0,566.54 L1122.5,566.40 L1123.0,566.13 L1123.5,565.78 L1124.0,565.50 L1124.5,565.31 L1125.0,565.19 L1125.5,565.29 L1126.0,565.39 L1126.5,565.48 L1127.0,565.57 L1127.5,565.37 L1128.0,565.17 L1128.5,565.02 L1129.0,564.80 L1129.5,564.81 L1130.0,564.82 L1130.5,564.76 L1131.0,564.69 L1131.5,564.60 L1132.0,564.43 L1132.5,564.38 L1133.0,564.38 L1133.5,564.23 L1134.0,564.12 L1134.5,563.88 L1135.0,563.65 L1135.5,563.44 L1136.0,563.36 L1136.5,563.31 L1137.0,563.16 L1137.5,563.07 L1138.0,562.78 L1138.5,562.43 L1139.0,562.22 L1139.5,561.98 L1140.0,561.90 L1140.5,561.90 L1141.0,561.78 L1141.5,561.67 L1142.0,561.56 L1142.5,561.40 L1143.0,561.41 L1143.5,561.47 L1144.0,561.43 L1144.5,561.50 L1145.0,561.38 L1145.5,561.18 L1146.0,561.02 L1146.5,560.78 L1147.0,560.71 L1147.5,560.67 L1148.0,560.75 L1148.5,560.71 L1149.0,560.46 L1149.5,560.21 L1150.0,559.87 L1150.5,559.74 L1151.0,559.78 L1151.5,559.80 L1152.0,559.71 L1152.5,559.61 L1153.0,559.39 L1153.5,559.18 L1154.0,559.05 L1154.5,558.88 L1155.0,558.82 L1155.5,558.94 L1156.0,558.97 L1156.5,558.93 L1157.0,558.81 L1157.5,558.48 L1158.0,558.34 L1158.5,558.25 L1159.0,558.13 L1159.5,558.16 L1160.0,558.01 L1160.5,558.04 L1161.0,558.11 L1161.5,558.08 L1162.0,558.12 L1162.5,557.84 L1163.0,557.54 L1163.5,557.17 L1164.0,556.76 L1164.5,556.51 L1165.0,556.28 L1165.5,556.08 L1166.0,555.89 L1166.5,555.66 L1167.0,555.42 L1167.5,555.40 L1168.0,555.47 L1168.5,555.61 L1169.0,555.74 L1169.5,555.64 L1170.0,555.56 L1170.5,555.44 L1171.0,555.39 L1171.5,555.47 L1172.0,555.46 L1172.5,555.36 L1173.0,555.13 L1173.5,554.74 L1174.0,554.40 L1174.5,554.12 L1175.0,554.03 L1175.5,554.06 L1176.0,554.14 L1176.5,554.27 L1177.0,554.31 L1177.5,554.29 L1178.0,554.21 L1178.5,554.12 L1179.0,554.00 L1179.5,553.88 L1180.0,553.63 L1180.5,553.26 L1181.0,552.97 L1181.5,552.71 L1182.0,552.66 L1182.5,552.80 L1183.0,552.73 L1183.5,552.77 L1184.0,552.64 L1184.5,552.44 L1185.0,552.40 L1185.5,552.00 L1186.0,551.67 L1186.5,551.31 L1187.0,550.90 L1187.5,550.76 L1188.0,550.73 L1188.5,550.72 L1189.0,550.77 L1189.5,550.89 L1190.0,550.90 L1190.5,550.94 L1191.0,550.74 L1191.5,550.41 L1192.0,550.04 L1192.5,549.70 L1193.0,549.80 L1193.5,549.85 L1194.0,549.92 L1194.5,549.92 L1195.0,549.63 L1195.5,549.40 L1196.0,549.17 L1196.5,549.08 L1197.0,549.04 L1197.5,548.94 L1198.0,548.95 L1198.5,548.82 L1199.0,548.64 L1199.5,548.58 L1200.0,548.42 L1200.5,548.21 L1201.0,548.11 L1201.5,548.01 L1202.0,547.92 L1202.5,548.03 L1203.0,548.04 L1203.5,547.91 L1204.0,547.96 L1204.5,547.90 L1205.0,547.93 L1205.5,548.05 L1206.0,547.84 L1206.5,547.54 L1207.0,547.21 L1207.5,546.81 L1208.0,546.69 L1208.5,546.65 L1209.0,546.64 L1209.5,546.85 L1210.0,547.02 L1210.5,547.13 L1211.0,547.16 L1211.5,546.90 L1212.0,546.60 L1212.5,546.38 L1213.0,546.27 L1213.5,546.25 L1214.0,546.19 L1214.5,546.14 L1215.0,545.93 L1215.5,545.66 L1216.0,545.47 L1216.5,545.23 L1217.0,545.04 L1217.5,545.04 L1218.0,544.86 L1218.5,544.57 L1219.0,544.32 L1219.5,543.87 L1220.0,543.57 L1220.5,543.51 L1221.0,543.52 L1221.5,543.72 L1222.0,543.90 L1222.5,543.96 L1223.0,543.86 L1223.5,543.58 L1224.0,543.34 L1224.5,543.14 L1225.0,543.02 L1225.5,543.08 L1226.0,543.02 L1226.5,542.87 L1227.0,542.78 L1227.5,542.66 L1228.0,542.64 L1228.5,542.63 L1229.0,542.51 L1229.5,542.37 L1230.0,542.18 L1230.5,542.20 L1231.0,542.32 L1231.5,542.29 L1232.0,542.34" fill="none" stroke="#12e8ee" stroke-width="2.6" stroke-linejoin="round" stroke-linecap="butt"/>
<path d="M104.0,443.66 L104.5,443.43 L105.0,443.31 L105.5,443.19 L106.0,443.69 L106.5,444.24 L107.0,444.18 L107.5,444.21 L108.0,443.87 L108.5,443.93 L109.0,444.39 L109.5,444.69 L110.0,444.82 L110.5,443.95 L111.0,442.79 L111.5,441.86 L112.0,440.92 L112.5,441.01 L113.0,441.77 L113.5,442.23 L114.0,443.01 L114.5,443.12 L115.0,442.68 L115.5,442.63 L116.0,442.54 L116.5,442.61 L117.0,442.81 L117.5,442.54 L118.0,442.22 L118.5,441.75 L119.0,441.04 L119.5,440.49 L120.0,439.99 L120.5,440.16 L121.0,441.24 L121.5,442.79 L122.0,444.37 L122.5,445.65 L123.0,445.89 L123.5,445.36 L124.0,445.04 L124.5,444.10 L125.0,443.51 L125.5,443.34 L126.0,442.71 L126.5,442.64 L127.0,442.82 L127.5,442.93 L128.0,442.74 L128.5,442.60 L129.0,442.17 L129.5,441.64 L130.0,441.61 L130.5,441.28 L131.0,441.18 L131.5,441.46 L132.0,441.87 L132.5,442.67 L133.0,443.09 L133.5,443.25 L134.0,443.09 L134.5,442.41 L135.0,441.94 L135.5,441.42 L136.0,441.15 L136.5,441.58 L137.0,441.88 L137.5,442.16 L138.0,442.37 L138.5,441.85 L139.0,441.82 L139.5,441.82 L140.0,441.53 L140.5,441.84 L141.0,441.44 L141.5,441.21 L142.0,441.26 L142.5,440.56 L143.0,440.16 L143.5,439.21 L144.0,438.06 L144.5,437.52 L145.0,436.79 L145.5,436.66 L146.0,436.85 L146.5,437.05 L147.0,437.44 L147.5,437.12 L148.0,436.47 L148.5,435.59 L149.0,434.83 L149.5,434.63 L150.0,434.83 L150.5,434.79 L151.0,434.57 L151.5,434.39 L152.0,434.13 L152.5,433.86 L153.0,433.83 L153.5,433.54 L154.0,433.37 L154.5,433.26 L155.0,432.95 L155.5,432.85 L156.0,432.71 L156.5,432.44 L157.0,432.27 L157.5,431.95 L158.0,431.59 L158.5,431.32 L159.0,430.99 L159.5,430.74 L160.0,430.46 L160.5,430.10 L161.0,429.79 L161.5,429.46 L162.0,429.24 L162.5,429.01 L163.0,428.67 L163.5,428.28 L164.0,427.88 L164.5,427.52 L165.0,427.31 L165.5,427.08 L166.0,426.80 L166.5,426.45 L167.0,425.97 L167.5,425.49 L168.0,425.00 L168.5,424.60 L169.0,424.19 L169.5,423.82 L170.0,423.42 L170.5,422.88 L171.0,422.37 L171.5,421.84 L172.0,421.39 L172.5,421.09 L173.0,420.79 L173.5,420.50 L174.0,420.14 L174.5,419.60 L175.0,419.03 L175.5,418.48 L176.0,417.92 L176.5,417.42 L177.0,416.89 L177.5,416.33 L178.0,415.69 L178.5,414.98 L179.0,414.20 L179.5,413.29 L180.0,412.37 L180.5,411.39 L181.0,410.43 L181.5,409.51 L182.0,408.51 L182.5,407.46 L183.0,406.37 L183.5,405.25 L184.0,404.23 L184.5,403.33 L185.0,402.38 L185.5,401.50 L186.0,400.53 L186.5,399.55 L187.0,398.54 L187.5,397.45 L188.0,396.39 L188.5,395.30 L189.0,394.25 L189.5,393.18 L190.0,392.10 L190.5,391.05 L191.0,389.94 L191.5,388.97 L192.0,388.13 L192.5,387.46 L193.0,386.97 L193.5,386.53 L194.0,386.20 L194.5,385.84 L195.0,385.51 L195.5,385.22 L196.0,384.96 L196.5,384.73 L197.0,384.49 L197.5,384.33 L198.0,384.21 L198.5,384.17 L199.0,384.21 L199.5,384.41 L200.0,384.84 L200.5,385.41 L201.0,386.14 L201.5,386.96 L202.0,387.82 L202.5,388.75 L203.0,390.13 L203.5,392.29 L204.0,394.98 L204.5,397.97 L205.0,401.04 L205.5,403.93 L206.0,406.46 L206.5,408.44 L207.0,410.33 L207.5,412.20 L208.0,413.94 L208.5,415.51 L209.0,416.88 L209.5,417.96 L210.0,418.75 L210.5,419.38 L211.0,420.00 L211.5,420.60 L212.0,421.19 L212.5,421.73 L213.0,422.22 L213.5,422.64 L214.0,422.99 L214.5,423.29 L215.0,423.59 L215.5,423.86 L216.0,424.12 L216.5,424.39 L217.0,424.62 L217.5,424.83 L218.0,425.07 L218.5,425.30 L219.0,425.50 L219.5,425.70 L220.0,425.85 L220.5,425.99 L221.0,426.13 L221.5,426.25 L222.0,426.34 L222.5,426.41 L223.0,426.50 L223.5,426.63 L224.0,426.81 L224.5,427.00 L225.0,427.18 L225.5,427.31 L226.0,427.41 L226.5,427.51 L227.0,427.61 L227.5,427.72 L228.0,427.76 L228.5,427.78 L229.0,427.74 L229.5,427.68 L230.0,427.63 L230.5,427.56 L231.0,427.52 L231.5,427.47 L232.0,427.44 L232.5,427.35 L233.0,427.27 L233.5,427.17 L234.0,427.03 L234.5,426.93 L235.0,426.80 L235.5,426.64 L236.0,426.49 L236.5,426.34 L237.0,426.22 L237.5,426.11 L238.0,425.99 L238.5,425.81 L239.0,425.62 L239.5,425.45 L240.0,425.32 L240.5,425.18 L241.0,425.01 L241.5,424.77 L242.0,424.51 L242.5,424.28 L243.0,424.04 L243.5,423.83 L244.0,423.58 L244.5,423.31 L245.0,423.09 L245.5,422.92 L246.0,422.78 L246.5,422.66 L247.0,422.49 L247.5,422.29 L248.0,422.02 L248.5,421.73 L249.0,421.50 L249.5,421.28 L250.0,421.12 L250.5,420.98 L251.0,420.80 L251.5,420.64 L252.0,420.48 L252.5,420.31 L253.0,420.17 L253.5,420.01 L254.0,419.85 L254.5,419.68 L255.0,419.49 L255.5,419.30 L256.0,419.07 L256.5,418.89 L257.0,418.71 L257.5,418.54 L258.0,418.40 L258.5,418.18 L259.0,417.98 L259.5,417.77 L260.0,417.54 L260.5,417.34 L261.0,417.10 L261.5,416.86 L262.0,416.65 L262.5,416.45 L263.0,416.26 L263.5,416.09 L264.0,415.89 L264.5,415.68 L265.0,415.47 L265.5,415.23 L266.0,414.97 L266.5,414.73 L267.0,414.48 L267.5,414.21 L268.0,413.97 L268.5,413.73 L269.0,413.53 L269.5,413.35 L270.0,413.15 L270.5,412.94 L271.0,412.67 L271.5,412.40 L272.0,412.11 L272.5,411.80 L273.0,411.50 L273.5,411.18 L274.0,410.87 L274.5,410.58 L275.0,410.28 L275.5,409.99 L276.0,409.68 L276.5,409.35 L277.0,409.03 L277.5,408.69 L278.0,408.33 L278.5,407.94 L279.0,407.46 L279.5,406.97 L280.0,406.49 L280.5,406.03 L281.0,405.63 L281.5,405.24 L282.0,404.86 L282.5,404.42 L283.0,403.93 L283.5,403.36 L284.0,402.74 L284.5,402.10 L285.0,401.44 L285.5,400.82 L286.0,400.20 L286.5,399.58 L287.0,398.94 L287.5,398.24 L288.0,397.56 L288.5,396.82 L289.0,396.06 L289.5,395.25 L290.0,394.37 L290.5,393.42 L291.0,392.47 L291.5,391.56 L292.0,390.66 L292.5,389.83 L293.0,388.97 L293.5,388.08 L294.0,387.14 L294.5,386.17 L295.0,385.15 L295.5,384.14 L296.0,383.20 L296.5,382.30 L297.0,381.51 L297.5,380.75 L298.0,380.02 L298.5,379.29 L299.0,378.53 L299.5,377.78 L300.0,376.99 L300.5,376.18 L301.0,375.40 L301.5,374.60 L302.0,373.84 L302.5,373.08 L303.0,372.29 L303.5,371.47 L304.0,370.65 L304.5,369.79 L305.0,368.92 L305.5,368.07 L306.0,367.20 L306.5,366.33 L307.0,365.45 L307.5,364.55 L308.0,363.57 L308.5,362.55 L309.0,361.49 L309.5,360.36 L310.0,359.24 L310.5,358.04 L311.0,356.86 L311.5,355.64 L312.0,354.38 L312.5,353.10 L313.0,351.70 L313.5,350.28 L314.0,348.82 L314.5,347.37 L315.0,345.99 L315.5,344.59 L316.0,343.21 L316.5,341.79 L317.0,340.32 L317.5,338.86 L318.0,337.44 L318.5,336.01 L319.0,334.63 L319.5,333.23 L320.0,331.83 L320.5,330.42 L321.0,328.99 L321.5,327.53 L322.0,326.00 L322.5,324.49 L323.0,322.95 L323.5,321.43 L324.0,319.96 L324.5,318.44 L325.0,316.89 L325.5,315.35 L326.0,313.79 L326.5,312.24 L327.0,310.74 L327.5,309.19 L328.0,307.61 L328.5,306.02 L329.0,304.38 L329.5,302.72 L330.0,301.06 L330.5,299.42 L331.0,297.79 L331.5,296.15 L332.0,294.51 L332.5,292.80 L333.0,291.10 L333.5,289.38 L334.0,287.63 L334.5,285.91 L335.0,284.14 L335.5,282.38 L336.0,280.63 L336.5,278.88 L337.0,277.14 L337.5,275.35 L338.0,273.51 L338.5,271.64 L339.0,269.80 L339.5,267.95 L340.0,266.12 L340.5,264.30 L341.0,262.42 L341.5,260.55 L342.0,258.64 L342.5,256.66 L343.0,254.63 L343.5,252.50 L344.0,250.38 L344.5,248.22 L345.0,246.04 L345.5,243.87 L346.0,241.65 L346.5,239.49 L347.0,237.37 L347.5,235.25 L348.0,233.12 L348.5,230.92 L349.0,228.73 L349.5,226.59 L350.0,224.50 L350.5,222.47 L351.0,220.44 L351.5,218.42 L352.0,216.42 L352.5,214.41 L353.0,212.49 L353.5,210.60 L354.0,208.75 L354.5,206.98 L355.0,205.14 L355.5,203.31 L356.0,201.45 L356.5,199.57 L357.0,197.74 L357.5,195.87 L358.0,194.04 L358.5,192.19 L359.0,190.31 L359.5,188.51 L360.0,186.67 L360.5,184.77 L361.0,182.85 L361.5,180.87 L362.0,178.89 L362.5,176.95 L363.0,175.04 L363.5,173.09 L364.0,171.13 L364.5,169.14 L365.0,167.11 L365.5,165.10 L366.0,163.05 L366.5,161.01 L367.0,158.95 L367.5,156.90 L368.0,154.83 L368.5,152.74 L369.0,150.65 L369.5,148.53 L370.0,146.46 L370.5,144.36 L371.0,142.23 L371.5,140.09 L372.0,137.88 L372.5,135.71 L373.0,133.57 L373.5,131.45 L374.0,129.37 L374.5,127.25 L375.0,125.09 L375.5,122.91 L376.0,120.64 L376.5,118.31 L377.0,115.94 L377.5,113.51 L378.0,111.08 L378.5,108.66 L379.0,106.35 L379.5,104.10 L380.0,101.86 L380.5,99.71 L381.0,97.55 L381.5,95.51 L382.0,93.62 L382.5,91.85 L383.0,90.14 L383.5,88.43 L384.0,86.74 L384.5,85.06 L385.0,83.48 L385.5,81.98 L386.0,80.61 L386.5,79.40 L387.0,78.30 L387.5,77.37 L388.0,76.51 L388.5,75.75 L389.0,75.11 L389.5,74.60 L390.0,74.17 L390.5,73.73 L391.0,73.35 L391.5,73.08 L392.0,73.04 L392.5,73.17 L393.0,73.45 L393.5,73.86 L394.0,74.25 L394.5,74.79 L395.0,75.50 L395.5,76.29 L396.0,77.22 L396.5,78.10 L397.0,79.04 L397.5,80.09 L398.0,81.18 L398.5,82.40 L399.0,83.75 L399.5,85.17 L400.0,86.69 L400.5,88.29 L401.0,89.89 L401.5,91.55 L402.0,93.24 L402.5,94.99 L403.0,96.85 L403.5,98.78 L404.0,100.77 L404.5,102.84 L405.0,104.99 L405.5,107.19 L406.0,109.42 L406.5,111.66 L407.0,113.85 L407.5,116.10 L408.0,118.38 L408.5,120.73 L409.0,123.19 L409.5,125.67 L410.0,128.18 L410.5,130.64 L411.0,133.08 L411.5,135.55 L412.0,138.01 L412.5,140.52 L413.0,143.09 L413.5,145.67 L414.0,148.22 L414.5,150.79 L415.0,153.28 L415.5,155.71 L416.0,158.13 L416.5,160.47 L417.0,162.78 L417.5,165.05 L418.0,167.24 L418.5,169.40 L419.0,171.46 L419.5,173.48 L420.0,175.45 L420.5,177.42 L421.0,179.43 L421.5,181.39 L422.0,183.35 L422.5,185.28 L423.0,187.18 L423.5,189.12 L424.0,191.03 L424.5,192.96 L425.0,194.87 L425.5,196.77 L426.0,198.68 L426.5,200.56 L427.0,202.50 L427.5,204.39 L428.0,206.32 L428.5,208.26 L429.0,210.13 L429.5,212.06 L430.0,213.97 L430.5,215.91 L431.0,217.92 L431.5,219.92 L432.0,221.94 L432.5,223.98 L433.0,226.08 L433.5,228.21 L434.0,230.37 L434.5,232.49 L435.0,234.60 L435.5,236.69 L436.0,238.80 L436.5,240.96 L437.0,243.09 L437.5,245.23 L438.0,247.38 L438.5,249.55 L439.0,251.76 L439.5,254.01 L440.0,256.22 L440.5,258.41 L441.0,260.58 L441.5,262.72 L442.0,264.91 L442.5,267.14 L443.0,269.41 L443.5,271.66 L444.0,273.93 L444.5,276.20 L445.0,278.41 L445.5,280.67 L446.0,282.87 L446.5,285.04 L447.0,287.25 L447.5,289.48 L448.0,291.78 L448.5,294.13 L449.0,296.49 L449.5,298.84 L450.0,301.16 L450.5,303.45 L451.0,305.72 L451.5,307.94 L452.0,310.11 L452.5,312.28 L453.0,314.45 L453.5,316.66 L454.0,318.92 L454.5,321.20 L455.0,323.48 L455.5,325.76 L456.0,328.04 L456.5,330.30 L457.0,332.60 L457.5,334.88 L458.0,337.18 L458.5,339.47 L459.0,341.71 L459.5,343.92 L460.0,346.10 L460.5,348.24 L461.0,350.42 L461.5,352.61 L462.0,354.88 L462.5,357.18 L463.0,359.42 L463.5,361.69 L464.0,363.85 L464.5,366.00 L465.0,368.17 L465.5,370.28 L466.0,372.42 L466.5,374.55 L467.0,376.69 L467.5,378.85 L468.0,381.04 L468.5,383.22 L469.0,385.39 L469.5,387.59 L470.0,389.73 L470.5,391.90 L471.0,394.06 L471.5,396.24 L472.0,398.51 L472.5,400.76 L473.0,403.03 L473.5,405.27 L474.0,407.43 L474.5,409.58 L475.0,411.70 L475.5,413.81 L476.0,415.90 L476.5,417.95 L477.0,419.97 L477.5,421.95 L478.0,423.90 L478.5,425.82 L479.0,427.74 L479.5,429.63 L480.0,431.47 L480.5,433.28 L481.0,435.05 L481.5,436.80 L482.0,438.57 L482.5,440.33 L483.0,442.06 L483.5,443.73 L484.0,445.32 L484.5,446.85 L485.0,448.32 L485.5,449.76 L486.0,451.11 L486.5,452.43 L487.0,453.74 L487.5,454.99 L488.0,456.26 L488.5,457.51 L489.0,458.75 L489.5,459.97 L490.0,461.18 L490.5,462.34 L491.0,463.47 L491.5,464.59 L492.0,465.66 L492.5,466.70 L493.0,467.70 L493.5,468.67 L494.0,469.65 L494.5,470.64 L495.0,471.54 L495.5,472.38 L496.0,473.19 L496.5,473.95 L497.0,474.76 L497.5,475.63 L498.0,476.46 L498.5,477.28 L499.0,478.08 L499.5,478.82 L500.0,479.55 L500.5,480.26 L501.0,480.97 L501.5,481.70 L502.0,482.46 L502.5,483.18 L503.0,483.89 L503.5,484.55 L504.0,485.18 L504.5,485.85 L505.0,486.50 L505.5,487.13 L506.0,487.73 L506.5,488.28 L507.0,488.81 L507.5,489.34 L508.0,489.87 L508.5,490.36 L509.0,490.88 L509.5,491.37 L510.0,491.88 L510.5,492.46 L511.0,493.00 L511.5,493.55 L512.0,494.06 L512.5,494.54 L513.0,495.02 L513.5,495.54 L514.0,496.05 L514.5,496.54 L515.0,497.03 L515.5,497.43 L516.0,497.83 L516.5,498.22 L517.0,498.62 L517.5,499.04 L518.0,499.49 L518.5,499.94 L519.0,500.37 L519.5,500.79 L520.0,501.15 L520.5,501.52 L521.0,501.89 L521.5,502.29 L522.0,502.70 L522.5,503.09 L523.0,503.51 L523.5,503.89 L524.0,504.29 L524.5,504.67 L525.0,504.99 L525.5,505.29 L526.0,505.58 L526.5,505.89 L527.0,506.25 L527.5,506.60 L528.0,506.91 L528.5,507.19 L529.0,507.42 L529.5,507.68 L530.0,507.97 L530.5,508.34 L531.0,508.75 L531.5,509.15 L532.0,509.54 L532.5,509.83 L533.0,510.09 L533.5,510.36 L534.0,510.60 L534.5,510.90 L535.0,511.19 L535.5,511.43 L536.0,511.66 L536.5,511.87 L537.0,512.09 L537.5,512.36 L538.0,512.65 L538.5,512.94 L539.0,513.22 L539.5,513.47 L540.0,513.67 L540.5,513.90 L541.0,514.09 L541.5,514.32 L542.0,514.62 L542.5,514.91 L543.0,515.23 L543.5,515.51 L544.0,515.72 L544.5,515.93 L545.0,516.10 L545.5,516.28 L546.0,516.47 L546.5,516.66 L547.0,516.89 L547.5,517.14 L548.0,517.42 L548.5,517.72 L549.0,518.02 L549.5,518.33 L550.0,518.64 L550.5,518.91 L551.0,519.18 L551.5,519.43 L552.0,519.63 L552.5,519.81 L553.0,519.96 L553.5,520.12 L554.0,520.32 L554.5,520.58 L555.0,520.85 L555.5,521.14 L556.0,521.42 L556.5,521.66 L557.0,521.91 L557.5,522.06 L558.0,522.20 L558.5,522.38 L559.0,522.53 L559.5,522.76 L560.0,523.01 L560.5,523.23 L561.0,523.45 L561.5,523.69 L562.0,523.88 L562.5,524.07 L563.0,524.27 L563.5,524.40 L564.0,524.59 L564.5,524.79 L565.0,525.00 L565.5,525.22 L566.0,525.44 L566.5,525.66 L567.0,525.87 L567.5,526.10 L568.0,526.33 L568.5,526.56 L569.0,526.77 L569.5,526.96 L570.0,527.13 L570.5,527.29 L571.0,527.44 L571.5,527.59 L572.0,527.74 L572.5,527.89 L573.0,528.09 L573.5,528.31 L574.0,528.57 L574.5,528.79 L575.0,529.00 L575.5,529.16 L576.0,529.31 L576.5,529.48 L577.0,529.65 L577.5,529.82 L578.0,529.96 L578.5,530.08 L579.0,530.19 L579.5,530.35 L580.0,530.49 L580.5,530.65 L581.0,530.83 L581.5,530.97 L582.0,531.14 L582.5,531.30 L583.0,531.44 L583.5,531.54 L584.0,531.62 L584.5,531.65 L585.0,531.70 L585.5,531.79 L586.0,531.91 L586.5,532.09 L587.0,532.24 L587.5,532.37 L588.0,532.50 L588.5,532.65 L589.0,532.80 L589.5,532.97 L590.0,533.10 L590.5,533.15 L591.0,533.19 L591.5,533.23 L592.0,533.26 L592.5,533.35 L593.0,533.45 L593.5,533.53 L594.0,533.65 L594.5,533.71 L595.0,533.76 L595.5,533.86 L596.0,533.89 L596.5,533.97 L597.0,534.06 L597.5,534.08 L598.0,534.13 L598.5,534.13 L599.0,534.11 L599.5,534.09 L600.0,534.14 L600.5,534.14 L601.0,534.18 L601.5,534.23 L602.0,534.23 L602.5,534.24 L603.0,534.22 L603.5,534.19 L604.0,534.15 L604.5,534.13 L605.0,534.13 L605.5,534.14 L606.0,534.16 L606.5,534.13 L607.0,534.05 L607.5,533.93 L608.0,533.74 L608.5,533.55 L609.0,533.40 L609.5,533.27 L610.0,533.13 L610.5,532.96 L611.0,532.70 L611.5,532.42 L612.0,532.15 L612.5,531.88 L613.0,531.61 L613.5,531.24 L614.0,530.78 L614.5,530.26 L615.0,529.67 L615.5,529.07 L616.0,528.48 L616.5,527.89 L617.0,527.33 L617.5,526.74 L618.0,526.11 L618.5,525.37 L619.0,524.56 L619.5,523.71 L620.0,522.81 L620.5,521.92 L621.0,521.01 L621.5,520.11 L622.0,519.23 L622.5,518.37 L623.0,517.56 L623.5,516.79 L624.0,516.10 L624.5,515.46 L625.0,514.88 L625.5,514.31 L626.0,513.71 L626.5,513.07 L627.0,512.42 L627.5,511.79 L628.0,511.18 L628.5,510.67 L629.0,510.22 L629.5,509.76 L630.0,509.35 L630.5,508.86 L631.0,508.33 L631.5,507.82 L632.0,507.28 L632.5,506.82 L633.0,506.40 L633.5,506.03 L634.0,505.70 L634.5,505.36 L635.0,505.07 L635.5,504.71 L636.0,504.33 L636.5,503.93 L637.0,503.48 L637.5,503.06 L638.0,502.65 L638.5,502.23 L639.0,501.87 L639.5,501.46 L640.0,501.12 L640.5,500.84 L641.0,500.59 L641.5,500.46 L642.0,500.30 L642.5,500.13 L643.0,499.95 L643.5,499.73 L644.0,499.55 L644.5,499.41 L645.0,499.34 L645.5,499.33 L646.0,499.37 L646.5,499.41 L647.0,499.44 L647.5,499.45 L648.0,499.44 L648.5,499.44 L649.0,499.45 L649.5,499.48 L650.0,499.50 L650.5,499.54 L651.0,499.68 L651.5,499.85 L652.0,500.07 L652.5,500.42 L653.0,500.78 L653.5,501.25 L654.0,501.74 L654.5,502.19 L655.0,502.68 L655.5,503.17 L656.0,503.65 L656.5,504.16 L657.0,504.65 L657.5,505.20 L658.0,505.80 L658.5,506.47 L659.0,507.20 L659.5,507.91 L660.0,508.65 L660.5,509.37 L661.0,510.10 L661.5,510.90 L662.0,511.65 L662.5,512.42 L663.0,513.19 L663.5,514.02 L664.0,514.93 L664.5,515.90 L665.0,516.92 L665.5,517.92 L666.0,518.91 L666.5,519.88 L667.0,520.86 L667.5,521.84 L668.0,522.79 L668.5,523.70 L669.0,524.54 L669.5,525.34 L670.0,526.12 L670.5,526.91 L671.0,527.77 L671.5,528.66 L672.0,529.53 L672.5,530.39 L673.0,531.17 L673.5,531.92 L674.0,532.71 L674.5,533.48 L675.0,534.30 L675.5,535.07 L676.0,535.76 L676.5,536.45 L677.0,537.05 L677.5,537.63 L678.0,538.17 L678.5,538.64 L679.0,539.09 L679.5,539.52 L680.0,539.94 L680.5,540.37 L681.0,540.82 L681.5,541.25 L682.0,541.63 L682.5,541.98 L683.0,542.30 L683.5,542.59 L684.0,542.88 L684.5,543.12 L685.0,543.26 L685.5,543.38 L686.0,543.44 L686.5,543.50 L687.0,543.62 L687.5,543.73 L688.0,543.85 L688.5,543.96 L689.0,544.02 L689.5,544.04 L690.0,544.03 L690.5,544.02 L691.0,544.04 L691.5,544.10 L692.0,544.16 L692.5,544.20 L693.0,544.21 L693.5,544.21 L694.0,544.22 L694.5,544.30 L695.0,544.38 L695.5,544.51 L696.0,544.67 L696.5,544.78 L697.0,544.90 L697.5,545.04 L698.0,545.24 L698.5,545.59 L699.0,546.00 L699.5,546.37 L700.0,546.68 L700.5,546.80 L701.0,546.67 L701.5,546.27 L702.0,545.71 L702.5,545.14 L703.0,544.61 L703.5,544.29 L704.0,544.26 L704.5,544.54 L705.0,545.11 L705.5,545.86 L706.0,546.74 L706.5,547.61 L707.0,548.40 L707.5,548.99 L708.0,549.46 L708.5,549.93 L709.0,550.41 L709.5,550.88 L710.0,551.32 L710.5,551.77 L711.0,552.19 L711.5,552.59 L712.0,552.92 L712.5,553.18 L713.0,553.38 L713.5,553.53 L714.0,553.65 L714.5,553.76 L715.0,553.87 L715.5,553.97 L716.0,554.09 L716.5,554.22 L717.0,554.34 L717.5,554.46 L718.0,554.53 L718.5,554.62 L719.0,554.73 L719.5,554.83 L720.0,554.93 L720.5,554.99 L721.0,555.05 L721.5,555.10 L722.0,555.15 L722.5,555.20 L723.0,555.24 L723.5,555.27 L724.0,555.32 L724.5,555.42 L725.0,555.55 L725.5,555.70 L726.0,555.82 L726.5,555.87 L727.0,555.91 L727.5,555.95 L728.0,555.99 L728.5,556.07 L729.0,556.17 L729.5,556.21 L730.0,556.26 L730.5,556.25 L731.0,556.18 L731.5,556.16 L732.0,556.12 L732.5,556.11 L733.0,556.18 L733.5,556.23 L734.0,556.30 L734.5,556.40 L735.0,556.48 L735.5,556.58 L736.0,556.66 L736.5,556.71 L737.0,556.76 L737.5,556.80 L738.0,556.88 L738.5,556.97 L739.0,557.06 L739.5,557.13 L740.0,557.13 L740.5,557.13 L741.0,557.11 L741.5,557.11 L742.0,557.16 L742.5,557.25 L743.0,557.34 L743.5,557.43 L744.0,557.52 L744.5,557.55 L745.0,557.58 L745.5,557.60 L746.0,557.62 L746.5,557.66 L747.0,557.74 L747.5,557.80 L748.0,557.86 L748.5,557.92 L749.0,557.95 L749.5,558.00 L750.0,558.04 L750.5,558.05 L751.0,558.12 L751.5,558.16 L752.0,558.22 L752.5,558.30 L753.0,558.32 L753.5,558.36 L754.0,558.39 L754.5,558.41 L755.0,558.45 L755.5,558.43 L756.0,558.45 L756.5,558.48 L757.0,558.50 L757.5,558.56 L758.0,558.55 L758.5,558.60 L759.0,558.68 L759.5,558.80 L760.0,558.95 L760.5,559.03 L761.0,559.08 L761.5,559.06 L762.0,559.00 L762.5,559.01 L763.0,559.01 L763.5,559.08 L764.0,559.16 L764.5,559.25 L765.0,559.36 L765.5,559.45 L766.0,559.57 L766.5,559.64 L767.0,559.69 L767.5,559.74 L768.0,559.74 L768.5,559.74 L769.0,559.76 L769.5,559.73 L770.0,559.75 L770.5,559.75 L771.0,559.77 L771.5,559.83 L772.0,559.87 L772.5,559.94 L773.0,559.97 L773.5,559.95 L774.0,559.93 L774.5,559.87 L775.0,559.88 L775.5,559.96 L776.0,560.06 L776.5,560.19 L777.0,560.27 L777.5,560.33 L778.0,560.36 L778.5,560.37 L779.0,560.34 L779.5,560.28 L780.0,560.22 L780.5,560.19 L781.0,560.22 L781.5,560.27 L782.0,560.35 L782.5,560.39 L783.0,560.40 L783.5,560.41 L784.0,560.41 L784.5,560.46 L785.0,560.49 L785.5,560.53 L786.0,560.56 L786.5,560.55 L787.0,560.58 L787.5,560.60 L788.0,560.61 L788.5,560.67 L789.0,560.71 L789.5,560.75 L790.0,560.80 L790.5,560.82 L791.0,560.87 L791.5,560.92 L792.0,560.93 L792.5,560.94 L793.0,560.88 L793.5,560.82 L794.0,560.81 L794.5,560.83 L795.0,560.91 L795.5,561.00 L796.0,561.09 L796.5,561.14 L797.0,561.14 L797.5,561.12 L798.0,561.07 L798.5,561.05 L799.0,561.08 L799.5,561.08 L800.0,561.13 L800.5,561.17 L801.0,561.17 L801.5,561.18 L802.0,561.15 L802.5,561.11 L803.0,561.12 L803.5,561.11 L804.0,561.13 L804.5,561.15 L805.0,561.17 L805.5,561.22 L806.0,561.25 L806.5,561.32 L807.0,561.36 L807.5,561.37 L808.0,561.38 L808.5,561.36 L809.0,561.31 L809.5,561.28 L810.0,561.23 L810.5,561.19 L811.0,561.21 L811.5,561.21 L812.0,561.25 L812.5,561.27 L813.0,561.24 L813.5,561.25 L814.0,561.23 L814.5,561.19 L815.0,561.21 L815.5,561.19 L816.0,561.20 L816.5,561.26 L817.0,561.29 L817.5,561.31 L818.0,561.35 L818.5,561.35 L819.0,561.34 L819.5,561.32 L820.0,561.25 L820.5,561.18 L821.0,561.12 L821.5,561.10 L822.0,561.11 L822.5,561.15 L823.0,561.21 L823.5,561.24 L824.0,561.25 L824.5,561.23 L825.0,561.11 L825.5,561.04 L826.0,560.97 L826.5,560.93 L827.0,560.99 L827.5,561.03 L828.0,561.08 L828.5,561.10 L829.0,561.09 L829.5,561.08 L830.0,561.09 L830.5,561.08 L831.0,561.09 L831.5,561.07 L832.0,561.02 L832.5,561.02 L833.0,560.99 L833.5,561.00 L834.0,561.04 L834.5,561.04 L835.0,561.04 L835.5,561.01 L836.0,560.96 L836.5,560.92 L837.0,560.89 L837.5,560.90 L838.0,560.92 L838.5,560.92 L839.0,560.88 L839.5,560.85 L840.0,560.80 L840.5,560.77 L841.0,560.78 L841.5,560.76 L842.0,560.75 L842.5,560.71 L843.0,560.67 L843.5,560.67 L844.0,560.68 L844.5,560.73 L845.0,560.77 L845.5,560.81 L846.0,560.85 L846.5,560.87 L847.0,560.88 L847.5,560.86 L848.0,560.82 L848.5,560.74 L849.0,560.66 L849.5,560.60 L850.0,560.53 L850.5,560.49 L851.0,560.46 L851.5,560.42 L852.0,560.39 L852.5,560.39 L853.0,560.37 L853.5,560.38 L854.0,560.40 L854.5,560.40 L855.0,560.40 L855.5,560.38 L856.0,560.36 L856.5,560.37 L857.0,560.36 L857.5,560.35 L858.0,560.34 L858.5,560.30 L859.0,560.28 L859.5,560.29 L860.0,560.25 L860.5,560.20 L861.0,560.12 L861.5,560.00 L862.0,559.91 L862.5,559.84 L863.0,559.78 L863.5,559.76 L864.0,559.75 L864.5,559.78 L865.0,559.78 L865.5,559.78 L866.0,559.77 L866.5,559.72 L867.0,559.64 L867.5,559.58 L868.0,559.50 L868.5,559.44 L869.0,559.47 L869.5,559.47 L870.0,559.42 L870.5,559.38 L871.0,559.27 L871.5,559.19 L872.0,559.19 L872.5,559.15 L873.0,559.11 L873.5,559.10 L874.0,559.09 L874.5,559.11 L875.0,559.16 L875.5,559.18 L876.0,559.12 L876.5,559.03 L877.0,558.93 L877.5,558.81 L878.0,558.72 L878.5,558.68 L879.0,558.64 L879.5,558.63 L880.0,558.63 L880.5,558.60 L881.0,558.59 L881.5,558.58 L882.0,558.57 L882.5,558.55 L883.0,558.49 L883.5,558.41 L884.0,558.31 L884.5,558.21 L885.0,558.13 L885.5,558.05 L886.0,558.00 L886.5,557.97 L887.0,557.97 L887.5,557.99 L888.0,558.02 L888.5,558.02 L889.0,557.99 L889.5,557.93 L890.0,557.82 L890.5,557.74 L891.0,557.65 L891.5,557.58 L892.0,557.55 L892.5,557.51 L893.0,557.52 L893.5,557.55 L894.0,557.51 L894.5,557.44 L895.0,557.33 L895.5,557.17 L896.0,557.07 L896.5,557.01 L897.0,557.00 L897.5,557.04 L898.0,557.11 L898.5,557.14 L899.0,557.13 L899.5,557.08 L900.0,556.95 L900.5,556.83 L901.0,556.73 L901.5,556.61 L902.0,556.57 L902.5,556.54 L903.0,556.48 L903.5,556.42 L904.0,556.34 L904.5,556.21 L905.0,556.12 L905.5,556.07 L906.0,556.02 L906.5,556.04 L907.0,556.05 L907.5,556.04 L908.0,556.00 L908.5,555.88 L909.0,555.71 L909.5,555.54 L910.0,555.40 L910.5,555.34 L911.0,555.34 L911.5,555.33 L912.0,555.29 L912.5,555.20 L913.0,555.11 L913.5,555.02 L914.0,554.99 L914.5,554.99 L915.0,554.97 L915.5,554.98 L916.0,554.96 L916.5,554.96 L917.0,554.95 L917.5,554.88 L918.0,554.80 L918.5,554.67 L919.0,554.57 L919.5,554.50 L920.0,554.45 L920.5,554.45 L921.0,554.41 L921.5,554.38 L922.0,554.31 L922.5,554.23 L923.0,554.17 L923.5,554.08 L924.0,554.02 L924.5,553.98 L925.0,553.91 L925.5,553.86 L926.0,553.77 L926.5,553.69 L927.0,553.60 L927.5,553.58 L928.0,553.60 L928.5,553.60 L929.0,553.63 L929.5,553.59 L930.0,553.49 L930.5,553.39 L931.0,553.28 L931.5,553.19 L932.0,553.13 L932.5,553.08 L933.0,553.04 L933.5,552.99 L934.0,552.91 L934.5,552.81 L935.0,552.70 L935.5,552.64 L936.0,552.62 L936.5,552.65 L937.0,552.71 L937.5,552.74 L938.0,552.74 L938.5,552.68 L939.0,552.61 L939.5,552.53 L940.0,552.47 L940.5,552.42 L941.0,552.38 L941.5,552.33 L942.0,552.24 L942.5,552.15 L943.0,552.04 L943.5,551.96 L944.0,551.93 L944.5,551.92 L945.0,551.91 L945.5,551.88 L946.0,551.82 L946.5,551.70 L947.0,551.60 L947.5,551.52 L948.0,551.46 L948.5,551.41 L949.0,551.38 L949.5,551.33 L950.0,551.26 L950.5,551.21 L951.0,551.13 L951.5,551.05 L952.0,551.00 L952.5,550.94 L953.0,550.88 L953.5,550.79 L954.0,550.70 L954.5,550.63 L955.0,550.59 L955.5,550.59 L956.0,550.58 L956.5,550.52 L957.0,550.42 L957.5,550.29 L958.0,550.21 L958.5,550.17 L959.0,550.14 L959.5,550.15 L960.0,550.11 L960.5,550.07 L961.0,550.01 L961.5,549.94 L962.0,549.89 L962.5,549.83 L963.0,549.78 L963.5,549.73 L964.0,549.64 L964.5,549.56 L965.0,549.47 L965.5,549.36 L966.0,549.27 L966.5,549.17 L967.0,549.08 L967.5,549.03 L968.0,548.99 L968.5,548.96 L969.0,548.89 L969.5,548.81 L970.0,548.67 L970.5,548.56 L971.0,548.49 L971.5,548.38 L972.0,548.32 L972.5,548.25 L973.0,548.18 L973.5,548.14 L974.0,548.09 L974.5,547.98 L975.0,547.87 L975.5,547.78 L976.0,547.66 L976.5,547.57 L977.0,547.48 L977.5,547.36 L978.0,547.26 L978.5,547.17 L979.0,547.11 L979.5,547.04 L980.0,546.98 L980.5,546.91 L981.0,546.83 L981.5,546.74 L982.0,546.65 L982.5,546.55 L983.0,546.45 L983.5,546.34 L984.0,546.23 L984.5,546.16 L985.0,546.11 L985.5,546.10 L986.0,546.08 L986.5,546.00 L987.0,545.90 L987.5,545.77 L988.0,545.63 L988.5,545.50 L989.0,545.38 L989.5,545.27 L990.0,545.21 L990.5,545.16 L991.0,545.12 L991.5,545.09 L992.0,544.99 L992.5,544.88 L993.0,544.79 L993.5,544.72 L994.0,544.67 L994.5,544.60 L995.0,544.51 L995.5,544.35 L996.0,544.22 L996.5,544.09 L997.0,543.97 L997.5,543.89 L998.0,543.78 L998.5,543.68 L999.0,543.59 L999.5,543.50 L1000.0,543.41 L1000.5,543.34 L1001.0,543.31 L1001.5,543.24 L1002.0,543.17 L1002.5,543.05 L1003.0,542.93 L1003.5,542.84 L1004.0,542.77 L1004.5,542.70 L1005.0,542.61 L1005.5,542.51 L1006.0,542.37 L1006.5,542.26 L1007.0,542.15 L1007.5,542.06 L1008.0,542.02 L1008.5,541.98 L1009.0,541.94 L1009.5,541.92 L1010.0,541.84 L1010.5,541.74 L1011.0,541.66 L1011.5,541.51 L1012.0,541.39 L1012.5,541.29 L1013.0,541.16 L1013.5,541.06 L1014.0,540.97 L1014.5,540.89 L1015.0,540.86 L1015.5,540.88 L1016.0,540.90 L1016.5,540.91 L1017.0,540.87 L1017.5,540.74 L1018.0,540.60 L1018.5,540.46 L1019.0,540.36 L1019.5,540.29 L1020.0,540.22 L1020.5,540.18 L1021.0,540.05 L1021.5,539.97 L1022.0,539.89 L1022.5,539.77 L1023.0,539.78 L1023.5,539.75 L1024.0,539.71 L1024.5,539.69 L1025.0,539.54 L1025.5,539.37 L1026.0,539.24 L1026.5,539.08 L1027.0,538.97 L1027.5,538.86 L1028.0,538.73 L1028.5,538.64 L1029.0,538.56 L1029.5,538.53 L1030.0,538.55 L1030.5,538.55 L1031.0,538.51 L1031.5,538.42 L1032.0,538.30 L1032.5,538.16 L1033.0,538.11 L1033.5,538.08 L1034.0,538.02 L1034.5,537.90 L1035.0,537.74 L1035.5,537.55 L1036.0,537.46 L1036.5,537.47 L1037.0,537.46 L1037.5,537.50 L1038.0,537.47 L1038.5,537.39 L1039.0,537.30 L1039.5,537.14 L1040.0,537.06 L1040.5,536.99 L1041.0,536.97 L1041.5,536.94 L1042.0,536.87 L1042.5,536.79 L1043.0,536.70 L1043.5,536.73 L1044.0,536.77 L1044.5,536.77 L1045.0,536.70 L1045.5,536.50 L1046.0,536.30 L1046.5,536.14 L1047.0,536.06 L1047.5,536.04 L1048.0,535.96 L1048.5,535.93 L1049.0,535.82 L1049.5,535.67 L1050.0,535.60 L1050.5,535.46 L1051.0,535.36 L1051.5,535.29 L1052.0,535.15 L1052.5,535.01 L1053.0,534.89 L1053.5,534.79 L1054.0,534.81 L1054.5,534.84 L1055.0,534.85 L1055.5,534.79 L1056.0,534.62 L1056.5,534.53 L1057.0,534.40 L1057.5,534.31 L1058.0,534.20 L1058.5,533.98 L1059.0,533.87 L1059.5,533.80 L1060.0,533.83 L1060.5,533.89 L1061.0,533.93 L1061.5,533.92 L1062.0,533.87 L1062.5,533.70 L1063.0,533.48 L1063.5,533.20 L1064.0,532.92 L1064.5,532.85 L1065.0,532.83 L1065.5,532.95 L1066.0,533.02 L1066.5,532.96 L1067.0,532.94 L1067.5,532.85 L1068.0,532.77 L1068.5,532.69 L1069.0,532.49 L1069.5,532.28 L1070.0,532.08 L1070.5,531.94 L1071.0,531.89 L1071.5,531.82 L1072.0,531.75 L1072.5,531.61 L1073.0,531.44 L1073.5,531.31 L1074.0,531.20 L1074.5,531.19 L1075.0,531.22 L1075.5,531.24 L1076.0,531.19 L1076.5,531.09 L1077.0,530.99 L1077.5,530.90 L1078.0,530.84 L1078.5,530.76 L1079.0,530.60 L1079.5,530.51 L1080.0,530.45 L1080.5,530.36 L1081.0,530.34 L1081.5,530.24 L1082.0,530.08 L1082.5,530.03 L1083.0,529.93 L1083.5,529.94 L1084.0,529.99 L1084.5,530.01 L1085.0,529.99 L1085.5,529.90 L1086.0,529.81 L1086.5,529.62 L1087.0,529.44 L1087.5,529.20 L1088.0,528.94 L1088.5,528.81 L1089.0,528.75 L1089.5,528.80 L1090.0,528.82 L1090.5,528.76 L1091.0,528.62 L1091.5,528.41 L1092.0,528.21 L1092.5,527.98 L1093.0,527.88 L1093.5,527.81 L1094.0,527.78 L1094.5,527.68 L1095.0,527.62 L1095.5,527.58 L1096.0,527.55 L1096.5,527.69 L1097.0,527.63 L1097.5,527.57 L1098.0,527.52 L1098.5,527.44 L1099.0,527.39 L1099.5,527.22 L1100.0,526.95 L1100.5,526.68 L1101.0,526.46 L1101.5,526.30 L1102.0,526.24 L1102.5,526.10 L1103.0,526.05 L1103.5,525.97 L1104.0,525.82 L1104.5,525.72 L1105.0,525.53 L1105.5,525.40 L1106.0,525.35 L1106.5,525.34 L1107.0,525.32 L1107.5,525.25 L1108.0,525.19 L1108.5,525.05 L1109.0,524.94 L1109.5,524.87 L1110.0,524.74 L1110.5,524.63 L1111.0,524.47 L1111.5,524.30 L1112.0,524.20 L1112.5,524.10 L1113.0,524.04 L1113.5,523.98 L1114.0,523.89 L1114.5,523.87 L1115.0,523.91 L1115.5,523.95 L1116.0,523.95 L1116.5,523.88 L1117.0,523.61 L1117.5,523.36 L1118.0,523.11 L1118.5,522.90 L1119.0,522.86 L1119.5,522.80 L1120.0,522.69 L1120.5,522.54 L1121.0,522.35 L1121.5,522.23 L1122.0,522.06 L1122.5,521.95 L1123.0,521.85 L1123.5,521.72 L1124.0,521.83 L1124.5,521.91 L1125.0,521.91 L1125.5,521.83 L1126.0,521.61 L1126.5,521.32 L1127.0,521.07 L1127.5,520.89 L1128.0,520.63 L1128.5,520.48 L1129.0,520.33 L1129.5,520.15 L1130.0,520.12 L1130.5,520.01 L1131.0,519.95 L1131.5,519.86 L1132.0,519.62 L1132.5,519.41 L1133.0,519.22 L1133.5,519.14 L1134.0,519.22 L1134.5,519.31 L1135.0,519.41 L1135.5,519.46 L1136.0,519.44 L1136.5,519.45 L1137.0,519.41 L1137.5,519.29 L1138.0,519.15 L1138.5,518.86 L1139.0,518.56 L1139.5,518.40 L1140.0,518.28 L1140.5,518.37 L1141.0,518.54 L1141.5,518.48 L1142.0,518.36 L1142.5,518.12 L1143.0,517.79 L1143.5,517.70 L1144.0,517.65 L1144.5,517.56 L1145.0,517.44 L1145.5,517.33 L1146.0,517.15 L1146.5,516.89 L1147.0,516.74 L1147.5,516.45 L1148.0,516.24 L1148.5,516.23 L1149.0,516.12 L1149.5,516.00 L1150.0,515.82 L1150.5,515.51 L1151.0,515.24 L1151.5,515.02 L1152.0,514.95 L1152.5,514.97 L1153.0,515.09 L1153.5,515.37 L1154.0,515.39 L1154.5,515.33 L1155.0,515.20 L1155.5,514.78 L1156.0,514.53 L1156.5,514.42 L1157.0,514.21 L1157.5,514.21 L1158.0,514.22 L1158.5,514.03 L1159.0,513.93 L1159.5,513.84 L1160.0,513.58 L1160.5,513.44 L1161.0,513.39 L1161.5,513.27 L1162.0,513.27 L1162.5,513.29 L1163.0,513.10 L1163.5,512.92 L1164.0,512.73 L1164.5,512.52 L1165.0,512.48 L1165.5,512.48 L1166.0,512.39 L1166.5,512.34 L1167.0,512.16 L1167.5,511.99 L1168.0,511.92 L1168.5,511.70 L1169.0,511.55 L1169.5,511.26 L1170.0,510.98 L1170.5,510.92 L1171.0,510.90 L1171.5,511.16 L1172.0,511.37 L1172.5,511.41 L1173.0,511.34 L1173.5,511.05 L1174.0,510.80 L1174.5,510.40 L1175.0,510.13 L1175.5,509.93 L1176.0,509.77 L1176.5,509.93 L1177.0,510.01 L1177.5,510.07 L1178.0,509.92 L1178.5,509.60 L1179.0,509.26 L1179.5,508.85 L1180.0,508.73 L1180.5,508.70 L1181.0,508.78 L1181.5,508.86 L1182.0,508.75 L1182.5,508.56 L1183.0,508.15 L1183.5,507.87 L1184.0,507.73 L1184.5,507.60 L1185.0,507.70 L1185.5,507.84 L1186.0,507.96 L1186.5,508.29 L1187.0,508.56 L1187.5,508.67 L1188.0,508.75 L1188.5,508.58 L1189.0,508.41 L1189.5,508.30 L1190.0,507.95 L1190.5,507.56 L1191.0,507.04 L1191.5,506.57 L1192.0,506.41 L1192.5,506.47 L1193.0,506.56 L1193.5,506.53 L1194.0,506.47 L1194.5,506.23 L1195.0,506.14 L1195.5,506.23 L1196.0,506.26 L1196.5,506.30 L1197.0,506.28 L1197.5,505.96 L1198.0,505.58 L1198.5,505.31 L1199.0,504.93 L1199.5,504.90 L1200.0,505.04 L1200.5,505.13 L1201.0,505.48 L1201.5,505.64 L1202.0,505.56 L1202.5,505.51 L1203.0,505.28 L1203.5,504.88 L1204.0,504.56 L1204.5,504.12 L1205.0,503.74 L1205.5,503.63 L1206.0,503.67 L1206.5,503.81 L1207.0,503.78 L1207.5,503.76 L1208.0,503.74 L1208.5,503.76 L1209.0,503.98 L1209.5,504.04 L1210.0,503.77 L1210.5,503.42 L1211.0,502.93 L1211.5,502.45 L1212.0,502.27 L1212.5,502.12 L1213.0,502.08 L1213.5,501.97 L1214.0,501.72 L1214.5,501.57 L1215.0,501.39 L1215.5,501.50 L1216.0,501.67 L1216.5,501.66 L1217.0,501.63 L1217.5,501.35 L1218.0,501.16 L1218.5,500.94 L1219.0,500.79 L1219.5,500.79 L1220.0,500.65 L1220.5,500.75 L1221.0,500.73 L1221.5,500.64 L1222.0,500.61 L1222.5,500.39 L1223.0,500.25 L1223.5,500.13 L1224.0,500.02 L1224.5,500.03 L1225.0,500.01 L1225.5,499.89 L1226.0,499.70 L1226.5,499.34 L1227.0,498.95 L1227.5,498.74 L1228.0,498.58 L1228.5,498.60 L1229.0,498.72 L1229.5,498.69 L1230.0,498.69 L1230.5,498.72 L1231.0,498.63 L1231.5,498.57 L1232.0,498.47" fill="none" stroke="#93209a" stroke-width="2.6" stroke-linejoin="round" stroke-linecap="butt"/>
<path d="M104.0,403.94 L104.5,403.91 L105.0,403.77 L105.5,403.93 L106.0,403.72 L106.5,403.38 L107.0,403.49 L107.5,403.39 L108.0,403.50 L108.5,404.17 L109.0,404.29 L109.5,404.69 L110.0,404.84 L110.5,404.50 L111.0,404.44 L111.5,403.89 L112.0,403.39 L112.5,402.88 L113.0,402.26 L113.5,401.67 L114.0,401.08 L114.5,400.53 L115.0,399.91 L115.5,399.92 L116.0,399.83 L116.5,400.16 L117.0,400.64 L117.5,400.62 L118.0,400.54 L118.5,400.30 L119.0,400.32 L119.5,400.66 L120.0,401.49 L120.5,402.34 L121.0,402.85 L121.5,403.21 L122.0,403.37 L122.5,403.19 L123.0,402.88 L123.5,401.98 L124.0,401.05 L124.5,400.29 L125.0,400.15 L125.5,400.68 L126.0,401.20 L126.5,401.62 L127.0,401.30 L127.5,401.04 L128.0,400.68 L128.5,400.60 L129.0,400.96 L129.5,401.32 L130.0,401.78 L130.5,402.30 L131.0,402.62 L131.5,402.74 L132.0,402.96 L132.5,402.76 L133.0,402.59 L133.5,402.44 L134.0,401.87 L134.5,401.06 L135.0,400.32 L135.5,399.47 L136.0,399.15 L136.5,400.03 L137.0,400.55 L137.5,401.51 L138.0,402.13 L138.5,401.78 L139.0,401.76 L139.5,401.29 L140.0,400.99 L140.5,401.05 L141.0,401.61 L141.5,402.35 L142.0,402.97 L142.5,403.55 L143.0,403.26 L143.5,402.86 L144.0,402.57 L144.5,401.58 L145.0,400.86 L145.5,400.01 L146.0,399.05 L146.5,398.56 L147.0,398.21 L147.5,398.13 L148.0,398.09 L148.5,397.67 L149.0,397.13 L149.5,396.45 L150.0,395.66 L150.5,395.26 L151.0,394.82 L151.5,394.46 L152.0,394.12 L152.5,393.79 L153.0,393.58 L153.5,393.35 L154.0,393.11 L154.5,392.87 L155.0,392.60 L155.5,392.37 L156.0,392.23 L156.5,392.13 L157.0,392.02 L157.5,391.85 L158.0,391.63 L158.5,391.41 L159.0,391.15 L159.5,390.92 L160.0,390.54 L160.5,390.06 L161.0,389.57 L161.5,389.09 L162.0,388.66 L162.5,388.26 L163.0,388.02 L163.5,387.81 L164.0,387.65 L164.5,387.48 L165.0,387.09 L165.5,386.55 L166.0,385.98 L166.5,385.47 L167.0,385.04 L167.5,384.81 L168.0,384.62 L168.5,384.38 L169.0,384.23 L169.5,383.98 L170.0,383.70 L170.5,383.49 L171.0,383.16 L171.5,382.78 L172.0,382.39 L172.5,381.84 L173.0,381.21 L173.5,380.70 L174.0,380.21 L174.5,379.76 L175.0,379.43 L175.5,378.91 L176.0,378.32 L176.5,377.79 L177.0,377.16 L177.5,376.70 L178.0,376.21 L178.5,375.65 L179.0,375.14 L179.5,374.49 L180.0,373.87 L180.5,373.21 L181.0,372.42 L181.5,371.62 L182.0,370.73 L182.5,369.74 L183.0,368.74 L183.5,367.66 L184.0,366.57 L184.5,365.49 L185.0,364.33 L185.5,363.19 L186.0,362.02 L186.5,360.87 L187.0,359.81 L187.5,358.77 L188.0,357.70 L188.5,356.59 L189.0,355.42 L189.5,354.25 L190.0,353.11 L190.5,351.94 L191.0,350.83 L191.5,349.77 L192.0,348.76 L192.5,347.84 L193.0,346.92 L193.5,346.05 L194.0,345.21 L194.5,344.44 L195.0,343.78 L195.5,343.20 L196.0,342.63 L196.5,342.08 L197.0,341.57 L197.5,341.07 L198.0,340.67 L198.5,340.35 L199.0,340.16 L199.5,340.06 L200.0,340.03 L200.5,340.20 L201.0,340.58 L201.5,341.18 L202.0,341.97 L202.5,342.85 L203.0,343.82 L203.5,345.27 L204.0,347.46 L204.5,350.20 L205.0,353.18 L205.5,356.19 L206.0,358.98 L206.5,361.27 L207.0,363.62 L207.5,365.98 L208.0,368.25 L208.5,370.44 L209.0,372.36 L209.5,373.91 L210.0,374.98 L210.5,375.77 L211.0,376.49 L211.5,377.22 L212.0,377.95 L212.5,378.63 L213.0,379.25 L213.5,379.75 L214.0,380.17 L214.5,380.55 L215.0,380.91 L215.5,381.26 L216.0,381.60 L216.5,381.90 L217.0,382.16 L217.5,382.42 L218.0,382.65 L218.5,382.89 L219.0,383.16 L219.5,383.41 L220.0,383.70 L220.5,383.95 L221.0,384.15 L221.5,384.34 L222.0,384.48 L222.5,384.63 L223.0,384.78 L223.5,384.92 L224.0,385.10 L224.5,385.26 L225.0,385.42 L225.5,385.58 L226.0,385.72 L226.5,385.89 L227.0,386.00 L227.5,386.07 L228.0,386.11 L228.5,386.12 L229.0,386.15 L229.5,386.19 L230.0,386.20 L230.5,386.20 L231.0,386.17 L231.5,386.12 L232.0,386.09 L232.5,386.08 L233.0,386.10 L233.5,386.11 L234.0,386.11 L234.5,386.06 L235.0,385.97 L235.5,385.87 L236.0,385.76 L236.5,385.69 L237.0,385.64 L237.5,385.58 L238.0,385.52 L238.5,385.42 L239.0,385.32 L239.5,385.21 L240.0,385.09 L240.5,384.96 L241.0,384.81 L241.5,384.61 L242.0,384.43 L242.5,384.28 L243.0,384.14 L243.5,384.09 L244.0,384.00 L244.5,383.91 L245.0,383.80 L245.5,383.65 L246.0,383.52 L246.5,383.38 L247.0,383.25 L247.5,383.10 L248.0,382.94 L248.5,382.79 L249.0,382.68 L249.5,382.58 L250.0,382.52 L250.5,382.43 L251.0,382.28 L251.5,382.10 L252.0,381.90 L252.5,381.70 L253.0,381.50 L253.5,381.28 L254.0,381.06 L254.5,380.83 L255.0,380.67 L255.5,380.52 L256.0,380.35 L256.5,380.20 L257.0,379.96 L257.5,379.75 L258.0,379.55 L258.5,379.33 L259.0,379.14 L259.5,378.94 L260.0,378.74 L260.5,378.52 L261.0,378.31 L261.5,378.08 L262.0,377.81 L262.5,377.55 L263.0,377.28 L263.5,377.01 L264.0,376.75 L264.5,376.50 L265.0,376.26 L265.5,376.01 L266.0,375.78 L266.5,375.54 L267.0,375.30 L267.5,375.10 L268.0,374.86 L268.5,374.61 L269.0,374.34 L269.5,374.06 L270.0,373.82 L270.5,373.57 L271.0,373.32 L271.5,373.04 L272.0,372.78 L272.5,372.50 L273.0,372.20 L273.5,371.94 L274.0,371.63 L274.5,371.35 L275.0,371.09 L275.5,370.81 L276.0,370.57 L276.5,370.29 L277.0,370.02 L277.5,369.75 L278.0,369.43 L278.5,369.12 L279.0,368.78 L279.5,368.42 L280.0,368.09 L280.5,367.75 L281.0,367.41 L281.5,367.05 L282.0,366.63 L282.5,366.17 L283.0,365.69 L283.5,365.24 L284.0,364.77 L284.5,364.34 L285.0,363.92 L285.5,363.45 L286.0,363.00 L286.5,362.50 L287.0,361.99 L287.5,361.48 L288.0,360.94 L288.5,360.37 L289.0,359.74 L289.5,359.03 L290.0,358.31 L290.5,357.57 L291.0,356.90 L291.5,356.27 L292.0,355.57 L292.5,354.87 L293.0,354.11 L293.5,353.26 L294.0,352.46 L294.5,351.62 L295.0,350.73 L295.5,349.87 L296.0,348.99 L296.5,348.13 L297.0,347.31 L297.5,346.50 L298.0,345.68 L298.5,344.84 L299.0,344.00 L299.5,343.12 L300.0,342.26 L300.5,341.38 L301.0,340.46 L301.5,339.58 L302.0,338.66 L302.5,337.78 L303.0,336.94 L303.5,336.05 L304.0,335.23 L304.5,334.40 L305.0,333.54 L305.5,332.74 L306.0,331.90 L306.5,331.06 L307.0,330.28 L307.5,329.49 L308.0,328.70 L308.5,327.91 L309.0,327.09 L309.5,326.23 L310.0,325.36 L310.5,324.50 L311.0,323.59 L311.5,322.68 L312.0,321.78 L312.5,320.79 L313.0,319.83 L313.5,318.81 L314.0,317.68 L314.5,316.56 L315.0,315.38 L315.5,314.19 L316.0,312.99 L316.5,311.75 L317.0,310.47 L317.5,309.19 L318.0,307.91 L318.5,306.65 L319.0,305.40 L319.5,304.09 L320.0,302.80 L320.5,301.47 L321.0,300.13 L321.5,298.87 L322.0,297.54 L322.5,296.18 L323.0,294.73 L323.5,293.16 L324.0,291.59 L324.5,289.99 L325.0,288.40 L325.5,286.83 L326.0,285.19 L326.5,283.53 L327.0,281.82 L327.5,280.06 L328.0,278.25 L328.5,276.42 L329.0,274.52 L329.5,272.58 L330.0,270.64 L330.5,268.64 L331.0,266.70 L331.5,264.79 L332.0,262.89 L332.5,260.99 L333.0,259.05 L333.5,257.05 L334.0,255.03 L334.5,253.04 L335.0,251.08 L335.5,249.13 L336.0,247.18 L336.5,245.19 L337.0,243.18 L337.5,241.16 L338.0,239.14 L338.5,237.14 L339.0,235.15 L339.5,233.17 L340.0,231.21 L340.5,229.17 L341.0,227.11 L341.5,225.00 L342.0,222.92 L342.5,220.91 L343.0,218.93 L343.5,216.98 L344.0,215.00 L344.5,212.96 L345.0,210.86 L345.5,208.72 L346.0,206.55 L346.5,204.38 L347.0,202.25 L347.5,200.12 L348.0,198.03 L348.5,195.94 L349.0,193.84 L349.5,191.74 L350.0,189.62 L350.5,187.49 L351.0,185.32 L351.5,183.13 L352.0,180.97 L352.5,178.81 L353.0,176.70 L353.5,174.63 L354.0,172.52 L354.5,170.43 L355.0,168.32 L355.5,166.21 L356.0,164.15 L356.5,162.10 L357.0,160.06 L357.5,157.99 L358.0,155.92 L358.5,153.85 L359.0,151.79 L359.5,149.82 L360.0,147.78 L360.5,145.78 L361.0,143.81 L361.5,141.78 L362.0,139.81 L362.5,137.79 L363.0,135.68 L363.5,133.56 L364.0,131.37 L364.5,129.20 L365.0,127.06 L365.5,124.89 L366.0,122.67 L366.5,120.40 L367.0,118.05 L367.5,115.68 L368.0,113.33 L368.5,110.93 L369.0,108.52 L369.5,106.03 L370.0,103.45 L370.5,100.86 L371.0,98.25 L371.5,95.68 L372.0,93.12 L372.5,90.57 L373.0,88.05 L373.5,85.54 L374.0,83.08 L374.5,80.59 L375.0,78.11 L375.5,75.59 L376.0,73.10 L376.5,70.64 L377.0,68.18 L377.5,65.77 L378.0,63.35 L378.5,60.90 L379.0,58.43 L379.5,55.98 L380.0,53.56 L380.5,51.24 L381.0,49.00 L381.5,46.81 L382.0,44.65 L382.5,42.49 L383.0,40.37 L383.5,38.26 L384.0,36.18 L384.5,34.18 L385.0,32.23 L385.5,30.35 L386.0,28.53 L386.5,26.71 L387.0,24.93 L387.5,23.19 L388.0,21.49 L388.5,19.83 L389.0,18.24 L389.5,16.77 L390.0,15.45 L390.5,14.28 L391.0,13.17 L391.5,12.20 L392.0,11.54 L392.5,11.08 L393.0,10.69 L393.5,10.47 L394.0,10.46 L394.5,10.68 L395.0,11.03 L395.5,11.46 L396.0,12.12 L396.5,13.07 L397.0,14.18 L397.5,15.27 L398.0,16.35 L398.5,17.44 L399.0,18.52 L399.5,19.60 L400.0,20.70 L400.5,21.86 L401.0,23.11 L401.5,24.44 L402.0,25.84 L402.5,27.33 L403.0,28.94 L403.5,30.69 L404.0,32.59 L404.5,34.61 L405.0,36.71 L405.5,38.89 L406.0,41.07 L406.5,43.20 L407.0,45.32 L407.5,47.40 L408.0,49.56 L408.5,51.85 L409.0,54.17 L409.5,56.55 L410.0,58.88 L410.5,61.23 L411.0,63.60 L411.5,65.96 L412.0,68.39 L412.5,70.79 L413.0,73.19 L413.5,75.61 L414.0,77.95 L414.5,80.29 L415.0,82.56 L415.5,84.81 L416.0,87.06 L416.5,89.29 L417.0,91.55 L417.5,93.78 L418.0,96.03 L418.5,98.28 L419.0,100.56 L419.5,102.86 L420.0,105.13 L420.5,107.37 L421.0,109.58 L421.5,111.76 L422.0,113.99 L422.5,116.29 L423.0,118.63 L423.5,120.97 L424.0,123.23 L424.5,125.40 L425.0,127.53 L425.5,129.70 L426.0,131.94 L426.5,134.22 L427.0,136.54 L427.5,138.83 L428.0,141.09 L428.5,143.36 L429.0,145.61 L429.5,147.83 L430.0,150.07 L430.5,152.30 L431.0,154.56 L431.5,156.85 L432.0,159.16 L432.5,161.44 L433.0,163.69 L433.5,165.88 L434.0,168.03 L434.5,170.19 L435.0,172.36 L435.5,174.58 L436.0,176.81 L436.5,179.02 L437.0,181.22 L437.5,183.35 L438.0,185.45 L438.5,187.55 L439.0,189.62 L439.5,191.70 L440.0,193.77 L440.5,195.84 L441.0,197.96 L441.5,200.07 L442.0,202.25 L442.5,204.42 L443.0,206.56 L443.5,208.76 L444.0,210.96 L444.5,213.20 L445.0,215.48 L445.5,217.72 L446.0,219.96 L446.5,222.21 L447.0,224.47 L447.5,226.76 L448.0,229.08 L448.5,231.40 L449.0,233.77 L449.5,236.18 L450.0,238.61 L450.5,241.09 L451.0,243.51 L451.5,245.92 L452.0,248.36 L452.5,250.82 L453.0,253.34 L453.5,255.93 L454.0,258.56 L454.5,261.21 L455.0,263.90 L455.5,266.58 L456.0,269.24 L456.5,271.94 L457.0,274.63 L457.5,277.36 L458.0,280.14 L458.5,282.88 L459.0,285.63 L459.5,288.36 L460.0,291.07 L460.5,293.79 L461.0,296.53 L461.5,299.26 L462.0,301.98 L462.5,304.69 L463.0,307.41 L463.5,310.12 L464.0,312.83 L464.5,315.53 L465.0,318.16 L465.5,320.79 L466.0,323.37 L466.5,325.94 L467.0,328.48 L467.5,330.99 L468.0,333.49 L468.5,335.94 L469.0,338.43 L469.5,340.88 L470.0,343.33 L470.5,345.78 L471.0,348.16 L471.5,350.56 L472.0,352.89 L472.5,355.17 L473.0,357.43 L473.5,359.58 L474.0,361.73 L474.5,363.88 L475.0,366.02 L475.5,368.18 L476.0,370.28 L476.5,372.33 L477.0,374.29 L477.5,376.18 L478.0,378.07 L478.5,379.90 L479.0,381.77 L479.5,383.64 L480.0,385.51 L480.5,387.40 L481.0,389.20 L481.5,390.97 L482.0,392.68 L482.5,394.37 L483.0,396.10 L483.5,397.82 L484.0,399.54 L484.5,401.25 L485.0,402.93 L485.5,404.59 L486.0,406.25 L486.5,407.86 L487.0,409.45 L487.5,411.02 L488.0,412.52 L488.5,413.97 L489.0,415.34 L489.5,416.62 L490.0,417.84 L490.5,419.03 L491.0,420.28 L491.5,421.56 L492.0,422.83 L492.5,424.09 L493.0,425.26 L493.5,426.40 L494.0,427.51 L494.5,428.55 L495.0,429.61 L495.5,430.63 L496.0,431.59 L496.5,432.57 L497.0,433.50 L497.5,434.43 L498.0,435.40 L498.5,436.37 L499.0,437.39 L499.5,438.33 L500.0,439.19 L500.5,440.04 L501.0,440.83 L501.5,441.66 L502.0,442.48 L502.5,443.24 L503.0,443.98 L503.5,444.71 L504.0,445.42 L504.5,446.14 L505.0,446.85 L505.5,447.55 L506.0,448.26 L506.5,448.99 L507.0,449.71 L507.5,450.41 L508.0,451.07 L508.5,451.68 L509.0,452.29 L509.5,452.88 L510.0,453.48 L510.5,454.09 L511.0,454.66 L511.5,455.20 L512.0,455.70 L512.5,456.18 L513.0,456.68 L513.5,457.17 L514.0,457.74 L514.5,458.26 L515.0,458.78 L515.5,459.30 L516.0,459.75 L516.5,460.24 L517.0,460.72 L517.5,461.17 L518.0,461.62 L518.5,462.00 L519.0,462.36 L519.5,462.74 L520.0,463.15 L520.5,463.61 L521.0,464.08 L521.5,464.51 L522.0,464.91 L522.5,465.29 L523.0,465.66 L523.5,466.04 L524.0,466.36 L524.5,466.69 L525.0,467.01 L525.5,467.34 L526.0,467.70 L526.5,468.08 L527.0,468.45 L527.5,468.81 L528.0,469.18 L528.5,469.53 L529.0,469.85 L529.5,470.17 L530.0,470.42 L530.5,470.68 L531.0,470.98 L531.5,471.31 L532.0,471.69 L532.5,472.08 L533.0,472.41 L533.5,472.67 L534.0,472.90 L534.5,473.12 L535.0,473.38 L535.5,473.67 L536.0,473.98 L536.5,474.30 L537.0,474.63 L537.5,474.95 L538.0,475.25 L538.5,475.52 L539.0,475.79 L539.5,476.03 L540.0,476.22 L540.5,476.39 L541.0,476.52 L541.5,476.69 L542.0,476.93 L542.5,477.22 L543.0,477.57 L543.5,477.91 L544.0,478.22 L544.5,478.50 L545.0,478.75 L545.5,479.01 L546.0,479.27 L546.5,479.58 L547.0,479.86 L547.5,480.09 L548.0,480.34 L548.5,480.48 L549.0,480.63 L549.5,480.80 L550.0,480.99 L550.5,481.26 L551.0,481.52 L551.5,481.82 L552.0,482.06 L552.5,482.26 L553.0,482.50 L553.5,482.70 L554.0,482.95 L554.5,483.20 L555.0,483.41 L555.5,483.62 L556.0,483.87 L556.5,484.13 L557.0,484.43 L557.5,484.72 L558.0,484.94 L558.5,485.11 L559.0,485.24 L559.5,485.36 L560.0,485.50 L560.5,485.69 L561.0,485.88 L561.5,486.10 L562.0,486.31 L562.5,486.48 L563.0,486.69 L563.5,486.88 L564.0,487.06 L564.5,487.26 L565.0,487.44 L565.5,487.61 L566.0,487.81 L566.5,488.01 L567.0,488.18 L567.5,488.35 L568.0,488.49 L568.5,488.59 L569.0,488.70 L569.5,488.82 L570.0,488.99 L570.5,489.19 L571.0,489.47 L571.5,489.70 L572.0,489.88 L572.5,490.08 L573.0,490.22 L573.5,490.43 L574.0,490.65 L574.5,490.82 L575.0,490.95 L575.5,491.04 L576.0,491.13 L576.5,491.23 L577.0,491.38 L577.5,491.56 L578.0,491.77 L578.5,491.97 L579.0,492.16 L579.5,492.27 L580.0,492.35 L580.5,492.44 L581.0,492.54 L581.5,492.71 L582.0,492.85 L582.5,492.99 L583.0,493.12 L583.5,493.20 L584.0,493.36 L584.5,493.51 L585.0,493.67 L585.5,493.89 L586.0,494.04 L586.5,494.22 L587.0,494.35 L587.5,494.43 L588.0,494.50 L588.5,494.51 L589.0,494.54 L589.5,494.60 L590.0,494.69 L590.5,494.84 L591.0,494.97 L591.5,495.11 L592.0,495.21 L592.5,495.27 L593.0,495.37 L593.5,495.42 L594.0,495.48 L594.5,495.54 L595.0,495.54 L595.5,495.54 L596.0,495.52 L596.5,495.49 L597.0,495.50 L597.5,495.56 L598.0,495.59 L598.5,495.61 L599.0,495.61 L599.5,495.54 L600.0,495.57 L600.5,495.62 L601.0,495.67 L601.5,495.75 L602.0,495.77 L602.5,495.75 L603.0,495.76 L603.5,495.75 L604.0,495.70 L604.5,495.71 L605.0,495.70 L605.5,495.67 L606.0,495.65 L606.5,495.56 L607.0,495.45 L607.5,495.31 L608.0,495.14 L608.5,494.97 L609.0,494.78 L609.5,494.60 L610.0,494.40 L610.5,494.19 L611.0,493.95 L611.5,493.68 L612.0,493.41 L612.5,493.09 L613.0,492.76 L613.5,492.31 L614.0,491.79 L614.5,491.23 L615.0,490.57 L615.5,489.96 L616.0,489.32 L616.5,488.66 L617.0,488.04 L617.5,487.38 L618.0,486.69 L618.5,485.92 L619.0,485.05 L619.5,484.14 L620.0,483.15 L620.5,482.13 L621.0,481.08 L621.5,479.98 L622.0,478.97 L622.5,477.99 L623.0,477.04 L623.5,476.16 L624.0,475.27 L624.5,474.42 L625.0,473.65 L625.5,472.92 L626.0,472.20 L626.5,471.54 L627.0,470.88 L627.5,470.27 L628.0,469.71 L628.5,469.14 L629.0,468.61 L629.5,468.08 L630.0,467.53 L630.5,466.97 L631.0,466.36 L631.5,465.73 L632.0,465.14 L632.5,464.62 L633.0,464.15 L633.5,463.75 L634.0,463.30 L634.5,462.81 L635.0,462.35 L635.5,461.89 L636.0,461.50 L636.5,461.16 L637.0,460.75 L637.5,460.35 L638.0,459.94 L638.5,459.54 L639.0,459.17 L639.5,458.81 L640.0,458.47 L640.5,458.13 L641.0,457.83 L641.5,457.54 L642.0,457.24 L642.5,456.96 L643.0,456.68 L643.5,456.43 L644.0,456.26 L644.5,456.09 L645.0,455.96 L645.5,455.89 L646.0,455.80 L646.5,455.77 L647.0,455.74 L647.5,455.70 L648.0,455.66 L648.5,455.60 L649.0,455.54 L649.5,455.50 L650.0,455.49 L650.5,455.56 L651.0,455.70 L651.5,455.90 L652.0,456.17 L652.5,456.47 L653.0,456.80 L653.5,457.19 L654.0,457.59 L654.5,457.98 L655.0,458.39 L655.5,458.82 L656.0,459.28 L656.5,459.75 L657.0,460.29 L657.5,460.87 L658.0,461.46 L658.5,462.12 L659.0,462.82 L659.5,463.59 L660.0,464.40 L660.5,465.26 L661.0,466.17 L661.5,467.05 L662.0,467.94 L662.5,468.79 L663.0,469.60 L663.5,470.50 L664.0,471.47 L664.5,472.49 L665.0,473.61 L665.5,474.74 L666.0,475.86 L666.5,476.95 L667.0,477.99 L667.5,479.01 L668.0,479.99 L668.5,480.97 L669.0,481.95 L669.5,482.94 L670.0,483.91 L670.5,484.85 L671.0,485.76 L671.5,486.64 L672.0,487.52 L672.5,488.41 L673.0,489.31 L673.5,490.21 L674.0,491.10 L674.5,491.92 L675.0,492.71 L675.5,493.48 L676.0,494.18 L676.5,494.93 L677.0,495.64 L677.5,496.28 L678.0,496.91 L678.5,497.49 L679.0,498.07 L679.5,498.69 L680.0,499.27 L680.5,499.83 L681.0,500.30 L681.5,500.70 L682.0,501.09 L682.5,501.44 L683.0,501.79 L683.5,502.14 L684.0,502.42 L684.5,502.69 L685.0,502.94 L685.5,503.14 L686.0,503.32 L686.5,503.47 L687.0,503.59 L687.5,503.71 L688.0,503.82 L688.5,503.88 L689.0,503.90 L689.5,503.89 L690.0,503.87 L690.5,503.88 L691.0,503.86 L691.5,503.86 L692.0,503.80 L692.5,503.70 L693.0,503.60 L693.5,503.49 L694.0,503.45 L694.5,503.43 L695.0,503.41 L695.5,503.36 L696.0,503.30 L696.5,503.25 L697.0,503.22 L697.5,503.28 L698.0,503.55 L698.5,504.16 L699.0,504.86 L699.5,505.36 L700.0,505.56 L700.5,505.26 L701.0,504.65 L701.5,503.90 L702.0,503.15 L702.5,502.60 L703.0,502.35 L703.5,502.47 L704.0,502.75 L704.5,503.14 L705.0,503.67 L705.5,504.20 L706.0,504.76 L706.5,505.32 L707.0,505.97 L707.5,506.73 L708.0,507.56 L708.5,508.41 L709.0,509.31 L709.5,510.17 L710.0,511.00 L710.5,511.74 L711.0,512.37 L711.5,512.91 L712.0,513.33 L712.5,513.61 L713.0,513.82 L713.5,514.01 L714.0,514.19 L714.5,514.34 L715.0,514.46 L715.5,514.56 L716.0,514.61 L716.5,514.66 L717.0,514.69 L717.5,514.70 L718.0,514.75 L718.5,514.77 L719.0,514.80 L719.5,514.84 L720.0,514.85 L720.5,514.90 L721.0,514.96 L721.5,515.03 L722.0,515.10 L722.5,515.17 L723.0,515.22 L723.5,515.28 L724.0,515.36 L724.5,515.42 L725.0,515.49 L725.5,515.55 L726.0,515.59 L726.5,515.59 L727.0,515.58 L727.5,515.58 L728.0,515.57 L728.5,515.61 L729.0,515.63 L729.5,515.65 L730.0,515.70 L730.5,515.71 L731.0,515.70 L731.5,515.74 L732.0,515.76 L732.5,515.82 L733.0,515.91 L733.5,515.95 L734.0,515.98 L734.5,515.98 L735.0,515.96 L735.5,515.97 L736.0,515.98 L736.5,516.04 L737.0,516.11 L737.5,516.16 L738.0,516.23 L738.5,516.26 L739.0,516.31 L739.5,516.34 L740.0,516.35 L740.5,516.36 L741.0,516.30 L741.5,516.27 L742.0,516.25 L742.5,516.24 L743.0,516.31 L743.5,516.35 L744.0,516.39 L744.5,516.42 L745.0,516.39 L745.5,516.41 L746.0,516.47 L746.5,516.55 L747.0,516.68 L747.5,516.78 L748.0,516.83 L748.5,516.83 L749.0,516.83 L749.5,516.78 L750.0,516.76 L750.5,516.77 L751.0,516.76 L751.5,516.78 L752.0,516.78 L752.5,516.78 L753.0,516.80 L753.5,516.85 L754.0,516.92 L754.5,517.01 L755.0,517.11 L755.5,517.17 L756.0,517.21 L756.5,517.18 L757.0,517.15 L757.5,517.14 L758.0,517.11 L758.5,517.10 L759.0,517.10 L759.5,517.08 L760.0,517.10 L760.5,517.14 L761.0,517.17 L761.5,517.25 L762.0,517.32 L762.5,517.39 L763.0,517.45 L763.5,517.49 L764.0,517.49 L764.5,517.48 L765.0,517.44 L765.5,517.41 L766.0,517.40 L766.5,517.39 L767.0,517.39 L767.5,517.39 L768.0,517.39 L768.5,517.38 L769.0,517.39 L769.5,517.42 L770.0,517.48 L770.5,517.58 L771.0,517.63 L771.5,517.65 L772.0,517.64 L772.5,517.58 L773.0,517.56 L773.5,517.51 L774.0,517.47 L774.5,517.46 L775.0,517.47 L775.5,517.53 L776.0,517.59 L776.5,517.67 L777.0,517.70 L777.5,517.70 L778.0,517.69 L778.5,517.63 L779.0,517.60 L779.5,517.60 L780.0,517.61 L780.5,517.64 L781.0,517.69 L781.5,517.71 L782.0,517.74 L782.5,517.77 L783.0,517.75 L783.5,517.73 L784.0,517.65 L784.5,517.58 L785.0,517.57 L785.5,517.59 L786.0,517.65 L786.5,517.69 L787.0,517.69 L787.5,517.70 L788.0,517.70 L788.5,517.69 L789.0,517.71 L789.5,517.70 L790.0,517.70 L790.5,517.76 L791.0,517.74 L791.5,517.77 L792.0,517.78 L792.5,517.74 L793.0,517.78 L793.5,517.77 L794.0,517.72 L794.5,517.72 L795.0,517.69 L795.5,517.71 L796.0,517.80 L796.5,517.85 L797.0,517.91 L797.5,517.95 L798.0,517.94 L798.5,517.96 L799.0,517.97 L799.5,517.98 L800.0,517.95 L800.5,517.92 L801.0,517.86 L801.5,517.83 L802.0,517.85 L802.5,517.89 L803.0,517.94 L803.5,518.00 L804.0,518.00 L804.5,517.98 L805.0,517.98 L805.5,517.92 L806.0,517.87 L806.5,517.82 L807.0,517.75 L807.5,517.71 L808.0,517.70 L808.5,517.69 L809.0,517.68 L809.5,517.68 L810.0,517.65 L810.5,517.65 L811.0,517.67 L811.5,517.75 L812.0,517.83 L812.5,517.88 L813.0,517.89 L813.5,517.83 L814.0,517.78 L814.5,517.71 L815.0,517.66 L815.5,517.65 L816.0,517.65 L816.5,517.69 L817.0,517.72 L817.5,517.73 L818.0,517.70 L818.5,517.62 L819.0,517.53 L819.5,517.47 L820.0,517.45 L820.5,517.51 L821.0,517.62 L821.5,517.70 L822.0,517.75 L822.5,517.75 L823.0,517.67 L823.5,517.61 L824.0,517.59 L824.5,517.57 L825.0,517.60 L825.5,517.59 L826.0,517.58 L826.5,517.53 L827.0,517.46 L827.5,517.40 L828.0,517.32 L828.5,517.33 L829.0,517.35 L829.5,517.41 L830.0,517.50 L830.5,517.54 L831.0,517.57 L831.5,517.59 L832.0,517.59 L832.5,517.56 L833.0,517.49 L833.5,517.40 L834.0,517.31 L834.5,517.28 L835.0,517.29 L835.5,517.32 L836.0,517.36 L836.5,517.32 L837.0,517.24 L837.5,517.17 L838.0,517.11 L838.5,517.10 L839.0,517.08 L839.5,517.06 L840.0,516.99 L840.5,516.96 L841.0,516.99 L841.5,517.02 L842.0,517.06 L842.5,517.06 L843.0,517.05 L843.5,517.03 L844.0,517.03 L844.5,517.05 L845.0,517.05 L845.5,517.03 L846.0,517.02 L846.5,516.99 L847.0,516.97 L847.5,516.99 L848.0,516.96 L848.5,516.93 L849.0,516.91 L849.5,516.83 L850.0,516.78 L850.5,516.74 L851.0,516.70 L851.5,516.69 L852.0,516.66 L852.5,516.61 L853.0,516.58 L853.5,516.58 L854.0,516.60 L854.5,516.67 L855.0,516.72 L855.5,516.69 L856.0,516.62 L856.5,516.50 L857.0,516.39 L857.5,516.32 L858.0,516.27 L858.5,516.25 L859.0,516.20 L859.5,516.15 L860.0,516.11 L860.5,516.07 L861.0,516.07 L861.5,516.06 L862.0,516.05 L862.5,516.01 L863.0,515.93 L863.5,515.90 L864.0,515.87 L864.5,515.85 L865.0,515.88 L865.5,515.84 L866.0,515.80 L866.5,515.75 L867.0,515.70 L867.5,515.66 L868.0,515.60 L868.5,515.55 L869.0,515.48 L869.5,515.42 L870.0,515.39 L870.5,515.35 L871.0,515.32 L871.5,515.29 L872.0,515.23 L872.5,515.19 L873.0,515.17 L873.5,515.10 L874.0,515.06 L874.5,514.97 L875.0,514.87 L875.5,514.85 L876.0,514.82 L876.5,514.82 L877.0,514.81 L877.5,514.73 L878.0,514.69 L878.5,514.66 L879.0,514.65 L879.5,514.68 L880.0,514.69 L880.5,514.66 L881.0,514.60 L881.5,514.50 L882.0,514.39 L882.5,514.31 L883.0,514.26 L883.5,514.25 L884.0,514.21 L884.5,514.16 L885.0,514.09 L885.5,514.02 L886.0,513.97 L886.5,513.92 L887.0,513.85 L887.5,513.78 L888.0,513.68 L888.5,513.63 L889.0,513.57 L889.5,513.52 L890.0,513.49 L890.5,513.40 L891.0,513.34 L891.5,513.24 L892.0,513.15 L892.5,513.08 L893.0,513.01 L893.5,512.98 L894.0,512.94 L894.5,512.90 L895.0,512.87 L895.5,512.83 L896.0,512.78 L896.5,512.72 L897.0,512.66 L897.5,512.55 L898.0,512.42 L898.5,512.29 L899.0,512.16 L899.5,512.09 L900.0,512.07 L900.5,512.04 L901.0,512.00 L901.5,511.94 L902.0,511.84 L902.5,511.77 L903.0,511.69 L903.5,511.63 L904.0,511.62 L904.5,511.60 L905.0,511.59 L905.5,511.57 L906.0,511.47 L906.5,511.34 L907.0,511.20 L907.5,511.09 L908.0,511.07 L908.5,511.06 L909.0,511.09 L909.5,511.08 L910.0,511.00 L910.5,510.90 L911.0,510.76 L911.5,510.65 L912.0,510.56 L912.5,510.50 L913.0,510.47 L913.5,510.47 L914.0,510.42 L914.5,510.38 L915.0,510.31 L915.5,510.20 L916.0,510.16 L916.5,510.14 L917.0,510.13 L917.5,510.11 L918.0,510.01 L918.5,509.88 L919.0,509.76 L919.5,509.66 L920.0,509.61 L920.5,509.56 L921.0,509.52 L921.5,509.49 L922.0,509.41 L922.5,509.35 L923.0,509.27 L923.5,509.17 L924.0,509.14 L924.5,509.08 L925.0,509.07 L925.5,509.08 L926.0,509.05 L926.5,508.99 L927.0,508.88 L927.5,508.74 L928.0,508.64 L928.5,508.58 L929.0,508.51 L929.5,508.42 L930.0,508.35 L930.5,508.29 L931.0,508.28 L931.5,508.36 L932.0,508.33 L932.5,508.26 L933.0,508.20 L933.5,508.04 L934.0,507.97 L934.5,507.88 L935.0,507.77 L935.5,507.73 L936.0,507.68 L936.5,507.68 L937.0,507.70 L937.5,507.65 L938.0,507.59 L938.5,507.51 L939.0,507.38 L939.5,507.31 L940.0,507.18 L940.5,507.07 L941.0,507.01 L941.5,506.91 L942.0,506.87 L942.5,506.84 L943.0,506.78 L943.5,506.80 L944.0,506.78 L944.5,506.74 L945.0,506.75 L945.5,506.67 L946.0,506.58 L946.5,506.47 L947.0,506.34 L947.5,506.25 L948.0,506.14 L948.5,506.08 L949.0,506.00 L949.5,505.92 L950.0,505.88 L950.5,505.81 L951.0,505.77 L951.5,505.71 L952.0,505.63 L952.5,505.53 L953.0,505.39 L953.5,505.27 L954.0,505.15 L954.5,505.06 L955.0,504.97 L955.5,504.88 L956.0,504.80 L956.5,504.70 L957.0,504.66 L957.5,504.65 L958.0,504.64 L958.5,504.66 L959.0,504.62 L959.5,504.56 L960.0,504.45 L960.5,504.30 L961.0,504.19 L961.5,504.04 L962.0,503.89 L962.5,503.76 L963.0,503.62 L963.5,503.54 L964.0,503.46 L964.5,503.37 L965.0,503.28 L965.5,503.15 L966.0,503.02 L966.5,502.92 L967.0,502.83 L967.5,502.75 L968.0,502.67 L968.5,502.58 L969.0,502.50 L969.5,502.42 L970.0,502.37 L970.5,502.27 L971.0,502.17 L971.5,502.05 L972.0,501.93 L972.5,501.86 L973.0,501.78 L973.5,501.73 L974.0,501.62 L974.5,501.53 L975.0,501.44 L975.5,501.34 L976.0,501.29 L976.5,501.15 L977.0,501.07 L977.5,500.96 L978.0,500.85 L978.5,500.78 L979.0,500.66 L979.5,500.60 L980.0,500.52 L980.5,500.40 L981.0,500.28 L981.5,500.11 L982.0,499.98 L982.5,499.89 L983.0,499.87 L983.5,499.87 L984.0,499.83 L984.5,499.78 L985.0,499.64 L985.5,499.50 L986.0,499.35 L986.5,499.19 L987.0,499.13 L987.5,499.04 L988.0,498.98 L988.5,498.94 L989.0,498.82 L989.5,498.73 L990.0,498.62 L990.5,498.52 L991.0,498.42 L991.5,498.29 L992.0,498.20 L992.5,498.07 L993.0,497.98 L993.5,497.90 L994.0,497.77 L994.5,497.69 L995.0,497.61 L995.5,497.53 L996.0,497.48 L996.5,497.35 L997.0,497.22 L997.5,497.11 L998.0,497.01 L998.5,496.96 L999.0,496.90 L999.5,496.83 L1000.0,496.73 L1000.5,496.64 L1001.0,496.46 L1001.5,496.28 L1002.0,496.10 L1002.5,496.00 L1003.0,495.94 L1003.5,495.87 L1004.0,495.84 L1004.5,495.70 L1005.0,495.55 L1005.5,495.44 L1006.0,495.27 L1006.5,495.19 L1007.0,495.10 L1007.5,495.01 L1008.0,494.97 L1008.5,494.84 L1009.0,494.69 L1009.5,494.48 L1010.0,494.28 L1010.5,494.15 L1011.0,494.08 L1011.5,494.03 L1012.0,493.99 L1012.5,493.89 L1013.0,493.74 L1013.5,493.67 L1014.0,493.62 L1014.5,493.61 L1015.0,493.68 L1015.5,493.65 L1016.0,493.59 L1016.5,493.55 L1017.0,493.43 L1017.5,493.29 L1018.0,493.13 L1018.5,492.92 L1019.0,492.72 L1019.5,492.55 L1020.0,492.45 L1020.5,492.33 L1021.0,492.28 L1021.5,492.28 L1022.0,492.23 L1022.5,492.24 L1023.0,492.19 L1023.5,492.04 L1024.0,491.95 L1024.5,491.80 L1025.0,491.68 L1025.5,491.62 L1026.0,491.53 L1026.5,491.40 L1027.0,491.29 L1027.5,491.18 L1028.0,491.09 L1028.5,491.06 L1029.0,491.00 L1029.5,490.99 L1030.0,490.95 L1030.5,490.87 L1031.0,490.87 L1031.5,490.82 L1032.0,490.81 L1032.5,490.85 L1033.0,490.81 L1033.5,490.71 L1034.0,490.60 L1034.5,490.44 L1035.0,490.35 L1035.5,490.27 L1036.0,490.18 L1036.5,490.10 L1037.0,489.95 L1037.5,489.87 L1038.0,489.75 L1038.5,489.60 L1039.0,489.50 L1039.5,489.40 L1040.0,489.30 L1040.5,489.26 L1041.0,489.17 L1041.5,489.01 L1042.0,488.93 L1042.5,488.84 L1043.0,488.85 L1043.5,488.88 L1044.0,488.87 L1044.5,488.83 L1045.0,488.75 L1045.5,488.72 L1046.0,488.66 L1046.5,488.68 L1047.0,488.65 L1047.5,488.60 L1048.0,488.60 L1048.5,488.48 L1049.0,488.44 L1049.5,488.36 L1050.0,488.27 L1050.5,488.21 L1051.0,488.09 L1051.5,487.98 L1052.0,487.86 L1052.5,487.72 L1053.0,487.52 L1053.5,487.33 L1054.0,487.14 L1054.5,487.04 L1055.0,487.10 L1055.5,487.21 L1056.0,487.37 L1056.5,487.43 L1057.0,487.36 L1057.5,487.25 L1058.0,487.02 L1058.5,486.82 L1059.0,486.72 L1059.5,486.62 L1060.0,486.63 L1060.5,486.62 L1061.0,486.50 L1061.5,486.40 L1062.0,486.19 L1062.5,486.05 L1063.0,485.96 L1063.5,485.75 L1064.0,485.70 L1064.5,485.57 L1065.0,485.41 L1065.5,485.48 L1066.0,485.36 L1066.5,485.30 L1067.0,485.25 L1067.5,485.03 L1068.0,484.93 L1068.5,484.83 L1069.0,484.72 L1069.5,484.67 L1070.0,484.63 L1070.5,484.51 L1071.0,484.44 L1071.5,484.35 L1072.0,484.22 L1072.5,484.16 L1073.0,484.07 L1073.5,483.98 L1074.0,483.85 L1074.5,483.70 L1075.0,483.55 L1075.5,483.50 L1076.0,483.41 L1076.5,483.39 L1077.0,483.35 L1077.5,483.16 L1078.0,483.03 L1078.5,482.78 L1079.0,482.57 L1079.5,482.47 L1080.0,482.41 L1080.5,482.40 L1081.0,482.32 L1081.5,482.25 L1082.0,482.16 L1082.5,482.07 L1083.0,481.98 L1083.5,481.85 L1084.0,481.66 L1084.5,481.44 L1085.0,481.37 L1085.5,481.26 L1086.0,481.13 L1086.5,481.02 L1087.0,480.74 L1087.5,480.43 L1088.0,480.24 L1088.5,480.22 L1089.0,480.38 L1089.5,480.65 L1090.0,480.88 L1090.5,480.91 L1091.0,480.70 L1091.5,480.40 L1092.0,480.07 L1092.5,479.77 L1093.0,479.60 L1093.5,479.55 L1094.0,479.43 L1094.5,479.42 L1095.0,479.37 L1095.5,479.22 L1096.0,479.16 L1096.5,478.99 L1097.0,478.88 L1097.5,478.75 L1098.0,478.64 L1098.5,478.53 L1099.0,478.30 L1099.5,478.10 L1100.0,477.87 L1100.5,477.72 L1101.0,477.74 L1101.5,477.74 L1102.0,477.70 L1102.5,477.61 L1103.0,477.41 L1103.5,477.25 L1104.0,477.10 L1104.5,476.90 L1105.0,476.74 L1105.5,476.61 L1106.0,476.51 L1106.5,476.59 L1107.0,476.61 L1107.5,476.55 L1108.0,476.56 L1108.5,476.38 L1109.0,476.22 L1109.5,475.99 L1110.0,475.65 L1110.5,475.42 L1111.0,475.28 L1111.5,475.33 L1112.0,475.41 L1112.5,475.47 L1113.0,475.40 L1113.5,475.22 L1114.0,475.07 L1114.5,474.84 L1115.0,474.79 L1115.5,474.76 L1116.0,474.74 L1116.5,474.82 L1117.0,474.71 L1117.5,474.65 L1118.0,474.55 L1118.5,474.38 L1119.0,474.28 L1119.5,474.00 L1120.0,473.67 L1120.5,473.37 L1121.0,473.08 L1121.5,472.94 L1122.0,472.88 L1122.5,472.84 L1123.0,472.71 L1123.5,472.55 L1124.0,472.30 L1124.5,471.99 L1125.0,471.81 L1125.5,471.69 L1126.0,471.63 L1126.5,471.59 L1127.0,471.50 L1127.5,471.43 L1128.0,471.40 L1128.5,471.50 L1129.0,471.58 L1129.5,471.48 L1130.0,471.45 L1130.5,471.30 L1131.0,471.23 L1131.5,471.17 L1132.0,470.96 L1132.5,470.72 L1133.0,470.37 L1133.5,470.13 L1134.0,469.94 L1134.5,469.80 L1135.0,469.71 L1135.5,469.64 L1136.0,469.53 L1136.5,469.42 L1137.0,469.25 L1137.5,469.02 L1138.0,468.87 L1138.5,468.74 L1139.0,468.74 L1139.5,468.83 L1140.0,468.85 L1140.5,468.86 L1141.0,468.84 L1141.5,468.70 L1142.0,468.64 L1142.5,468.54 L1143.0,468.46 L1143.5,468.40 L1144.0,468.26 L1144.5,468.15 L1145.0,467.99 L1145.5,467.92 L1146.0,467.90 L1146.5,467.88 L1147.0,467.81 L1147.5,467.61 L1148.0,467.42 L1148.5,467.21 L1149.0,467.03 L1149.5,467.00 L1150.0,466.89 L1150.5,466.83 L1151.0,466.88 L1151.5,466.87 L1152.0,466.94 L1152.5,466.90 L1153.0,466.58 L1153.5,466.14 L1154.0,465.77 L1154.5,465.41 L1155.0,465.24 L1155.5,465.21 L1156.0,464.99 L1156.5,464.82 L1157.0,464.73 L1157.5,464.57 L1158.0,464.39 L1158.5,464.36 L1159.0,464.20 L1159.5,464.10 L1160.0,464.19 L1160.5,464.06 L1161.0,463.98 L1161.5,463.79 L1162.0,463.50 L1162.5,463.32 L1163.0,463.20 L1163.5,463.17 L1164.0,463.20 L1164.5,463.16 L1165.0,463.09 L1165.5,463.05 L1166.0,462.91 L1166.5,462.91 L1167.0,462.97 L1167.5,462.97 L1168.0,463.02 L1168.5,462.78 L1169.0,462.35 L1169.5,462.01 L1170.0,461.60 L1170.5,461.60 L1171.0,461.62 L1171.5,461.63 L1172.0,461.74 L1172.5,461.50 L1173.0,461.41 L1173.5,461.21 L1174.0,460.94 L1174.5,460.78 L1175.0,460.54 L1175.5,460.46 L1176.0,460.48 L1176.5,460.66 L1177.0,460.84 L1177.5,460.89 L1178.0,460.82 L1178.5,460.54 L1179.0,460.32 L1179.5,460.29 L1180.0,460.36 L1180.5,460.49 L1181.0,460.61 L1181.5,460.48 L1182.0,460.18 L1182.5,459.91 L1183.0,459.52 L1183.5,459.32 L1184.0,459.36 L1184.5,459.32 L1185.0,459.32 L1185.5,459.29 L1186.0,459.12 L1186.5,459.08 L1187.0,459.06 L1187.5,459.03 L1188.0,458.84 L1188.5,458.59 L1189.0,458.23 L1189.5,457.86 L1190.0,457.94 L1190.5,457.92 L1191.0,458.00 L1191.5,458.19 L1192.0,457.92 L1192.5,457.75 L1193.0,457.66 L1193.5,457.43 L1194.0,457.45 L1194.5,457.46 L1195.0,457.46 L1195.5,457.42 L1196.0,457.30 L1196.5,457.15 L1197.0,456.90 L1197.5,456.76 L1198.0,456.55 L1198.5,456.50 L1199.0,456.37 L1199.5,456.19 L1200.0,456.14 L1200.5,455.86 L1201.0,455.73 L1201.5,455.70 L1202.0,455.69 L1202.5,455.74 L1203.0,455.76 L1203.5,455.73 L1204.0,455.44 L1204.5,455.24 L1205.0,455.09 L1205.5,454.85 L1206.0,454.91 L1206.5,454.85 L1207.0,454.71 L1207.5,454.70 L1208.0,454.70 L1208.5,454.73 L1209.0,454.82 L1209.5,454.97 L1210.0,454.76 L1210.5,454.77 L1211.0,454.74 L1211.5,454.34 L1212.0,454.23 L1212.5,453.83 L1213.0,453.42 L1213.5,453.25 L1214.0,453.04 L1214.5,452.86 L1215.0,452.67 L1215.5,452.65 L1216.0,452.60 L1216.5,452.77 L1217.0,452.96 L1217.5,452.87 L1218.0,452.93 L1218.5,452.87 L1219.0,452.84 L1219.5,452.89 L1220.0,452.61 L1220.5,452.35 L1221.0,452.04 L1221.5,451.74 L1222.0,451.64 L1222.5,451.43 L1223.0,451.32 L1223.5,451.22 L1224.0,451.16 L1224.5,451.13 L1225.0,451.12 L1225.5,451.12 L1226.0,451.10 L1226.5,451.17 L1227.0,451.08 L1227.5,450.86 L1228.0,450.65 L1228.5,450.46 L1229.0,450.39 L1229.5,450.60 L1230.0,450.78 L1230.5,450.66 L1231.0,450.47 L1231.5,450.03 L1232.0,449.67" fill="none" stroke="#94202a" stroke-width="2.6" stroke-linejoin="round" stroke-linecap="butt"/>
</g>
<g id="verts">
<line x1="1232.3" y1="709.8" x2="1232.3" y2="663.8" stroke="#15157e" stroke-width="2.6" stroke-opacity="0.8"/>
<line x1="1232.3" y1="608.0" x2="1232.3" y2="565.0" stroke="#1f8a1f" stroke-width="2.6" stroke-opacity="0.65"/>
<line x1="1232.3" y1="585.5" x2="1232.3" y2="542.5" stroke="#1c1cf0" stroke-width="2.6" stroke-opacity="0.9"/>
<line x1="1232.3" y1="542.0" x2="1232.3" y2="498.0" stroke="#12e8ee" stroke-width="2.6" stroke-opacity="0.9"/>
<line x1="1232.3" y1="498.2" x2="1232.3" y2="453.2" stroke="#93209a" stroke-width="2.6" stroke-opacity="0.7"/>
<line x1="1232.3" y1="450.0" x2="1232.3" y2="408.0" stroke="#94202a" stroke-width="2.6" stroke-opacity="0.6"/>
</g>
<g id="ticklabels">
<text x="103.00" y="795.2" text-anchor="middle" class="tk">500</text>
<text x="264.94" y="795.2" text-anchor="middle" class="tk">1000</text>
<text x="426.39" y="795.2" text-anchor="middle" class="tk">1500</text>
<text x="587.33" y="795.2" text-anchor="middle" class="tk">2000</text>
<text x="748.77" y="795.2" text-anchor="middle" class="tk">2500</text>
<text x="910.21" y="795.2" text-anchor="middle" class="tk">3000</text>
<text x="1071.66" y="795.2" text-anchor="middle" class="tk">3500</text>
<text x="1231.00" y="795.2" text-anchor="middle" class="tk">4000</text>
</g>
<text class="ax" style="font-size:54.7px" x="434.2" y="872.6">Wavenumber</text>
<text class="ax" x="768.0" y="872.6">(cm</text>
<text class="ax" style="font-size:36px" x="857.0" y="844.6">-1</text>
<text class="ax" x="888.0" y="872.6">)</text>
<text class="ax" transform="translate(46.4,604.4) rotate(-90)">A</text>
<text class="ax" style="font-size:54.4px" transform="translate(46.4,562.0) rotate(-90)">bsorbance</text>
<text class="ax" transform="translate(46.4,309.0) rotate(-90)">(a.u.)</text>
<text class="an" x="1067.2" y="404.2">100% N<tspan font-size="22.5px" dy="7">2</tspan></text>
<text class="an" x="1066.7" y="693.1">100% Ar</text>
<g id="arrow">
<line x1="1122.8" y1="470.0" x2="1122.8" y2="493.3" stroke="#000" stroke-width="6.4"/>
<line x1="1122.8" y1="512.0" x2="1122.8" y2="534.6" stroke="#000" stroke-width="6.4"/>
<line x1="1122.8" y1="552.7" x2="1122.8" y2="575.3" stroke="#000" stroke-width="6.4"/>
<line x1="1122.8" y1="594.2" x2="1122.8" y2="617.0" stroke="#000" stroke-width="6.4"/>
<line x1="1122.8" y1="634.0" x2="1122.8" y2="657.4" stroke="#000" stroke-width="6.4"/>
<line x1="1122.8" y1="436" x2="1122.8" y2="452" stroke="#000" stroke-width="6.4"/>
<path d="M1122.8,421.2 L1138.0,450.6 L1122.8,441.5 L1107.6,450.6 Z" fill="#000"/>
</g>
</svg>
</body></html>
